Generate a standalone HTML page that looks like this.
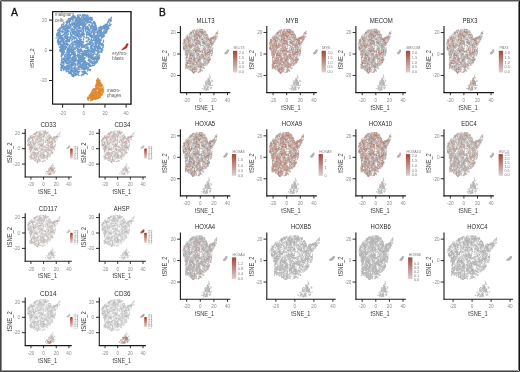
<!DOCTYPE html>
<html><head><meta charset="utf-8"><style>
html,body{margin:0;padding:0;background:#fff;width:520px;height:372px;overflow:hidden}
svg{display:block}
text{font-family:"Liberation Sans",sans-serif}
defs path{vector-effect:non-scaling-stroke;stroke-linecap:round;fill:none}
</style></head><body>
<svg width="520" height="372" viewBox="0 0 520 372">
<defs><linearGradient id="grad" x1="0" y1="0" x2="0" y2="1"><stop offset="0" stop-color="#a2463a"/><stop offset="1" stop-color="#d8d2d2"/></linearGradient>
<linearGradient id="gradA" x1="0" y1="0" x2="0" y2="1"><stop offset="0" stop-color="#a8301f"/><stop offset="1" stop-color="#e4d4d0"/></linearGradient>
<path id="PM" d="M-6.5 20.9h0M-12.7-7.2h0M-13.5-5.4h0M-4.4-7.5h0M-17.2 15.4h0M21.4 14.2h0M-22.1 4.2h0M16.4-0.8h0M14.9 2.2h0M21.9 14.7h0M14.3 0.7h0M10.5 12.0h0M-10.7-10.1h0M-20.3-0.6h0M16.1 12.6h0M-17.3 14.0h0M5.5 12.4h0M-9.4 10.8h0M5.2 18.2h0M-2.1-5.5h0M-15.2 5.7h0M-6.1 18.4h0M-9.6-17.5h0M-1.6-16.6h0M0.9-3.1h0M-0.1-4.1h0M-10.1 8.4h0M-15.7 8.8h0M-15.9-9.1h0M-19.4 3.0h0M-3.4 6.4h0M-23.3 4.4h0M-16.4 18.6h0M1.1-15.8h0M7.4 7.9h0M9.0 17.9h0M17.5 14.5h0M11.7 7.9h0M-7.0 9.7h0M-19.5 0.1h0M-3.8-8.2h0M-7.4-6.4h0M-9.8-17.7h0M-12.7 3.3h0M-20.1 1.6h0M3.9 0.7h0M-2.2 10.6h0M-8.9 14.7h0M-24.5 6.5h0M-23.4 10.9h0M8.3 15.8h0M-10.0 12.2h0M-6.9 5.8h0M4.8-3.3h0M1.4-12.0h0M6.7 9.0h0M-0.9 22.6h0M16.1-0.4h0M11.7 5.8h0M-12.0-13.2h0M-12.5-0.4h0M7.9-0.7h0M-5.4 22.9h0M-12.2 7.5h0M-6.4 18.0h0M5.9 10.1h0M-4.2 1.7h0M-6.0 4.4h0M-6.5 20.9h0M12.1 7.6h0M-19.6 0.5h0M6.3 20.4h0M-21.0 8.2h0M-7.9 5.0h0M5.9-13.9h0M3.0 1.9h0M-5.1 2.3h0M0.3-8.6h0M-1.8 4.3h0M-21.5-0.3h0M11.2 8.1h0M-11.9-10.6h0M-21.5 5.4h0M-21.3-13.5h0M-7.8 19.3h0M-17.4 14.0h0M-14.3 18.9h0M-18.9 13.2h0M10.7 15.7h0M8.6 0.9h0M-20.0 2.0h0M-13.9-11.9h0M2.4-1.1h0M2.2 20.3h0M-20.8 15.2h0M-6.3-13.2h0M-14.1-13.1h0M-8.8 12.5h0M-2.4 18.8h0M-19.9-10.7h0M-12.1 16.7h0M-17.7 2.4h0M-24.6 12.6h0M-5.7 17.1h0M-15.8-2.8h0M-9.5-5.5h0M1.2 17.5h0M-1.4 16.3h0M18.0 3.8h0M-3.3 19.7h0M4.0-12.1h0M14.7 11.5h0M6.7 9.4h0M9.3 8.0h0M-10.1-17.4h0M7.1-8.7h0M-5.2-9.2h0M12.0 9.0h0M-16.7 16.4h0M-24.8 4.7h0M-16.2-7.3h0M-18.4 13.3h0M-2.7-0.1h0M1.1-8.9h0M-3.5 16.4h0M6.6-10.9h0M3.2 21.5h0M18.3 8.4h0M-10.0-5.7h0M7.7 16.8h0M-2.8-10.4h0M-4.9-12.2h0M-14.4 14.0h0M-4.3 2.0h0M13.2-2.0h0M10.8-4.7h0M2.5 8.3h0M6.9 1.5h0M-18.8 10.2h0M-20.8-10.1h0M-15.9 9.7h0M-4.1-1.5h0M16.4-1.2h0M-17.2 2.6h0M9.8-6.6h0M12.0-6.4h0M16.2 12.8h0M-8.0-10.9h0M24.8 20.1h0M-22.2 8.5h0M-20.0-12.4h0M-4.8-6.0h0M-21.9 4.7h0M-17.8 13.9h0M2.8-2.7h0M6.2 9.5h0M-13.7-8.7h0M-7.4-14.2h0M-13.3 5.8h0M11.2 2.4h0M1.2-5.4h0M-5.8 0.3h0M17.0 10.5h0M-9.0 5.4h0M-15.8 7.3h0M-13.4 1.1h0M-19.2-8.7h0M-13.4-2.1h0M-10.0 0.3h0M12.1 14.7h0M-14.5 10.3h0M2.2 15.2h0M-0.3-9.0h0M2.3 1.1h0M-9.2 22.2h0M7.7 21.3h0M-0.6-9.5h0M13.3-0.8h0M-6.2 15.5h0M-2.5 2.7h0M-3.8 6.6h0M-3.0-6.8h0M-10.0-10.6h0M-0.2 15.0h0M-11.2 0.3h0M-18.6-0.1h0M7.2 7.0h0M-4.6 14.6h0M18.6 6.3h0M-0.3 22.3h0M-8.4 7.6h0M-3.4 10.4h0M1.2 3.1h0M-15.3 0.7h0M11.8-3.3h0M-12.3-13.7h0M14.9 14.5h0M9.4-1.9h0M13.2 6.2h0M-16.9-7.3h0M-7.6-10.0h0M-11.7 0.2h0M-4.8 20.1h0M2.9-15.9h0M-7.4-10.1h0M11.6 9.2h0M-9.3-15.7h0M4.2 19.4h0M-24.8 9.5h0M-18.3 11.2h0M-12.2 16.5h0M-2.9 16.6h0M-3.8 18.5h0M1.5 18.9h0M17.3 10.8h0M11.7 8.2h0M-11.6 12.4h0M-12.4 10.3h0M-1.0-12.3h0M-3.0-6.5h0M-5.7-14.3h0M21.5 11.6h0M-14.2 1.5h0M-14.5-12.6h0M-11.4-6.9h0M7.7-1.2h0M-11.8-16.6h0M-0.1 6.8h0M11.1 1.2h0M-7.6 15.0h0M-8.3 0.2h0M-9.8 3.2h0M8.3-8.5h0M-10.9 20.5h0M-13.4 19.6h0M-0.3-7.0h0M-4.0 12.7h0M11.6 14.1h0M-22.8 14.2h0M-10.4 20.3h0M5.8 10.7h0M-10.2-17.7h0M-4.9-8.8h0M-21.5 2.4h0M-5.4 12.5h0M-21.7 8.4h0M10.2 2.2h0M10.6 9.3h0M-14.0-11.1h0M13.1 1.5h0M17.7 14.9h0M9.1 6.8h0M-18.8 17.2h0M3.9-1.0h0M-11.6-9.7h0M9.5-2.4h0M5.2 5.2h0M-5.6-2.2h0M-12.1-10.4h0M6.4 2.2h0M1.8-9.5h0M-20.7 6.5h0M17.2 3.0h0M-14.3-12.2h0M-17.7 13.8h0M3.8 8.0h0M10.3 8.4h0M-3.9 12.2h0M-0.0 19.8h0M-12.9 7.3h0M-17.9 1.5h0M-6.7-16.5h0M-0.1 21.3h0M8.9 3.3h0M-14.1 19.2h0M12.7 4.8h0M-2.9 5.4h0M-16.2-14.3h0M-1.9 22.1h0M-19.2 14.9h0M20.4 14.7h0M9.2 18.0h0M-12.0 12.7h0M-8.2 18.6h0M-16.5 10.1h0M-20.4 9.2h0M7.1 11.4h0M-4.5-3.1h0M-6.7 2.3h0M-25.1 9.3h0M-0.4 5.0h0M4.1-13.2h0M-21.4-0.8h0M8.9 3.4h0M-19.8-11.2h0M-19.2 1.7h0M-20.7-10.6h0M5.3-9.0h0M11.3-0.3h0M-2.3-10.6h0M12.4-3.2h0M18.5 15.3h0M7.2 20.8h0M14.7 5.0h0M-9.1 7.0h0M-10.7 21.5h0M13.2 7.7h0M-19.0-0.9h0M4.0 14.0h0M-13.5 5.6h0M17.3 10.1h0M-1.1-11.3h0M0.7 10.3h0M12.4 1.3h0M-20.2-0.5h0M-4.4 14.2h0M-19.0 4.4h0M-18.4 0.7h0M19.8 15.1h0M-2.1 12.2h0M-7.4 9.4h0M-2.1 2.6h0M-7.6 8.0h0M18.6 15.8h0M-9.4 11.6h0M22.0 15.4h0M16.7 0.5h0M4.2 19.1h0M-0.2 15.4h0M-0.0-16.5h0M-1.5-9.4h0M22.2 15.3h0M-11.3-1.4h0M-10.0-16.3h0M-5.2-9.6h0M-6.0-9.1h0M7.6-5.6h0M-0.7-5.6h0M-9.4 17.9h0M-0.5 7.3h0M-16.5 2.0h0M7.0-4.1h0M-1.3-1.0h0M-8.8 5.7h0M-18.9-12.3h0M2.1 20.9h0M-14.8-6.5h0M-19.5 15.2h0M13.1-7.2h0M15.1 9.0h0M-17.9-6.3h0M1.4 20.9h0M-19.4 1.1h0M-24.9 11.0h0M-15.9-13.3h0M-7.7 16.8h0M11.2 17.1h0M-1.5-9.9h0M-15.3 14.7h0M-25.3 10.6h0M-6.5 19.5h0M8.6 17.6h0M-7.6-4.4h0M-16.7 5.7h0M3.9-11.4h0M-1.2 3.1h0M-10.5-14.2h0M6.1 21.5h0M-17.8 3.7h0M-21.4 5.4h0M-12.0 8.7h0M-19.5-8.1h0M1.2-9.7h0M-3.3-1.2h0M-14.1 14.8h0M-3.4 14.2h0M-3.0 12.1h0M13.7-5.1h0M8.3 15.1h0M2.4 8.2h0M-19.4 13.6h0M-7.2 6.0h0M3.9 10.3h0M-12.5-15.0h0M0.7-1.0h0M13.7 9.5h0M-2.3-6.2h0M-4.6 23.0h0M-12.2-7.4h0M21.3 15.9h0M-16.1 13.9h0M0.2 22.8h0M-8.5 11.6h0M-20.4 16.9h0M20.2 16.0h0M8.0 4.8h0M-8.4-15.3h0M-2.4-10.8h0M-0.2-8.5h0M19.1 8.9h0M7.1 4.5h0M6.2-6.9h0M17.0 11.9h0M7.1-4.7h0M-5.8 5.3h0M-7.0 9.9h0M8.9-10.5h0M-2.7 9.8h0M-6.2 16.4h0M-15.7 4.2h0M-7.1 9.5h0M3.0 8.1h0M5.9-4.9h0M-4.2 15.4h0M-21.6-11.9h0M0.5 16.6h0M-24.1 13.4h0M1.1 2.0h0M-11.1-10.8h0M-3.9 14.8h0M4.5-2.3h0M-9.5-1.8h0M-6.0 6.0h0M2.6 10.4h0M-22.7-0.0h0M13.9-2.2h0M5.0-3.0h0M18.9 10.3h0M-23.9 7.0h0M-15.9 4.5h0M-1.0 16.0h0M20.6 16.3h0M-18.6-12.7h0M-0.5-1.6h0M-8.6 17.7h0M-8.7 8.4h0M2.3 3.6h0M-6.1 9.5h0M-5.5 18.6h0M12.3-5.7h0M-4.8 10.7h0M-15.5 9.0h0M-16.8-13.9h0M12.3-4.4h0M11.5 15.2h0M16.3 0.8h0M-15.8-10.4h0M-5.9-16.1h0M5.4-10.4h0M-15.0-1.9h0M12.0 13.0h0M-9.9 21.0h0M-6.3 2.1h0M18.1 11.2h0M-10.0-16.7h0M-24.0 10.5h0M16.6 15.4h0M-19.1 16.8h0M4.0 1.6h0M-3.6 3.6h0M-11.0 9.1h0M2.0 21.3h0M11.4-6.7h0M8.6-9.2h0M-10.6-9.6h0M13.6 2.6h0M6.5-11.0h0M4.7 13.3h0M-1.4 13.8h0M6.7 14.8h0M-21.2-13.8h0M-24.5 4.6h0M-0.8-4.3h0M-20.8 16.4h0M-9.9-0.5h0M-20.7-1.2h0M-24.5 6.0h0M-6.5 9.5h0M-19.9-11.2h0M-18.4-6.7h0M-2.1-12.8h0M-1.3 18.1h0M3.2 22.8h0M-2.5 13.2h0M-18.7-12.8h0M-16.5 7.2h0M-19.6 3.5h0M-20.9-5.7h0M-22.4 5.0h0M-8.6-13.8h0M-22.2 13.4h0M-18.8 5.4h0M9.7 14.0h0M0.8-10.9h0M-17.2 0.7h0M-8.9 22.3h0M-15.9 8.3h0M-1.3-7.6h0M3.6 20.8h0M-4.6 9.0h0M-21.5 8.4h0M8.2 9.3h0M7.1 0.7h0M7.7 20.7h0M-21.2 14.3h0M-7.5-8.0h0M7.4-3.7h0M-2.1-8.1h0M-12.2 8.4h0M-11.7-8.9h0M-5.5 2.4h0M9.4 14.7h0M-18.7 14.7h0M5.8 21.3h0M16.5 14.6h0M17.0 3.0h0M-1.6-16.5h0M7.2 12.3h0M-13.9-5.9h0M-17.7-3.4h0M0.1 8.8h0M13.3 0.0h0M-13.8 6.4h0M2.6-12.1h0M17.2-1.4h0M-16.1 1.7h0M23.2 18.9h0M4.2-7.1h0M-10.8-5.3h0M-13.5-7.3h0M-14.2 19.4h0M-22.2 12.4h0M21.7 13.9h0M-9.2-12.2h0M-10.2 2.0h0M11.2 6.6h0M-12.0 7.5h0M-3.7 12.3h0M-24.4 8.0h0M18.1 2.6h0M1.9 18.9h0M-1.5-12.6h0M-1.2 17.4h0M1.9 19.6h0M3.0 1.0h0M6.0-7.8h0M-11.7 4.2h0M-16.1 9.0h0M-7.2 19.9h0M-5.5-4.8h0M6.0-1.1h0M-7.3 21.0h0M-7.1 18.3h0M-18.2 10.0h0M-10.2 8.7h0M-21.0-3.6h0M3.8 11.1h0M-5.6 15.3h0M-16.7 18.0h0M6.6-8.4h0M-15.2 10.2h0M-13.5-0.8h0M-3.2 0.5h0M-8.2-11.3h0M22.2 17.1h0M-20.0-6.2h0M25.4 20.4h0M-11.2 8.8h0M-8.8-14.5h0M5.7 16.1h0M-15.2-8.6h0M13.7 0.9h0M-7.5-3.8h0M-2.7 5.0h0M-19.5 2.1h0M-0.1 15.9h0M3.9-8.9h0M-18.5 2.3h0M-19.4-9.1h0M0.4-0.4h0M7.2 12.0h0M22.8 18.5h0M17.4 9.4h0M-5.9-3.8h0M-1.0-12.3h0M16.6 2.9h0M6.4-13.2h0M-10.7 16.0h0M-0.9 20.3h0M-19.8 5.6h0M-12.9 19.6h0M7.1 1.1h0M17.3 13.9h0M-9.2 0.2h0M-9.2-5.4h0M-8.5-4.7h0M-14.2-9.4h0M-5.8-3.3h0M0.3 8.6h0M0.7-10.8h0M-20.7 12.1h0M-0.6-5.4h0M-12.5 11.1h0M-16.7-8.9h0M-9.7-6.5h0M-13.6 19.4h0M-21.1 6.5h0M-15.4 4.4h0M5.5 4.5h0M23.5 15.6h0M6.6 15.0h0M14.4 2.6h0M10.9 15.1h0M-21.0-4.4h0M-1.6-1.3h0M-12.1-12.8h0M-2.1-0.1h0M-0.6 22.3h0M-21.8 3.1h0M-23.8 4.6h0M10.3 0.8h0M-17.1 0.8h0M-3.6-13.3h0M-23.2 7.6h0M-13.8 18.4h0M-8.9-15.1h0M-6.3 21.2h0M-16.4-14.6h0M10.0 13.7h0M-6.0 22.6h0M-5.0 7.7h0M-5.6-16.3h0M12.5 9.7h0M22.3 15.1h0M6.6-5.7h0M-19.5 14.6h0M-2.5-5.1h0M7.4-0.4h0M-3.6-1.6h0M-13.3-0.9h0M-14.3 18.6h0M-1.0-6.7h0M-8.3-14.6h0M20.2 11.9h0M-13.1-5.5h0M-13.6 18.3h0M-12.7 11.6h0M11.3 4.3h0M-8.3 21.7h0M-14.1 18.4h0M1.2-1.9h0M12.5 4.2h0M-22.7 5.1h0M-3.7-7.2h0M-10.4-1.0h0M-12.8-0.8h0M-5.5 17.0h0M-19.5 7.7h0M18.6 5.5h0M8.7 6.3h0M4.2 14.7h0M4.7 11.3h0M2.5-10.6h0M12.9-2.6h0M9.0 18.1h0M-12.9 0.3h0M2.9 9.5h0M-8.4-14.5h0M-1.1 5.3h0M-11.7-13.7h0M5.5-11.1h0M2.8 20.4h0M-12.4 0.4h0M-8.5-15.5h0M-8.0-6.7h0M-17.6-12.4h0M-15.3-4.1h0M-4.5 15.1h0M-19.8-7.9h0M13.9 1.3h0M-8.2 16.5h0M-13.9-3.4h0M-14.2 5.7h0M-14.9-6.3h0M19.4 9.2h0M4.1-4.0h0M18.6 15.5h0M25.7 16.7h0M-9.8-9.6h0M-0.7-15.1h0M19.2 12.7h0M-16.6-5.1h0M-23.3 11.2h0M5.2 5.2h0M-8.3-10.3h0M16.2 13.4h0M-13.8-12.9h0M-17.1-13.3h0M-9.4 13.2h0M-4.0-14.5h0M11.1 1.1h0M-13.7 13.9h0M-7.4 16.0h0M3.6-12.2h0M9.0 11.2h0M-18.8-0.3h0M6.6 2.0h0M2.2-8.5h0M4.6 12.7h0M-14.2 1.8h0M-16.9-6.1h0M-1.1 10.1h0M-4.3-7.6h0M11.9 1.4h0M-17.2 14.0h0M-11.1 0.3h0M-19.8 3.3h0M-0.2-7.9h0M10.4 16.5h0M-13.4-11.0h0M9.4 14.1h0M-12.9 16.0h0M-6.4 12.2h0M-15.0-1.0h0M-17.4 10.8h0M-14.3-6.9h0M-20.3-11.1h0M3.9 21.6h0M9.0 12.1h0M-18.7 3.9h0M-21.8 7.9h0M-21.6 14.0h0M0.3-12.0h0M-4.4 15.6h0M-15.1-6.7h0M16.1 15.2h0M4.8-9.9h0M-20.7 7.3h0M-4.5-0.1h0M-16.3 6.1h0M7.4-7.9h0M-3.9 4.1h0M16.0 11.1h0M-17.0-5.8h0M-13.1-5.7h0M-4.7-3.3h0M-13.6 17.8h0M-20.6-10.2h0M17.3 13.4h0M-24.0 3.3h0M23.4 18.3h0M2.7 22.4h0M-2.4 6.4h0M-15.2-4.8h0M-0.2-9.3h0M-5.7 20.2h0M-5.7-9.5h0M-10.3 11.1h0M-2.2 8.4h0M-14.8-8.9h0M8.7 17.2h0M-0.9-16.6h0M-11.2 13.8h0M1.9 16.4h0M-17.3 13.6h0M1.8 20.7h0M8.1-6.6h0M-14.9-8.4h0M-15.8 14.6h0M12.7 1.6h0M-13.4-7.3h0M-17.4 12.8h0M-14.8 16.0h0M-7.1 1.8h0M26.0 21.5h0M-1.7-2.5h0M-11.4 21.0h0M9.6 13.3h0M-24.4 4.6h0M-17.3 7.6h0M-18.6-5.2h0M-2.9-11.8h0M2.3-4.0h0M-9.2 16.4h0M16.7 14.6h0M-15.2 19.3h0M-17.8 15.1h0M-21.3-4.4h0M-23.0 12.7h0M-1.8-1.3h0M-0.4-7.6h0M-11.8 20.2h0M4.9 16.3h0M-13.5-15.1h0M7.6 16.0h0M10.5-9.6h0M-15.0-6.7h0M22.1 16.5h0M10.7-8.6h0M-4.3-4.4h0M-15.0-3.2h0M6.2-4.3h0M1.2-8.8h0M-19.7 5.4h0M-17.1 13.3h0M-19.9-0.1h0M-19.1-10.7h0M-8.3 4.6h0M-18.6 7.1h0M-15.6-6.1h0M-12.6 2.2h0M8.2 17.5h0M2.5 20.2h0M-7.3 9.6h0M9.6 14.8h0M-20.6 2.4h0M13.4 2.3h0M2.5-1.0h0M3.6 22.8h0M-3.2-5.1h0M-18.3-1.3h0M0.4-10.3h0M-10.7 20.1h0M-1.8 3.0h0M-9.5 15.1h0M-6.1-15.0h0M12.8-4.0h0M2.0 12.0h0M-4.4 6.1h0M5.2-3.3h0M-23.7 11.0h0M8.4 12.9h0M10.2 8.0h0M24.9 15.9h0M3.7-3.0h0M11.8 2.6h0M-11.7 21.4h0M-14.8-7.4h0M6.1 5.4h0M-10.7 16.4h0M-8.8 16.0h0M-14.4-15.4h0M12.7 11.8h0M-19.0 14.0h0M1.3-15.0h0M1.8 22.9h0M-5.3 4.3h0M11.3-0.3h0M-17.0-11.6h0M4.4-0.8h0M-2.8 9.4h0M7.4 9.3h0M-3.8 19.6h0M12.3 1.9h0M8.0 2.8h0M-15.4 7.8h0M-20.0-8.0h0M8.9-4.1h0M-24.3 7.1h0M-16.8 7.4h0M4.5-4.4h0M-5.0 18.2h0M-5.4 18.8h0M-4.4-5.7h0M-7.8-12.1h0M-9.6-5.6h0M14.8 13.1h0M12.6 8.9h0M-0.1 11.9h0M8.5-6.4h0M0.3 8.6h0M-17.6 3.4h0M-3.6 12.1h0M-8.5 14.4h0M7.5-2.3h0M-14.1-10.4h0M5.9 3.5h0M-8.5 12.8h0M7.5 13.9h0M-22.1 5.8h0M17.3 0.3h0M-14.5 0.2h0M13.9 6.2h0M-1.8 16.0h0M12.0 9.5h0M-19.3-12.7h0M3.1 13.5h0M-14.0 6.6h0M-9.5-8.4h0M14.6 6.8h0M4.0 4.2h0M-12.8 7.6h0M1.7 20.5h0M12.9 1.3h0M11.5 11.4h0M-9.3 1.2h0M0.6-13.0h0M13.9 1.8h0M-16.3 6.1h0M15.6 6.7h0M-12.3-7.6h0M1.9-2.7h0M5.7 12.2h0M-12.9-1.5h0M-16.9 8.4h0M-7.1 9.4h0M-4.7 9.6h0M-13.7-5.1h0M-13.5 6.7h0M7.8 1.8h0M-8.0-13.1h0M-19.0-13.6h0M20.8 16.0h0M3.0 19.1h0M14.9 13.2h0M-22.4 13.2h0M15.2 0.6h0M-3.3-9.5h0M8.5 8.1h0M5.0-1.3h0M2.3 19.1h0M10.6 13.5h0M9.3 0.0h0M-21.2-1.9h0M-16.4 7.6h0M-12.4 9.8h0M-5.1 10.5h0M-7.6 4.9h0M-12.5 8.0h0M9.9-7.4h0M-20.8-0.0h0M14.5 2.2h0M9.5-1.3h0M11.1 5.1h0M-12.2-5.9h0M-21.8 12.0h0M6.1-10.1h0M-20.4 15.4h0M-14.8-11.5h0M-19.0 6.1h0M22.2 14.5h0M-21.9 0.7h0M-21.8 5.6h0M-13.4-15.6h0M3.4 22.9h0M-5.9-8.1h0M-10.3-5.6h0M-20.3 8.0h0M-18.4-11.2h0M-13.8 13.9h0M-9.4 10.2h0M-15.4 15.7h0M13.9 12.3h0M-14.1 14.4h0M10.6 17.8h0M2.8-3.8h0M1.5-9.6h0M16.4 12.3h0M-20.8 14.9h0M-12.0-14.0h0M13.9 3.9h0M17.5 8.1h0M-18.4 8.6h0M0.4-8.0h0M-14.8 6.2h0M-3.9-11.5h0M-18.8-8.7h0M-2.5 0.4h0M-5.1 4.3h0M-6.7 13.5h0M9.8 7.9h0M-25.6 9.9h0M1.6 17.3h0M14.3-4.7h0M10.5-5.0h0M-6.4 12.9h0M-15.2-5.0h0M14.4 8.8h0M-5.2 9.1h0M-19.8 3.3h0M16.1 15.5h0M15.0 1.9h0M-6.5 8.8h0M5.1 20.6h0M-14.1 0.2h0M-21.9-1.2h0M-11.4-0.5h0M-3.4 3.1h0M11.0 3.4h0M5.6 20.0h0M-11.1 4.4h0M-5.9 17.1h0M-5.6 16.7h0M8.6 4.1h0M-9.0 16.9h0M-4.2 21.5h0M-5.1-11.2h0M-10.9-5.6h0M-17.4 11.2h0M22.6 15.7h0M-6.4 18.7h0M-5.1-16.1h0M7.5 1.8h0M-0.8 18.2h0M-15.7 7.4h0M14.2 8.6h0M-0.6 14.6h0M9.8 4.6h0M-16.8-12.0h0M11.5 1.7h0M-12.4-15.8h0M6.9 6.5h0M5.3 7.0h0M14.1 3.8h0M6.6-8.4h0M17.7 0.9h0M-16.9-4.9h0M1.1 20.2h0M-22.8 7.9h0M-18.1-5.8h0M-12.7 19.9h0M-23.0 1.7h0M-22.0 2.9h0M2.5-2.3h0M-16.1 11.2h0M10.7-1.5h0M0.7 2.8h0M13.8 12.8h0M20.4 15.9h0M-23.8 3.8h0M-9.3-17.4h0M-7.8-10.5h0M4.0 19.2h0M-7.9-12.8h0M5.2 16.8h0M0.8-2.4h0M-19.4 3.4h0M16.5 11.7h0M0.6-9.0h0M-19.6-10.5h0M15.8 12.9h0M4.4-10.0h0M-3.5 17.1h0M0.4 2.3h0M-5.5 16.6h0M0.8 18.4h0M-5.3-6.6h0M-21.1 9.1h0M17.0 15.1h0M4.1 19.1h0M-15.6-7.3h0M-23.5 12.7h0M-1.9-2.5h0M-10.8 0.4h0M1.7 14.6h0M-17.7-11.3h0M-9.8-1.8h0M-10.8 21.9h0M-0.5-9.9h0M-9.6-2.3h0M8.2 13.9h0M24.5 19.3h0M-20.0-10.3h0M7.0 8.2h0M-5.1-9.2h0M-14.7 5.6h0M-23.5 4.1h0M12.0 3.6h0M13.6-4.8h0M-11.0-0.8h0M-11.0 11.4h0M-20.5-2.9h0M-0.9 11.5h0M-0.3-13.2h0M-22.2 10.5h0M14.4 9.6h0M-17.7 0.1h0M8.6 11.5h0M12.3 1.2h0M-21.0 1.6h0M-1.2 15.7h0M-19.9 1.7h0M-18.6-8.7h0M-21.8-9.8h0M-22.7 11.7h0M-1.2-11.7h0M-2.2 5.2h0M-3.7 5.7h0M12.6 9.5h0M4.8-5.5h0M6.2 10.6h0M-13.4 19.8h0M14.6 13.9h0M-9.7-4.8h0M-17.6 12.5h0M11.1-3.0h0M-2.8 4.4h0M-19.7-3.3h0M-5.2 4.3h0M10.7 12.6h0M-6.1 19.5h0M-5.7-12.0h0M14.0-6.2h0M-2.1-11.9h0M15.6 1.7h0M-6.9 15.0h0M17.3 3.5h0M-5.2-8.8h0M5.6 10.8h0M-6.0-3.7h0M11.5 6.1h0M12.1 5.0h0M-7.8-4.5h0M-3.3-9.1h0M-5.3 19.0h0M-12.4-15.5h0M-3.8 4.9h0M-3.4-9.8h0M-0.5 16.4h0M20.1 15.1h0M-10.8-9.1h0M14.5-6.0h0M-20.6 12.7h0M10.9 8.6h0M17.7 3.9h0M-15.7 11.9h0M-2.4-17.1h0M-14.6 20.0h0M-14.6 20.1h0M8.0 3.0h0M-8.6-17.3h0M-4.1 12.0h0M6.3 1.2h0M2.5-2.4h0M-21.4-12.4h0M16.4 8.8h0M-1.3 3.6h0M5.9-0.5h0M14.8 0.5h0M12.1 5.7h0M7.1 7.0h0M-10.2-8.2h0M25.6 16.5h0M-4.0-4.7h0M0.9-8.4h0M-20.7-3.3h0M-13.8 8.4h0M8.1 15.1h0M-3.9 4.6h0M15.1 1.4h0M11.0 5.5h0M-18.6 15.6h0M-20.1 2.0h0M-7.9-16.3h0M-21.6 14.9h0M0.9-9.4h0M8.1-1.9h0M7.2 2.9h0M12.5 9.2h0M0.0 22.7h0M-0.3 6.5h0M-0.8 1.7h0M6.3-2.5h0M-22.5 8.2h0M-9.3-7.5h0M5.2-10.2h0M-22.7 13.1h0M9.0 18.1h0M-11.0-2.8h0M4.9 0.1h0M-2.3-2.9h0M-2.1-5.2h0M-11.5 17.7h0M-16.5 14.3h0M0.1 10.6h0M0.3 13.8h0M-3.4 22.9h0M7.8 5.1h0M-19.9 7.7h0M1.0-6.0h0M-14.5 3.5h0M-22.1 0.2h0M7.6-6.9h0M2.1 2.6h0M-14.4 18.6h0M8.4-10.4h0M-6.5-0.8h0M-11.5-8.5h0M14.3 12.7h0M-16.5 7.9h0M-0.3 10.7h0M-0.1-8.1h0M-6.1 0.8h0M-10.7-14.6h0M0.1-5.5h0M-2.4 4.8h0M9.2 10.5h0M22.7 15.9h0M-23.1 4.9h0M4.2 11.2h0M2.7-1.4h0M-16.9 15.7h0M20.1 14.7h0M11.7 15.6h0M3.7 20.8h0M-4.5-4.5h0M-8.1-12.3h0M-2.8 17.9h0M6.5-5.2h0M-12.6-11.1h0M14.2 5.8h0M1.6-7.9h0M-4.0-1.4h0M14.7-4.9h0M15.4 4.8h0M-20.5 2.6h0M25.8 20.7h0M9.1 13.6h0M0.4-11.3h0M3.6 3.7h0M4.3 20.9h0M-10.7 19.8h0M-18.8-0.8h0M-6.6 6.4h0M7.0 11.3h0M13.6 10.8h0M-6.9 1.0h0M-4.4 20.4h0M-3.6 19.1h0M-20.4-2.7h0M-17.0-7.5h0M-19.7-1.6h0M15.2 10.7h0M-16.2 9.0h0M18.5 2.6h0M3.3-8.9h0M11.0-8.0h0M-23.6 9.5h0M1.1 1.8h0M-8.2-14.3h0M-0.6 3.3h0M-21.7-10.1h0M15.3 3.5h0M-5.3 21.6h0M25.2 18.8h0M2.6 20.9h0M18.9 14.0h0M-0.2 20.7h0M-16.4 5.2h0M13.4 7.8h0M14.0 7.0h0M-10.1-6.3h0M21.9 15.1h0M5.7 13.1h0M-19.9 3.8h0M12.4 13.6h0M-13.5 19.7h0M1.0-3.7h0M-9.1 12.8h0M0.8-2.2h0M0.5-11.8h0M-6.4 8.8h0M12.2 2.0h0M-0.3-4.4h0M5.8 8.7h0M-1.0 17.9h0M-1.7-7.2h0M11.7 14.4h0M3.2-9.2h0M21.9 12.3h0M18.9 13.9h0M-17.3-11.8h0M-5.3 10.4h0M10.1-8.6h0M-5.9 21.5h0M-0.0-10.6h0M-24.7 5.4h0M-23.9 11.4h0M-14.7-13.2h0M-18.5 13.5h0M17.6 14.8h0M-14.1 15.0h0M-8.3-6.3h0M10.3 7.3h0M-23.4 12.3h0M16.8 9.6h0M-8.3-4.7h0M-11.4 1.7h0M-15.3 3.0h0M18.5 4.9h0M5.9-13.3h0M5.3 10.4h0M9.8-1.4h0M-10.2 7.6h0M-15.2-0.7h0M-18.7-2.1h0M-3.1 19.5h0M-16.3-12.4h0M-8.8-1.6h0M-4.1 18.3h0M-7.1-15.8h0M20.1 16.8h0M16.4 6.1h0M-14.2-9.0h0M-5.8 15.5h0M-11.5-11.1h0M-7.0 18.5h0M-10.7 2.7h0M-18.5 2.3h0M11.1 16.1h0M7.4-0.5h0M3.8 17.8h0M7.1 17.8h0M-0.4 4.6h0M21.1 14.5h0M-21.7 7.7h0M6.1-8.2h0M-21.7 7.7h0M-3.2 20.5h0M-17.8 8.1h0M-13.0 15.3h0M-20.5 3.0h0M19.0 15.6h0M-0.6-8.1h0M-18.0 4.7h0M-1.8 14.4h0M-8.6 4.6h0M-2.5 0.5h0M-10.4-12.2h0M-13.8-2.6h0M-6.4 6.6h0M-13.0-4.6h0M-3.3 5.3h0M22.5 14.8h0M-3.4 16.3h0M-9.9-0.6h0M-18.9 13.5h0M2.5-0.5h0M-8.2 20.4h0M-9.4 3.3h0M-18.5-11.9h0M-15.6 16.0h0M-11.9-1.5h0M15.2 12.0h0M-20.3 2.1h0M-2.2 17.0h0M-19.2 9.8h0M4.2 13.0h0M-14.6 11.9h0M-4.6 9.9h0M5.5 9.6h0M0.3 19.6h0M-10.8-2.5h0M-15.2 6.1h0M-21.2-10.4h0M-20.8-7.4h0M3.1-1.7h0M-7.9-16.5h0M-12.3-11.5h0M22.2 16.7h0M-15.6-1.2h0M-10.2-14.7h0M-4.8 1.3h0M-6.5 16.5h0M-24.4 5.2h0M-8.3-1.3h0M12.8 10.5h0M-5.3 3.0h0M-8.3-12.5h0M9.4 0.1h0M-6.8 7.3h0M-1.7-6.7h0M5.4-13.2h0M14.7 3.9h0M-3.3 0.1h0M16.6 7.3h0M-15.4 6.3h0M-13.4-12.3h0M3.2 11.4h0M4.3 19.6h0M-13.8-14.7h0M-6.9 6.1h0M11.4 9.0h0M-9.5 22.0h0M1.7-12.1h0M-8.2 3.0h0M1.2 22.5h0M13.5 0.6h0M-3.8 5.7h0M8.2-0.7h0M-4.7 17.0h0M-16.3 10.2h0M8.2 20.1h0M-15.5 13.9h0M-13.9-6.7h0M-21.0 0.7h0M6.7 1.3h0M-3.1 22.7h0M-9.7 1.7h0M-5.1 11.0h0M7.0 0.8h0M2.3-11.5h0M-6.7-14.6h0M-2.7 2.4h0M-7.6-5.0h0M-0.3-14.9h0M7.7 0.2h0M-9.4-5.6h0M3.7-3.9h0M-20.3-10.4h0M12.5 1.5h0M8.1-9.4h0M-18.5-7.4h0M-9.2-9.2h0M0.2 10.5h0M-21.5 2.2h0M17.6 3.6h0M6.1 15.4h0M15.2-1.8h0M-10.5 0.3h0M-8.8 15.0h0M13.2 1.6h0M-21.4-9.9h0M-8.4-3.5h0M25.9 19.3h0M-8.9-4.4h0M17.2 13.5h0M-4.1-7.1h0M-18.7-7.9h0M-9.2-3.8h0M-20.5-6.5h0M-5.3 0.9h0M-2.5 20.7h0M-14.3 20.5h0M-21.8-13.5h0M-23.5 5.3h0M4.7 18.5h0M-11.0 1.6h0M-5.2-9.6h0M-4.4 12.0h0M-3.3-0.8h0M1.3 20.3h0M-16.2 8.1h0M-17.0 2.1h0M-6.1-9.4h0M-12.7-7.8h0M-4.4-3.0h0M-14.8-1.8h0M-1.3 9.2h0M-13.0-15.4h0M-14.9-1.4h0M2.4-10.0h0M-4.3-8.2h0M5.3-7.3h0M-8.4-6.9h0M0.4 22.2h0M-4.9-13.0h0M-0.4 16.8h0M-12.4-4.9h0M10.8 16.8h0M4.8 19.9h0M-1.5 10.7h0M-4.9 8.8h0M-17.0 10.6h0M-21.1-7.1h0M-13.6 5.2h0M5.2-9.5h0M-15.7-11.1h0M-17.0 1.5h0M10.4 9.0h0M0.7-10.0h0M6.6 9.7h0M5.4-4.2h0M12.6-6.4h0M4.8-4.3h0M-1.5-2.9h0M13.2 2.5h0M-22.2 4.9h0M9.6 0.2h0M-15.7 12.9h0M5.2 16.6h0M10.4 11.8h0M12.0-6.5h0M-0.5 22.5h0M-15.4 14.9h0M-4.4 14.4h0M-19.5-8.7h0M-0.2-8.6h0M5.0-1.3h0M-24.3 8.9h0M-0.9 1.5h0M-12.5 20.1h0M-19.8-10.6h0M-11.0 17.3h0M7.5 19.7h0M3.3 18.4h0M-5.3-7.5h0M-10.3 18.3h0M13.6-5.3h0M-2.5-7.3h0M2.6 15.0h0M-1.9 5.4h0M-13.4 7.2h0M-12.1-14.3h0M-12.8-3.9h0M-5.8 22.2h0M-5.9 18.4h0M-18.8 15.8h0M16.6 13.1h0M5.3 5.1h0M-8.8-3.3h0M-19.0 6.0h0M-0.2-2.2h0M7.4 21.1h0M4.2-9.2h0M-12.6-5.4h0M10.1 18.5h0M-4.0 3.0h0M-21.2-10.5h0M13.1-5.9h0M-0.8-9.0h0M-0.1-8.3h0M-0.1 19.6h0M9.5-5.9h0M-12.9-8.6h0M-5.4-4.1h0M-10.3-4.7h0M12.2-7.1h0M11.2-5.7h0M-10.7-2.3h0M-21.9 1.1h0M-8.8-8.0h0M7.7 5.7h0M-21.1 1.5h0M-7.8-16.5h0M2.7-3.1h0M-6.2-13.6h0M15.4 6.0h0M0.8 20.7h0M-8.9-15.8h0M-3.6-10.3h0M-13.1-7.5h0M-18.9 17.8h0M-2.3 17.6h0M-17.7-6.7h0M4.3-10.3h0M-18.6 1.3h0M8.6 8.8h0M10.1 13.7h0M1.0-9.2h0M-4.9 18.0h0M-6.3 1.8h0M-0.5 2.5h0M-12.6-4.9h0M-11.6-1.8h0M-21.6-11.7h0M11.0-5.4h0M-15.9 12.6h0M-14.3 1.7h0M-23.6 6.6h0M-12.5 19.5h0M-4.0 18.1h0M19.6 11.3h0M18.2 3.1h0M12.3 8.2h0M19.0 9.8h0M-7.1 18.7h0M-23.4 9.8h0M-19.4 6.3h0M-2.5 11.9h0M2.3-11.4h0M-13.0 3.1h0M-11.8 20.5h0M-3.8 7.2h0M16.1 9.1h0M15.6 5.1h0M-0.1-8.0h0M4.3-9.3h0M9.8 14.6h0M-2.3-0.8h0M-0.4-14.9h0M19.5 14.3h0M-9.1-14.6h0M8.1 19.7h0M-15.4 18.7h0M-20.7-0.8h0M-8.9-2.9h0M-20.8 7.4h0M11.8 6.5h0M-0.7-7.6h0M-5.1 17.9h0M2.8-3.4h0M-19.5 3.7h0M23.7 20.0h0M2.2-12.9h0M10.3 1.3h0M-2.1 5.1h0M8.9 0.3h0M-0.8-3.4h0M-15.9 6.5h0M10.6 3.3h0M10.0 6.0h0M16.9 10.0h0M9.9 17.9h0M-16.8 12.0h0M-5.0-9.5h0M1.7 16.7h0M-3.4 17.4h0M-9.8-12.1h0M14.7 11.4h0M1.0 15.4h0M3.1 20.8h0M10.0 12.3h0M10.3 10.3h0M-10.9 0.1h0M23.8 14.0h0M12.9 9.6h0M-20.6 0.2h0M-20.9-7.7h0M-4.7 18.6h0M-5.4-7.8h0M10.9 0.2h0M18.2 1.8h0M-4.9-14.7h0M-11.2-12.2h0M-0.8-14.4h0M-4.2 10.6h0M21.4 16.1h0M-0.2 22.6h0M-20.4-11.8h0M-23.0 5.4h0M11.0 0.2h0M-14.1 19.8h0M13.6 3.8h0M6.9 19.7h0M14.3 4.3h0M-21.6 6.0h0M-18.9 1.5h0M-4.4 16.3h0M3.8-1.2h0M8.8 8.6h0M-15.3 0.4h0M2.6 21.6h0M-12.1 3.2h0M-10.2 19.4h0M-12.1-12.9h0M6.8 20.8h0M-1.9-2.7h0M15.1 3.9h0M-21.6 6.7h0M-4.3-6.2h0M-9.6 8.3h0M1.7-15.0h0M-14.0-10.9h0M3.1 19.6h0M12.5 11.9h0M-2.8 17.5h0M-7.5-14.3h0M-12.3-15.7h0M-12.4 13.7h0M0.6-8.4h0M-9.4-8.8h0M6.3-4.5h0M-3.3 5.8h0M-11.3-3.3h0M-22.4 13.2h0M-9.1 17.1h0M-0.7-16.0h0M12.5 7.6h0M-12.9-3.9h0M20.6 12.4h0M-18.8-9.7h0M-3.4-10.4h0M-16.6-8.1h0M9.2-1.8h0M16.4 10.4h0M-17.1 5.9h0M-17.7 3.8h0M6.1-1.6h0M-12.6 16.9h0M-3.2 12.3h0M3.1 14.3h0M0.7-8.4h0M-13.0 16.1h0M16.2 15.0h0M-9.2 16.3h0M-9.0-5.8h0M-11.4-2.0h0M-6.5 4.9h0M11.9-8.3h0M-20.6-1.7h0M8.0 15.7h0M1.3-1.7h0M21.9 14.3h0M18.3 3.4h0M-2.6 9.2h0M-1.1-3.6h0M-14.3 0.6h0M-11.5-1.6h0M-7.0-5.3h0M-14.5-13.9h0M-4.8 5.6h0M-3.4 14.7h0M-10.4-7.7h0M-7.3 19.4h0M10.2 10.6h0M-13.3 2.8h0M-13.0 1.6h0M-7.4 3.8h0M-21.8 9.6h0M14.3 14.6h0M3.2-3.7h0M-1.4 3.1h0M22.5 13.2h0M-21.6 8.8h0M9.1 9.8h0M-1.1-9.1h0M-0.1 17.7h0M-8.6 7.7h0M-18.9-0.6h0M-4.7-5.5h0M-15.2-2.8h0M7.9-5.1h0M-24.0 6.0h0M13.3-4.3h0M-0.2 16.7h0M2.1 2.8h0M-18.9 15.3h0M-14.3-5.7h0M-3.1 3.0h0M-8.4-10.5h0M6.5 17.9h0M-9.6-17.5h0M-15.8-6.3h0M-6.9 15.1h0M-14.3-14.5h0M-20.5-3.2h0M-6.7 4.8h0M11.2 15.1h0M19.0 12.0h0M-16.0-8.8h0M-19.1-2.1h0M-1.6 2.0h0M21.1 13.0h0M2.9-12.6h0M2.4 21.9h0M-15.4 7.3h0M-5.4 12.5h0M2.3 20.3h0M-13.0 1.7h0M-2.3-11.1h0M-20.8-6.8h0M-26.1 7.7h0M-13.2 6.8h0M-5.3 12.8h0M17.5 3.6h0M-9.2-12.8h0M-20.6 5.6h0M6.2 8.9h0M4.1-12.4h0M-13.3-12.5h0M-2.4 1.6h0M-5.1 21.8h0M-5.3-1.7h0M-4.7-17.1h0M-22.2 8.3h0M-14.9-0.6h0M-0.4-14.8h0M2.3-11.2h0M-19.6 15.4h0M-10.6 3.8h0M15.4 10.9h0M-24.5 6.0h0M-5.0 14.7h0M-22.7 4.9h0M10.6 17.3h0M-0.4 15.3h0M-3.2 3.8h0M3.6-14.1h0M0.8 23.1h0M14.8 11.1h0M12.6-7.8h0M3.8 21.7h0M-20.5-2.4h0M3.5 12.2h0M-0.8-5.1h0M-16.4-5.3h0M-5.4 3.7h0M-24.8 5.8h0M-8.7 13.2h0M-4.6-9.0h0M4.0 14.3h0M4.8-2.9h0M-15.7 8.2h0M2.1-10.4h0M-23.9 13.2h0M14.6 6.5h0M16.5 4.0h0M-14.9-4.2h0M4.7 9.7h0M4.9 9.5h0M-7.9-15.4h0M6.9 14.8h0M16.0 4.6h0M0.8-11.7h0M-7.8 3.7h0M15.0 11.8h0M25.8 19.0h0M16.4 11.6h0M1.2-2.7h0M1.4-12.6h0M7.7-3.2h0M-1.0 23.2h0M-12.4 14.7h0M-10.0 17.1h0M9.5 18.7h0M-4.4 11.2h0M3.7 14.9h0M-4.1 9.1h0M12.3-0.8h0M-13.0-9.9h0M14.4 13.6h0M-22.6 3.4h0M13.5-0.1h0M13.4 1.9h0M-12.5-0.9h0M4.2 6.8h0M-3.3 20.6h0M-2.5-3.8h0M9.5 13.2h0M-6.5 3.3h0M11.5-9.0h0M10.1 14.1h0M-6.4 3.9h0M1.6 17.4h0M0.1 17.8h0M13.7 2.0h0M10.9-8.1h0M-10.2-13.8h0M-8.3 19.2h0M-14.3 15.0h0M-17.9 12.8h0M-14.7 8.3h0M-19.2-13.2h0M2.3 5.5h0M-3.7-6.0h0M-10.6 10.5h0M-17.9 8.4h0M14.7 13.1h0M6.5 1.6h0M-14.3-13.9h0M-7.7 9.4h0M-4.7 15.9h0M-25.7 9.2h0M-19.1-6.4h0M6.9 10.1h0M-14.9-5.8h0M-20.0-2.4h0M-12.5-1.4h0M-6.2 10.5h0M17.2 15.1h0M-14.6-10.8h0M3.8 3.4h0M12.0-6.8h0M-19.5-0.1h0M-11.1-0.9h0M23.3 14.1h0M14.7 7.6h0M-20.9-5.5h0M14.7-5.3h0M-7.7 14.8h0M16.8-1.7h0M4.3 21.0h0M-0.8 9.8h0M-3.4 18.9h0M7.7 0.5h0M-8.9 11.0h0M1.6-3.2h0M-10.5 14.2h0M-7.1 3.4h0M-14.4-0.6h0M3.9 10.1h0M-10.3-1.6h0M9.5-2.3h0M11.1 1.8h0M-3.4 7.1h0M2.6 20.4h0M-9.7-0.2h0M8.5-0.4h0M-10.9-17.4h0M12.3 5.3h0M-9.3-5.0h0M9.7-2.6h0M-15.4-1.4h0M-14.3-5.1h0M-1.4 10.3h0M-4.1-2.7h0M-4.5 17.1h0M-15.6-12.4h0M-8.0-2.6h0M-19.0-2.9h0M-7.0 19.5h0M2.4-4.4h0M13.1-3.0h0M10.4 14.1h0M-8.0 5.1h0M-7.2 2.1h0M-2.2 4.8h0M9.6-5.4h0M-9.1-3.6h0M1.7 20.8h0M-11.1-2.5h0M-6.4 20.4h0M-3.9 2.7h0M-11.9-11.4h0M-5.0 11.5h0M-2.6 6.8h0M-4.1-1.8h0M0.5 20.7h0M-17.5 12.5h0M-9.3 21.2h0M-24.6 11.1h0M-11.1 12.6h0M4.4 14.0h0M-0.5-10.1h0M12.1-7.7h0M-0.8-7.2h0M-22.6-0.8h0M-1.9 21.3h0M-5.5-9.8h0M2.2 7.8h0M7.4-1.4h0M-13.4-8.4h0M7.3-4.2h0M-20.6 2.1h0M-11.2-8.5h0M-7.7-7.5h0M0.3-12.5h0M-8.0-7.6h0M6.9 18.1h0M-16.5 15.7h0M-20.0 6.9h0M-15.2 11.6h0M4.7-6.5h0M-12.1-12.9h0M-5.2 19.2h0M-15.3 12.6h0M-6.0 1.0h0M1.0 23.0h0M-20.0 9.6h0M-6.0 20.5h0M-8.9 17.3h0M-0.4-12.4h0M4.4 20.2h0M-12.9 20.1h0M4.2 6.1h0M0.5-8.0h0M4.8-7.5h0M-7.1 13.9h0M-9.4-6.2h0M-2.6 19.6h0M-5.2-0.1h0M-23.0 4.6h0M-0.1 14.8h0M-0.3-5.0h0M12.0 6.8h0M-15.5 7.4h0M7.8-5.2h0M-16.9 3.6h0M-6.6 11.5h0M6.2 4.4h0M2.6 17.7h0M-13.8 5.4h0M-11.8-15.7h0M20.2 13.7h0M7.1 15.6h0M-12.3-7.8h0M14.0 9.5h0M16.0 11.5h0M4.3-3.0h0M-0.1-3.1h0M-19.2-6.1h0M1.8 0.9h0M1.7-9.8h0M-14.2 6.5h0M-1.1 16.6h0M0.5-11.3h0M-20.8 0.0h0M3.2-3.3h0M-21.2-8.4h0M-0.9 20.4h0M-0.5 1.5h0M13.2 5.0h0M-4.2 3.6h0M0.8-15.4h0M-4.2-3.9h0M-7.9 17.2h0M11.9 8.5h0M-3.1 3.6h0M-0.5 11.3h0M-18.8-8.6h0M14.3 3.1h0M-16.1 2.1h0M15.6 15.0h0M14.7 12.3h0M-4.5 12.4h0M-4.0 17.5h0M12.2 5.3h0M-8.6 13.7h0M-12.6 8.2h0M8.8 15.4h0M-0.7 18.9h0M3.7-9.6h0M-0.5-2.3h0M-10.7-9.6h0M5.4-13.4h0M9.5 7.6h0M-16.0-0.2h0M-14.7-11.4h0M4.2-0.7h0M-5.0-0.7h0M4.2 3.2h0M0.5 13.9h0M-16.8-11.2h0M-20.3 11.2h0M-12.4-8.2h0M-21.3 9.3h0M-11.9 21.2h0M-24.4 6.1h0M9.4 12.1h0M-1.1 15.5h0M-2.9-6.7h0M-10.6 2.6h0M-0.2 10.1h0M-8.7 15.6h0M-7.1-6.8h0M-5.8 18.6h0M16.8 9.0h0M-10.4 21.5h0M9.2 7.9h0M-11.6-2.8h0M-8.7 17.4h0M-8.6 16.3h0M-15.4-8.8h0M13.8 12.3h0M-0.5-3.0h0M1.8-3.6h0M-4.9 4.2h0M-0.7 5.3h0M-2.7-3.9h0M-23.8 5.1h0M-24.9 5.7h0M-5.4-12.3h0M8.0 8.8h0M-3.3-8.2h0M-9.1 12.5h0M2.4 11.4h0M0.1-2.3h0M14.4-0.8h0M6.0-3.3h0M-6.0 20.5h0M18.2 1.5h0M17.3 10.3h0M-5.5 18.8h0M-5.6 6.0h0M-13.9-0.1h0M11.5 3.1h0M9.7-0.5h0M-15.9-7.0h0M1.3-14.3h0M8.6 0.5h0M-7.7-5.8h0M-10.6 21.6h0M3.8 15.5h0M-10.3-1.2h0M-8.8 22.2h0M6.7 20.6h0M-1.4 3.4h0M-20.9 15.9h0M12.8 10.3h0M-20.0 6.5h0M-3.0-9.6h0M-8.0 16.1h0M-20.1 8.1h0M-12.3-0.2h0M-6.0 20.8h0M0.1-10.2h0M-10.0-6.8h0M-8.2 22.0h0M4.3 7.9h0M-0.2 2.3h0M-15.9-3.8h0M12.8-8.2h0M-5.1-7.6h0M3.7-1.8h0M-3.0 12.6h0M-4.1 4.7h0M-5.1-15.1h0M13.7-4.8h0M2.3 19.0h0M-13.2-3.2h0M6.6 20.2h0M15.9 12.9h0M17.8 1.2h0M-1.8-14.6h0M16.4 8.6h0M-9.2-17.2h0M-9.3-9.6h0M3.1 5.5h0M3.0-9.7h0M-7.4-6.0h0M-11.2-16.8h0M9.9-1.3h0M-13.5-0.9h0M-17.9 8.6h0M3.7 20.4h0M-10.5-7.2h0M3.3-16.2h0M-10.2 5.0h0M-9.6 3.8h0M-10.9 12.0h0M-2.7-4.4h0M23.3 14.5h0M0.3 2.0h0M-15.4 17.7h0M20.8 15.2h0M-1.5-3.9h0M-13.6 2.3h0M-13.9 12.3h0M6.2-1.0h0M10.5 8.9h0M-21.2-4.5h0M-0.7 10.7h0M-4.6 18.2h0M-11.7 9.1h0M-14.5-1.4h0M-18.8 11.8h0M6.0-0.7h0M-0.1 12.7h0M5.4-4.6h0M15.2 10.6h0M-17.9 13.5h0M-17.1 16.5h0M-13.5 16.9h0M-10.7 11.1h0M13.8-1.3h0M-17.6 8.4h0M-11.8-15.3h0M-1.1 11.4h0M-3.8 13.8h0M7.3-10.7h0M-8.5 9.8h0M-8.3-11.6h0M-5.7 17.6h0M-19.1-7.9h0M-1.8 19.1h0M5.6 9.2h0M10.1 18.1h0M4.5 7.0h0M-12.6-5.3h0M-1.1 20.2h0M12.2 14.0h0M15.3 5.0h0M8.1-1.4h0M7.9 16.1h0M8.5-5.1h0M10.3 17.3h0M8.5 16.4h0M-5.4-1.5h0M12.6 8.7h0M16.5 12.2h0M-11.6-16.1h0M-1.5 14.5h0M-15.8-12.4h0M-8.2 20.6h0M8.7-4.2h0M24.6 19.3h0M-5.6 13.9h0M9.6-9.1h0M5.2-6.4h0M9.9 10.7h0M-5.0-4.6h0M-12.2 21.2h0M13.9-5.6h0M-14.0 19.7h0M4.0-4.9h0M8.2-1.5h0M-14.7-3.1h0M-7.9-9.3h0M-18.2 3.8h0M-7.0-13.4h0M19.5 10.9h0M1.1-14.9h0M-9.0-6.4h0M1.9 14.0h0M-19.0-6.2h0M-5.9-8.2h0M-16.7-9.1h0M-11.4-16.1h0M-3.5 5.8h0M11.5 8.0h0M10.2-8.2h0M22.2 13.5h0M-13.2 20.5h0M-4.6-0.0h0M-13.4-3.4h0M10.3-0.2h0M6.6 19.0h0M-12.3 18.8h0M24.1 16.9h0M18.9 9.9h0M-10.4 7.6h0M4.9-3.7h0M-5.3 14.7h0M-0.9-2.9h0M-8.2-16.5h0M15.4 14.0h0M2.3 20.0h0M-4.3-0.3h0M-8.0 15.3h0M-7.9-4.1h0M-8.8 13.0h0M-18.8-8.3h0M10.7 9.3h0M0.5-15.3h0M11.3 13.9h0M-23.0 12.8h0M21.1 11.2h0M-11.3-1.6h0M10.4-0.1h0M-16.8-8.6h0M-5.0 19.4h0M-10.3-6.0h0M11.1 7.6h0M-18.1-4.1h0M-1.9 16.9h0M7.1-8.2h0M11.2 3.3h0M-20.5 1.1h0M-11.8 13.6h0M10.9 0.9h0M2.7 3.8h0M6.8 3.8h0M17.4 10.2h0M6.2 9.8h0M-8.2-3.1h0M14.6-5.1h0M-15.8-8.9h0M-0.5 16.5h0M8.8 14.9h0M-20.2-8.5h0M-18.9-1.1h0M-2.7 20.4h0M15.7 12.5h0M10.3 8.5h0M-8.6 14.7h0M10.7 13.7h0M-12.0 15.5h0M8.6 11.4h0M-5.9-7.1h0M17.1-1.0h0M-24.1 4.9h0M-18.1-11.5h0M15.5 10.0h0M-0.9-4.4h0M-11.7-16.0h0M-3.6-7.2h0M-17.2 7.6h0M-16.3 7.6h0M-15.3 3.3h0M0.1-16.1h0M1.9-1.1h0M6.8 10.4h0M-15.3-9.2h0M-0.8 11.5h0M0.8 16.4h0M16.0 11.6h0M-14.6-11.5h0M4.1 1.5h0M2.9 2.9h0M-22.0 7.5h0M6.3 0.6h0M-2.3-5.9h0M-3.6-8.7h0M-18.7 14.9h0M-1.4-5.7h0M-14.6-7.5h0M3.3 1.7h0M-4.6 16.5h0M-13.6 14.7h0M-16.7 3.5h0M2.2 7.9h0M-9.5-2.3h0M-8.4 17.8h0M-6.4 9.7h0M-15.3 12.8h0M-0.0 22.9h0M-1.7-4.9h0M-10.4-6.6h0M16.0 10.4h0M9.9-10.2h0M17.9 8.6h0M-6.4 10.9h0M15.3 9.3h0M-3.1-4.4h0M-4.2 21.7h0M-16.2-8.3h0M-1.2 11.0h0M-17.1 5.5h0M-22.4 10.3h0M-4.8-8.2h0M-15.2 7.5h0M23.3 14.2h0M5.1 4.1h0M-11.3 6.0h0M14.0 8.5h0M-3.9 19.1h0M-18.5 6.7h0M3.4 13.4h0M-2.0-5.6h0M-6.2 19.1h0M3.4 19.8h0M11.9 2.6h0M-6.2 3.6h0M-0.2 9.7h0M10.2 15.8h0M-20.3-8.7h0M-18.1 2.4h0M-7.2-12.2h0M-6.2 12.8h0M-9.8-3.4h0M-14.9 6.7h0M-16.3-10.7h0M10.5 1.3h0M22.4 17.6h0M-18.5 4.4h0M-3.7 7.7h0M5.6 3.9h0M-13.7-4.0h0M12.2 13.7h0M-5.5 0.2h0M-11.9 13.9h0M21.3 16.7h0M-21.3 6.3h0M12.9 6.9h0M13.9-0.6h0M-21.7 2.4h0M-21.4 3.6h0M18.5 15.0h0M-7.6 12.1h0M14.1 9.3h0M-12.0-0.2h0M17.6 9.7h0M0.2-13.4h0M0.5-14.4h0M4.2-2.2h0M1.8-10.5h0M9.6 15.3h0M14.7 14.4h0M-16.7 14.5h0M20.0 13.6h0M-2.5 19.8h0M-7.7 14.0h0M4.9 13.0h0M14.1 3.1h0M-0.2 14.7h0M-17.5 9.2h0M-0.1-6.5h0M8.5 0.4h0M-9.9 21.1h0M1.5 16.9h0M-11.6-6.6h0M7.9 0.4h0M-4.4-12.1h0M2.3-15.4h0M-5.3 19.0h0M1.2-11.6h0M-15.6 9.1h0M3.1 13.8h0M-1.9 3.5h0M4.3 22.1h0M18.8 9.2h0M-19.0-1.8h0M0.3 8.3h0M11.5 8.3h0M-13.8 16.8h0M-9.9-2.2h0M1.2 20.1h0M-21.3-1.3h0M-15.0-3.5h0M-22.8 8.9h0M-13.8-15.8h0M13.5-6.8h0M-16.7 4.0h0M-0.1-2.9h0M-3.7-6.7h0M11.4-6.0h0M-9.1-1.9h0M-8.9-3.9h0M-18.1-4.4h0M-13.2 6.5h0M-13.5-0.6h0M4.6-12.1h0M-5.0 16.9h0M-3.1 18.8h0M-18.8 3.5h0M-9.2 4.9h0M-4.0 11.9h0M21.7 12.5h0M12.1 12.9h0M-11.0-13.3h0M-20.6-8.1h0M-16.9-4.4h0M6.4 6.1h0M-12.3-3.6h0M3.1-0.2h0M-9.7-9.3h0M-13.7-4.7h0M-15.5-0.9h0M-17.4 10.7h0M-21.4-0.3h0M-5.6-10.4h0M21.3 13.2h0M-18.6-13.1h0M-3.7 14.4h0M-23.6 4.7h0M-23.2 9.0h0M1.0-7.2h0M-5.9 4.0h0M1.9 12.8h0M4.6 10.5h0M-17.2-7.8h0M18.0-0.2h0M-8.4-16.2h0M16.9 8.1h0M-3.4 8.4h0M-1.0-5.2h0M14.8-3.5h0M8.6 11.7h0M-1.5-10.5h0M-18.7 16.0h0M-5.2 11.0h0M-19.7 14.3h0M6.6-1.1h0M-16.9-2.9h0M-17.5 1.4h0M4.0 11.6h0M-19.6 3.4h0M-2.7-2.7h0M-20.1 12.1h0M12.8-5.3h0M-8.6 0.4h0M-20.9-11.4h0M2.0-2.1h0M-5.4 8.7h0M-14.6 12.6h0M-17.5 8.1h0M12.6 5.9h0M12.1-5.4h0M0.0 22.2h0M-13.3-7.3h0M0.6 20.9h0M-8.3 3.1h0M-0.8 19.4h0M-15.8 12.8h0M1.5-0.7h0M-19.6 13.4h0M-13.9 0.5h0M-12.1-15.0h0M-9.1 16.3h0M14.4 6.1h0M-8.4-13.5h0M10.7-6.0h0M-14.5 18.0h0M-17.7 12.7h0M-16.5 3.6h0M-17.3 11.3h0M-9.8-4.3h0M8.9-8.0h0M-4.2-10.9h0M-1.4 10.1h0M-11.7-8.1h0M8.8-6.0h0M1.4-0.8h0M-0.8 13.1h0M-1.9-11.4h0M-24.4 10.7h0M-11.0-14.4h0M17.3 3.8h0M-9.7-6.1h0M-13.5 18.7h0M22.8 14.2h0M-9.7-4.3h0M-10.1 19.9h0M13.8 7.2h0M10.9 3.9h0M0.6 19.9h0M-21.5-8.8h0M-4.3-9.3h0M11.4 16.0h0M-13.8 20.5h0M16.5 11.4h0M-20.8-12.0h0M-19.4 0.9h0M-5.0-14.8h0M-12.4-14.5h0M24.3 16.0h0M-11.6 9.8h0M1.5-1.5h0M-16.5-1.9h0M-21.9 2.4h0M-19.0-6.3h0M5.7-4.5h0M17.0 2.7h0M-10.6 13.5h0M4.0-0.4h0M-16.2 4.3h0M-14.1 0.6h0M-5.5-8.1h0M-4.9 14.0h0M-20.4-3.8h0M1.9 16.7h0M-21.3 7.2h0M14.4-3.9h0M-7.8 1.3h0M-2.9 16.5h0M13.1 11.5h0M-2.0 11.8h0M-16.1 17.0h0M-1.0 4.9h0M18.0 14.8h0M-21.7 2.1h0M-5.3 20.8h0M-5.1 15.4h0M-0.9-5.2h0M5.2 3.6h0M8.0 5.9h0M-10.0-13.7h0M-18.7 4.7h0M-7.7 10.8h0M19.3 14.9h0M-9.5 1.8h0M19.4 15.6h0M-5.9 12.5h0M13.2 11.3h0M-2.3-6.2h0M17.2 3.8h0M7.2 15.1h0M-21.1-3.1h0M0.2 1.7h0M-21.1 6.8h0M0.1 8.4h0M-13.5 18.9h0M-6.7 12.2h0M6.0 13.6h0M2.5 15.0h0M18.7 11.4h0M-10.5-7.2h0M5.0 11.3h0M-2.5-11.4h0M8.2-1.9h0M-3.8 21.1h0M9.4 2.2h0M4.4-2.9h0M-19.4-6.5h0M-6.0-4.2h0M2.7 18.6h0M-7.4-16.9h0M-23.8 12.6h0M1.7 13.5h0M-14.8-14.2h0M-19.9-2.9h0M25.6 19.8h0M-11.4 1.1h0M24.7 17.7h0M-0.5 21.0h0M15.9 6.4h0M-2.1 17.3h0M20.7 10.7h0M-12.5-11.4h0M8.9-3.4h0M3.5 19.8h0M7.0 11.0h0M5.6 18.3h0M13.0 0.2h0M-15.9-6.2h0M-3.2-11.2h0M6.4 15.0h0M-7.4-13.2h0M8.5 13.0h0M-17.5-6.0h0M-18.9-8.8h0M3.6-0.4h0M11.0 13.2h0M6.3 14.3h0M-20.9 5.1h0M-19.5 5.0h0M-10.9 6.8h0M-5.5 5.3h0M-6.8 17.3h0"/>
<path id="PC" d="M12.4-25.4h0M14.1-28.5h0M14.1-28.1h0M13.3-23.2h0M6.9-32.8h0M11.6-27.5h0M9.0-32.1h0M12.2-20.9h0M11.8-24.6h0M12.2-28.6h0M13.1-29.2h0M14.9-26.4h0M12.3-27.8h0M10.2-30.7h0M12.3-28.7h0M18.2-28.4h0M15.4-22.4h0M10.8-30.9h0M15.7-29.2h0M17.6-26.8h0M7.9-27.3h0M18.3-24.8h0M8.2-32.0h0M14.3-26.1h0M15.8-24.0h0M15.9-29.4h0M11.6-31.2h0M16.1-24.1h0M13.1-30.1h0M14.0-30.6h0M15.3-31.0h0M3.8-33.0h0M11.4-27.0h0M12.5-32.1h0M11.5-27.3h0M7.3-30.8h0M15.9-28.2h0M9.7-29.2h0M15.5-29.5h0M8.0-28.3h0M14.4-24.1h0M14.8-30.5h0M9.9-29.0h0M14.8-22.5h0M14.4-23.3h0M6.7-33.5h0M8.1-32.1h0M4.4-31.8h0M13.2-29.0h0M11.2-24.3h0M13.7-23.0h0M10.4-30.4h0M7.3-32.7h0M6.1-30.2h0M7.5-29.5h0M13.3-30.4h0M12.8-28.0h0M7.2-31.4h0M11.7-24.2h0M6.7-30.5h0M10.2-31.0h0M11.5-27.5h0M15.6-28.7h0M12.1-29.8h0M7.4-31.5h0M10.7-28.6h0M16.2-22.0h0M10.2-32.1h0M9.7-31.9h0M17.8-26.7h0M9.5-31.4h0M13.6-21.5h0M10.5-25.8h0M15.6-31.5h0M8.8-29.2h0M10.1-32.5h0M18.1-25.7h0M10.3-27.2h0M16.0-28.5h0M12.4-23.0h0M14.9-27.1h0M17.3-23.7h0M9.7-31.5h0M9.2-29.4h0M7.3-31.4h0M4.2-33.3h0M8.7-29.1h0M15.2-25.9h0M6.5-31.1h0M10.3-26.6h0M9.6-26.8h0M12.7-22.4h0M5.9-31.8h0M16.2-28.0h0M6.0-31.7h0M8.0-27.9h0M15.6-29.0h0M9.8-30.9h0M6.6-29.4h0M14.8-28.1h0M6.8-30.0h0M8.3-27.1h0M6.6-31.6h0M4.9-30.8h0M13.7-22.1h0M13.6-20.2h0M15.6-28.2h0M11.5-26.7h0M12.6-29.0h0M14.6-25.8h0M7.9-32.2h0M11.9-28.2h0M8.6-28.4h0M13.5-28.5h0M10.5-28.0h0M9.3-32.4h0M6.3-29.3h0M7.4-31.1h0M7.8-28.8h0M15.9-24.2h0M17.2-23.0h0M11.2-26.4h0M13.5-21.5h0M14.0-25.7h0M13.4-27.8h0M15.9-22.4h0M9.2-30.4h0M14.7-23.1h0M13.6-32.0h0M15.5-29.1h0M5.6-31.5h0M12.7-32.1h0M12.5-28.8h0M11.3-29.0h0M4.6-32.1h0M13.7-23.3h0M11.0-26.7h0M15.4-23.7h0M10.1-31.7h0M13.1-29.4h0M15.3-23.8h0M17.1-26.3h0M15.4-22.5h0M17.6-27.6h0M11.6-23.1h0M8.0-29.4h0M16.6-28.8h0M11.0-26.9h0M6.4-33.6h0M17.4-26.1h0M12.4-29.0h0M13.3-19.0h0M11.5-23.9h0M15.4-29.2h0M14.5-27.7h0M7.2-30.7h0M15.9-26.4h0M10.5-32.8h0M10.0-32.6h0M11.5-32.2h0M11.8-22.5h0M16.8-26.2h0M5.8-30.7h0M9.3-31.6h0M11.8-22.8h0M8.6-26.8h0M6.4-29.5h0M12.0-32.1h0M7.6-29.6h0M12.9-31.4h0M14.8-24.5h0M11.0-24.4h0M12.2-32.6h0M13.3-28.8h0M14.2-26.6h0M12.6-29.2h0M14.0-22.8h0M7.5-31.2h0M11.0-27.2h0M7.1-30.4h0M13.1-31.3h0M16.0-28.6h0M16.9-26.7h0M16.0-29.2h0M16.3-23.4h0M14.3-28.4h0M16.1-26.7h0M6.1-30.0h0M14.3-21.4h0M13.7-29.5h0M6.6-29.8h0M13.3-31.6h0M12.2-26.7h0M13.7-24.3h0M14.6-21.4h0M11.0-31.8h0M11.7-29.1h0M11.0-32.8h0M9.9-31.2h0M17.9-28.6h0M12.0-28.1h0M6.7-31.2h0M7.5-32.6h0M7.5-29.5h0M13.5-31.1h0M13.0-28.0h0M7.4-31.3h0M16.3-29.6h0M13.0-28.0h0M13.9-23.2h0M14.5-27.4h0M15.4-27.8h0M15.6-23.9h0M9.5-29.2h0M12.7-30.7h0M14.0-28.4h0M11.0-27.6h0M13.1-32.1h0M9.3-32.8h0M10.5-32.1h0M15.3-31.3h0M13.4-24.9h0M15.4-25.8h0M6.4-29.9h0M12.1-20.6h0M15.5-30.3h0M15.7-29.1h0M17.4-29.8h0M14.5-29.3h0M10.6-31.7h0M14.3-19.9h0M11.5-25.6h0M3.8-32.6h0M4.6-31.9h0M9.8-32.7h0M11.9-27.7h0M7.2-28.2h0M3.6-31.7h0M11.3-31.4h0M11.2-29.1h0M10.1-30.6h0M6.3-30.1h0M11.5-26.9h0M6.8-32.6h0M15.8-28.5h0M15.9-23.3h0M16.3-27.2h0M6.5-31.4h0M12.7-20.3h0M11.2-26.8h0M4.1-33.3h0M6.5-29.1h0M8.2-33.3h0M7.6-29.0h0M12.1-32.3h0M18.2-27.1h0M14.6-28.3h0M15.4-28.0h0M11.3-28.1h0M12.2-23.6h0M18.0-27.3h0M7.6-32.8h0M8.2-29.3h0M12.9-31.2h0M18.0-27.1h0M12.7-26.2h0M15.8-29.8h0M7.4-29.1h0M15.9-25.9h0M10.0-30.9h0M8.4-30.8h0M9.7-30.0h0M14.7-24.7h0M15.0-20.2h0M17.8-26.2h0M11.7-30.4h0M6.5-30.6h0M11.9-31.1h0M9.5-27.7h0M14.4-31.9h0M12.8-31.5h0M13.7-20.7h0M13.0-29.1h0M11.8-24.5h0M9.0-26.6h0M9.1-30.8h0M14.8-31.5h0M5.2-30.7h0M14.6-28.8h0M12.6-32.4h0M9.6-30.6h0M10.6-28.3h0M12.9-21.6h0M11.3-30.2h0M16.1-25.9h0M8.3-31.7h0M8.3-30.5h0M13.6-31.2h0M13.1-19.1h0M14.4-20.8h0M4.5-33.3h0M11.8-26.6h0M17.3-28.9h0M16.0-29.2h0M17.7-23.7h0M17.8-26.6h0M8.2-32.2h0M16.1-26.3h0M5.4-31.1h0M14.5-23.2h0M14.2-21.4h0M15.0-27.3h0M16.8-29.7h0M11.7-25.8h0M14.2-24.4h0M13.8-24.0h0M7.0-29.6h0M6.7-29.8h0M16.1-22.9h0M13.8-28.2h0M10.8-32.2h0M14.6-20.3h0M9.7-30.9h0M16.1-28.8h0M12.3-30.6h0M8.8-26.2h0M10.9-31.3h0M18.2-24.9h0M8.7-29.7h0M8.5-28.7h0M7.7-29.6h0M8.2-32.8h0M13.0-28.3h0M17.1-27.5h0M6.6-32.5h0M14.6-29.6h0M13.5-25.7h0M9.7-30.8h0M6.9-30.9h0M12.4-22.0h0M13.6-30.9h0M12.0-22.5h0M15.9-29.7h0M11.6-23.6h0M14.4-27.7h0M8.1-30.0h0M13.1-19.3h0M12.0-24.9h0M10.2-29.6h0M13.3-21.6h0M7.8-30.5h0M7.5-31.7h0M12.1-24.7h0M12.7-22.2h0M12.9-23.0h0M8.7-26.4h0M9.0-29.4h0M18.0-26.8h0M10.3-31.9h0M12.4-21.9h0M7.7-30.8h0M10.5-29.6h0M9.8-31.8h0M15.5-30.0h0M10.1-30.8h0M15.1-24.4h0M17.5-26.3h0M16.0-26.7h0M16.6-23.9h0M8.0-30.1h0M17.1-26.0h0M14.8-30.4h0M18.5-27.8h0M9.5-27.7h0M14.4-24.9h0M9.0-31.5h0M12.4-23.4h0M16.5-29.5h0M12.8-22.8h0M18.5-26.3h0M8.4-31.7h0M9.6-31.5h0M9.3-31.1h0M10.2-30.3h0M12.1-22.0h0M11.3-28.6h0M12.0-22.1h0M15.7-25.9h0M11.8-27.7h0M16.2-24.6h0M14.3-28.5h0M6.5-29.8h0M6.5-32.2h0M3.6-32.5h0M13.7-25.3h0M7.7-27.5h0M15.8-29.3h0M9.3-30.0h0M13.2-28.6h0M15.7-21.7h0M12.6-29.3h0M14.4-26.2h0M13.1-22.3h0M14.6-22.2h0M13.1-26.0h0M7.3-29.7h0M11.5-25.3h0M5.4-30.0h0M7.6-29.2h0M9.5-31.6h0M13.4-23.8h0M15.8-24.5h0M7.5-30.3h0M12.1-29.6h0M14.5-20.8h0M13.2-22.3h0M11.3-29.8h0M11.6-30.3h0M12.3-31.8h0M7.6-32.4h0M11.4-28.2h0M9.4-31.8h0M10.7-29.3h0M12.4-23.2h0M15.5-24.3h0M14.3-24.3h0M4.3-32.3h0M16.9-24.2h0M12.6-29.8h0M13.8-31.9h0M13.9-24.2h0M14.0-25.6h0M12.6-22.1h0M12.3-20.1h0M10.3-30.2h0M6.7-30.8h0M14.6-21.9h0M8.2-30.7h0M14.3-29.8h0M8.7-29.5h0M13.0-22.4h0M11.1-28.0h0M12.7-20.6h0M13.0-21.4h0M12.1-31.3h0M11.9-32.6h0M10.6-27.7h0M15.6-28.6h0M11.5-28.4h0M9.3-28.2h0M11.6-26.8h0M7.0-29.3h0M7.9-31.1h0M10.0-30.6h0M11.3-28.5h0M13.0-30.0h0M11.7-26.5h0M16.3-30.3h0M16.7-23.7h0M13.3-18.9h0M13.9-32.1h0M11.1-31.4h0M9.7-26.8h0M13.9-24.3h0M14.3-27.9h0M16.5-25.1h0M16.7-24.3h0M10.0-26.4h0M11.9-24.3h0M15.1-20.8h0M11.6-24.3h0M18.2-27.2h0M13.1-25.5h0M9.3-26.7h0M6.2-33.5h0M7.8-33.5h0M11.6-27.0h0M5.6-30.8h0M12.7-31.6h0M13.4-31.9h0M12.5-22.9h0M11.9-27.6h0M12.0-22.2h0M6.3-30.8h0M6.4-31.4h0M15.3-23.2h0M16.7-24.3h0M8.5-26.8h0M13.0-25.2h0M14.0-27.0h0M12.5-30.5h0M5.2-30.3h0M8.7-32.7h0M8.8-30.6h0M11.4-23.8h0M9.8-32.6h0M9.4-25.9h0M13.3-22.8h0M9.0-30.1h0M5.7-32.1h0M8.4-26.7h0M9.6-29.9h0M15.1-28.6h0M15.3-20.5h0M6.4-31.6h0M11.7-26.0h0M15.0-30.0h0M7.3-30.6h0M9.5-31.5h0M15.4-23.5h0M14.4-32.0h0M9.7-31.8h0M8.7-30.4h0M11.9-26.6h0M9.7-26.1h0M15.9-30.1h0M16.1-29.2h0M12.6-28.0h0M15.2-30.4h0M9.6-30.8h0"/>
<path id="PE" d="M40.1 2.2h0M39.6 1.6h0M39.9 2.4h0M39.8 1.3h0M39.7 1.7h0M39.6 1.4h0M38.3 1.8h0M40.4 1.5h0M41.4 2.6h0M39.4 2.6h0M38.2 0.3h0M41.5 3.6h0M41.2 2.6h0M38.5 1.2h0M40.1 2.8h0M39.7 0.9h0M39.8 2.0h0M38.7 1.8h0M38.5 2.1h0M36.9 1.0h0M37.7 1.4h0M40.5 1.9h0M40.4 3.7h0M41.3 2.9h0M36.4 0.1h0M40.4 3.4h0M39.8 2.1h0M37.8 0.1h0M39.6 1.2h0M40.4 3.8h0M39.1 1.6h0M39.7 1.2h0M39.4 1.2h0M38.9 0.4h0M41.3 3.2h0M40.0 3.0h0M37.4 0.6h0M38.6 1.1h0M38.4 0.6h0M38.7 1.7h0M41.7 3.5h0M36.7 0.9h0M41.4 2.9h0M38.2 1.2h0M40.9 2.1h0M37.8 1.4h0M40.2 3.1h0M40.4 2.2h0M40.5 2.3h0M38.1 0.6h0M37.8 0.4h0M39.7 3.0h0M37.0 0.5h0M41.1 3.8h0M40.0 1.1h0M39.6 0.8h0M38.1 1.1h0M37.4 1.4h0M37.3 1.3h0M37.0 0.8h0"/>
<path id="PA" d="M-6.5 20.9h0M-12.7-7.2h0M-13.5-5.4h0M-4.4-7.5h0M-17.2 15.4h0M21.4 14.2h0M-22.1 4.2h0M16.4-0.8h0M14.9 2.2h0M21.9 14.7h0M14.3 0.7h0M10.5 12.0h0M-10.7-10.1h0M-20.3-0.6h0M16.1 12.6h0M-17.3 14.0h0M5.5 12.4h0M-9.4 10.8h0M5.2 18.2h0M-2.1-5.5h0M-15.2 5.7h0M-6.1 18.4h0M-9.6-17.5h0M-1.6-16.6h0M0.9-3.1h0M-0.1-4.1h0M-10.1 8.4h0M-15.7 8.8h0M-15.9-9.1h0M-19.4 3.0h0M-3.4 6.4h0M-23.3 4.4h0M-16.4 18.6h0M1.1-15.8h0M7.4 7.9h0M9.0 17.9h0M17.5 14.5h0M11.7 7.9h0M-7.0 9.7h0M-19.5 0.1h0M-3.8-8.2h0M-7.4-6.4h0M-9.8-17.7h0M-12.7 3.3h0M-20.1 1.6h0M3.9 0.7h0M-2.2 10.6h0M-8.9 14.7h0M-24.5 6.5h0M-23.4 10.9h0M8.3 15.8h0M-10.0 12.2h0M-6.9 5.8h0M4.8-3.3h0M1.4-12.0h0M6.7 9.0h0M-0.9 22.6h0M16.1-0.4h0M11.7 5.8h0M-12.0-13.2h0M-12.5-0.4h0M7.9-0.7h0M-5.4 22.9h0M-12.2 7.5h0M-6.4 18.0h0M5.9 10.1h0M-4.2 1.7h0M-6.0 4.4h0M-6.5 20.9h0M12.1 7.6h0M-19.6 0.5h0M6.3 20.4h0M-21.0 8.2h0M-7.9 5.0h0M5.9-13.9h0M3.0 1.9h0M-5.1 2.3h0M0.3-8.6h0M-1.8 4.3h0M-21.5-0.3h0M11.2 8.1h0M-11.9-10.6h0M-21.5 5.4h0M-21.3-13.5h0M-7.8 19.3h0M-17.4 14.0h0M-14.3 18.9h0M-18.9 13.2h0M10.7 15.7h0M8.6 0.9h0M-20.0 2.0h0M-13.9-11.9h0M2.4-1.1h0M2.2 20.3h0M-20.8 15.2h0M-6.3-13.2h0M-14.1-13.1h0M-8.8 12.5h0M-2.4 18.8h0M-19.9-10.7h0M-12.1 16.7h0M-17.7 2.4h0M-24.6 12.6h0M-5.7 17.1h0M-15.8-2.8h0M-9.5-5.5h0M1.2 17.5h0M-1.4 16.3h0M18.0 3.8h0M-3.3 19.7h0M4.0-12.1h0M14.7 11.5h0M6.7 9.4h0M9.3 8.0h0M-10.1-17.4h0M7.1-8.7h0M-5.2-9.2h0M12.0 9.0h0M-16.7 16.4h0M-24.8 4.7h0M-16.2-7.3h0M-18.4 13.3h0M-2.7-0.1h0M1.1-8.9h0M-3.5 16.4h0M6.6-10.9h0M3.2 21.5h0M18.3 8.4h0M-10.0-5.7h0M7.7 16.8h0M-2.8-10.4h0M-4.9-12.2h0M-14.4 14.0h0M-4.3 2.0h0M13.2-2.0h0M10.8-4.7h0M2.5 8.3h0M6.9 1.5h0M-18.8 10.2h0M-20.8-10.1h0M-15.9 9.7h0M-4.1-1.5h0M16.4-1.2h0M-17.2 2.6h0M9.8-6.6h0M12.0-6.4h0M16.2 12.8h0M-8.0-10.9h0M24.8 20.1h0M-22.2 8.5h0M-20.0-12.4h0M-4.8-6.0h0M-21.9 4.7h0M-17.8 13.9h0M2.8-2.7h0M6.2 9.5h0M-13.7-8.7h0M-7.4-14.2h0M-13.3 5.8h0M11.2 2.4h0M1.2-5.4h0M-5.8 0.3h0M17.0 10.5h0M-9.0 5.4h0M-15.8 7.3h0M-13.4 1.1h0M-19.2-8.7h0M-13.4-2.1h0M-10.0 0.3h0M12.1 14.7h0M-14.5 10.3h0M2.2 15.2h0M-0.3-9.0h0M2.3 1.1h0M-9.2 22.2h0M7.7 21.3h0M-0.6-9.5h0M13.3-0.8h0M-6.2 15.5h0M-2.5 2.7h0M-3.8 6.6h0M-3.0-6.8h0M-10.0-10.6h0M-0.2 15.0h0M-11.2 0.3h0M-18.6-0.1h0M7.2 7.0h0M-4.6 14.6h0M18.6 6.3h0M-0.3 22.3h0M-8.4 7.6h0M-3.4 10.4h0M1.2 3.1h0M-15.3 0.7h0M11.8-3.3h0M-12.3-13.7h0M14.9 14.5h0M9.4-1.9h0M13.2 6.2h0M-16.9-7.3h0M-7.6-10.0h0M-11.7 0.2h0M-4.8 20.1h0M2.9-15.9h0M-7.4-10.1h0M11.6 9.2h0M-9.3-15.7h0M4.2 19.4h0M-24.8 9.5h0M-18.3 11.2h0M-12.2 16.5h0M-2.9 16.6h0M-3.8 18.5h0M1.5 18.9h0M17.3 10.8h0M11.7 8.2h0M-11.6 12.4h0M-12.4 10.3h0M-1.0-12.3h0M-3.0-6.5h0M-5.7-14.3h0M21.5 11.6h0M-14.2 1.5h0M-14.5-12.6h0M-11.4-6.9h0M7.7-1.2h0M-11.8-16.6h0M-0.1 6.8h0M11.1 1.2h0M-7.6 15.0h0M-8.3 0.2h0M-9.8 3.2h0M8.3-8.5h0M-10.9 20.5h0M-13.4 19.6h0M-0.3-7.0h0M-4.0 12.7h0M11.6 14.1h0M-22.8 14.2h0M-10.4 20.3h0M5.8 10.7h0M-10.2-17.7h0M-4.9-8.8h0M-21.5 2.4h0M-5.4 12.5h0M-21.7 8.4h0M10.2 2.2h0M10.6 9.3h0M-14.0-11.1h0M13.1 1.5h0M17.7 14.9h0M9.1 6.8h0M-18.8 17.2h0M3.9-1.0h0M-11.6-9.7h0M9.5-2.4h0M5.2 5.2h0M-5.6-2.2h0M-12.1-10.4h0M6.4 2.2h0M1.8-9.5h0M-20.7 6.5h0M17.2 3.0h0M-14.3-12.2h0M-17.7 13.8h0M3.8 8.0h0M10.3 8.4h0M-3.9 12.2h0M-0.0 19.8h0M-12.9 7.3h0M-17.9 1.5h0M-6.7-16.5h0M-0.1 21.3h0M8.9 3.3h0M-14.1 19.2h0M12.7 4.8h0M-2.9 5.4h0M-16.2-14.3h0M-1.9 22.1h0M-19.2 14.9h0M20.4 14.7h0M9.2 18.0h0M-12.0 12.7h0M-8.2 18.6h0M-16.5 10.1h0M-20.4 9.2h0M7.1 11.4h0M-4.5-3.1h0M-6.7 2.3h0M-25.1 9.3h0M-0.4 5.0h0M4.1-13.2h0M-21.4-0.8h0M8.9 3.4h0M-19.8-11.2h0M-19.2 1.7h0M-20.7-10.6h0M5.3-9.0h0M11.3-0.3h0M-2.3-10.6h0M12.4-3.2h0M18.5 15.3h0M7.2 20.8h0M14.7 5.0h0M-9.1 7.0h0M-10.7 21.5h0M13.2 7.7h0M-19.0-0.9h0M4.0 14.0h0M-13.5 5.6h0M17.3 10.1h0M-1.1-11.3h0M0.7 10.3h0M12.4 1.3h0M-20.2-0.5h0M-4.4 14.2h0M-19.0 4.4h0M-18.4 0.7h0M19.8 15.1h0M-2.1 12.2h0M-7.4 9.4h0M-2.1 2.6h0M-7.6 8.0h0M18.6 15.8h0M-9.4 11.6h0M22.0 15.4h0M16.7 0.5h0M4.2 19.1h0M-0.2 15.4h0M-0.0-16.5h0M-1.5-9.4h0M22.2 15.3h0M-11.3-1.4h0M-10.0-16.3h0M-5.2-9.6h0M-6.0-9.1h0M7.6-5.6h0M-0.7-5.6h0M-9.4 17.9h0M-0.5 7.3h0M-16.5 2.0h0M7.0-4.1h0M-1.3-1.0h0M-8.8 5.7h0M-18.9-12.3h0M2.1 20.9h0M-14.8-6.5h0M-19.5 15.2h0M13.1-7.2h0M15.1 9.0h0M-17.9-6.3h0M1.4 20.9h0M-19.4 1.1h0M-24.9 11.0h0M-15.9-13.3h0M-7.7 16.8h0M11.2 17.1h0M-1.5-9.9h0M-15.3 14.7h0M-25.3 10.6h0M-6.5 19.5h0M8.6 17.6h0M-7.6-4.4h0M-16.7 5.7h0M3.9-11.4h0M-1.2 3.1h0M-10.5-14.2h0M6.1 21.5h0M-17.8 3.7h0M-21.4 5.4h0M-12.0 8.7h0M-19.5-8.1h0M1.2-9.7h0M-3.3-1.2h0M-14.1 14.8h0M-3.4 14.2h0M-3.0 12.1h0M13.7-5.1h0M8.3 15.1h0M2.4 8.2h0M-19.4 13.6h0M-7.2 6.0h0M3.9 10.3h0M-12.5-15.0h0M0.7-1.0h0M13.7 9.5h0M-2.3-6.2h0M-4.6 23.0h0M-12.2-7.4h0M21.3 15.9h0M-16.1 13.9h0M0.2 22.8h0M-8.5 11.6h0M-20.4 16.9h0M20.2 16.0h0M8.0 4.8h0M-8.4-15.3h0M-2.4-10.8h0M-0.2-8.5h0M19.1 8.9h0M7.1 4.5h0M6.2-6.9h0M17.0 11.9h0M7.1-4.7h0M-5.8 5.3h0M-7.0 9.9h0M8.9-10.5h0M-2.7 9.8h0M-6.2 16.4h0M-15.7 4.2h0M-7.1 9.5h0M3.0 8.1h0M5.9-4.9h0M-4.2 15.4h0M-21.6-11.9h0M0.5 16.6h0M-24.1 13.4h0M1.1 2.0h0M-11.1-10.8h0M-3.9 14.8h0M4.5-2.3h0M-9.5-1.8h0M-6.0 6.0h0M2.6 10.4h0M-22.7-0.0h0M13.9-2.2h0M5.0-3.0h0M18.9 10.3h0M-23.9 7.0h0M-15.9 4.5h0M-1.0 16.0h0M20.6 16.3h0M-18.6-12.7h0M-0.5-1.6h0M-8.6 17.7h0M-8.7 8.4h0M2.3 3.6h0M-6.1 9.5h0M-5.5 18.6h0M12.3-5.7h0M-4.8 10.7h0M-15.5 9.0h0M-16.8-13.9h0M12.3-4.4h0M11.5 15.2h0M16.3 0.8h0M-15.8-10.4h0M-5.9-16.1h0M5.4-10.4h0M-15.0-1.9h0M12.0 13.0h0M-9.9 21.0h0M-6.3 2.1h0M18.1 11.2h0M-10.0-16.7h0M-24.0 10.5h0M16.6 15.4h0M-19.1 16.8h0M4.0 1.6h0M-3.6 3.6h0M-11.0 9.1h0M2.0 21.3h0M11.4-6.7h0M8.6-9.2h0M-10.6-9.6h0M13.6 2.6h0M6.5-11.0h0M4.7 13.3h0M-1.4 13.8h0M6.7 14.8h0M-21.2-13.8h0M-24.5 4.6h0M-0.8-4.3h0M-20.8 16.4h0M-9.9-0.5h0M-20.7-1.2h0M-24.5 6.0h0M-6.5 9.5h0M-19.9-11.2h0M-18.4-6.7h0M-2.1-12.8h0M-1.3 18.1h0M3.2 22.8h0M-2.5 13.2h0M-18.7-12.8h0M-16.5 7.2h0M-19.6 3.5h0M-20.9-5.7h0M-22.4 5.0h0M-8.6-13.8h0M-22.2 13.4h0M-18.8 5.4h0M9.7 14.0h0M0.8-10.9h0M-17.2 0.7h0M-8.9 22.3h0M-15.9 8.3h0M-1.3-7.6h0M3.6 20.8h0M-4.6 9.0h0M-21.5 8.4h0M8.2 9.3h0M7.1 0.7h0M7.7 20.7h0M-21.2 14.3h0M-7.5-8.0h0M7.4-3.7h0M-2.1-8.1h0M-12.2 8.4h0M-11.7-8.9h0M-5.5 2.4h0M9.4 14.7h0M-18.7 14.7h0M5.8 21.3h0M16.5 14.6h0M17.0 3.0h0M-1.6-16.5h0M7.2 12.3h0M-13.9-5.9h0M-17.7-3.4h0M0.1 8.8h0M13.3 0.0h0M-13.8 6.4h0M2.6-12.1h0M17.2-1.4h0M-16.1 1.7h0M23.2 18.9h0M4.2-7.1h0M-10.8-5.3h0M-13.5-7.3h0M-14.2 19.4h0M-22.2 12.4h0M21.7 13.9h0M-9.2-12.2h0M-10.2 2.0h0M11.2 6.6h0M-12.0 7.5h0M-3.7 12.3h0M-24.4 8.0h0M18.1 2.6h0M1.9 18.9h0M-1.5-12.6h0M-1.2 17.4h0M1.9 19.6h0M3.0 1.0h0M6.0-7.8h0M-11.7 4.2h0M-16.1 9.0h0M-7.2 19.9h0M-5.5-4.8h0M6.0-1.1h0M-7.3 21.0h0M-7.1 18.3h0M-18.2 10.0h0M-10.2 8.7h0M-21.0-3.6h0M3.8 11.1h0M-5.6 15.3h0M-16.7 18.0h0M6.6-8.4h0M-15.2 10.2h0M-13.5-0.8h0M-3.2 0.5h0M-8.2-11.3h0M22.2 17.1h0M-20.0-6.2h0M25.4 20.4h0M-11.2 8.8h0M-8.8-14.5h0M5.7 16.1h0M-15.2-8.6h0M13.7 0.9h0M-7.5-3.8h0M-2.7 5.0h0M-19.5 2.1h0M-0.1 15.9h0M3.9-8.9h0M-18.5 2.3h0M-19.4-9.1h0M0.4-0.4h0M7.2 12.0h0M22.8 18.5h0M17.4 9.4h0M-5.9-3.8h0M-1.0-12.3h0M16.6 2.9h0M6.4-13.2h0M-10.7 16.0h0M-0.9 20.3h0M-19.8 5.6h0M-12.9 19.6h0M7.1 1.1h0M17.3 13.9h0M-9.2 0.2h0M-9.2-5.4h0M-8.5-4.7h0M-14.2-9.4h0M-5.8-3.3h0M0.3 8.6h0M0.7-10.8h0M-20.7 12.1h0M-0.6-5.4h0M-12.5 11.1h0M-16.7-8.9h0M-9.7-6.5h0M-13.6 19.4h0M-21.1 6.5h0M-15.4 4.4h0M5.5 4.5h0M23.5 15.6h0M6.6 15.0h0M14.4 2.6h0M10.9 15.1h0M-21.0-4.4h0M-1.6-1.3h0M-12.1-12.8h0M-2.1-0.1h0M-0.6 22.3h0M-21.8 3.1h0M-23.8 4.6h0M10.3 0.8h0M-17.1 0.8h0M-3.6-13.3h0M-23.2 7.6h0M-13.8 18.4h0M-8.9-15.1h0M-6.3 21.2h0M-16.4-14.6h0M10.0 13.7h0M-6.0 22.6h0M-5.0 7.7h0M-5.6-16.3h0M12.5 9.7h0M22.3 15.1h0M6.6-5.7h0M-19.5 14.6h0M-2.5-5.1h0M7.4-0.4h0M-3.6-1.6h0M-13.3-0.9h0M-14.3 18.6h0M-1.0-6.7h0M-8.3-14.6h0M20.2 11.9h0M-13.1-5.5h0M-13.6 18.3h0M-12.7 11.6h0M11.3 4.3h0M-8.3 21.7h0M-14.1 18.4h0M1.2-1.9h0M12.5 4.2h0M-22.7 5.1h0M-3.7-7.2h0M-10.4-1.0h0M-12.8-0.8h0M-5.5 17.0h0M-19.5 7.7h0M18.6 5.5h0M8.7 6.3h0M4.2 14.7h0M4.7 11.3h0M2.5-10.6h0M12.9-2.6h0M9.0 18.1h0M-12.9 0.3h0M2.9 9.5h0M-8.4-14.5h0M-1.1 5.3h0M-11.7-13.7h0M5.5-11.1h0M2.8 20.4h0M-12.4 0.4h0M-8.5-15.5h0M-8.0-6.7h0M-17.6-12.4h0M-15.3-4.1h0M-4.5 15.1h0M-19.8-7.9h0M13.9 1.3h0M-8.2 16.5h0M-13.9-3.4h0M-14.2 5.7h0M-14.9-6.3h0M19.4 9.2h0M4.1-4.0h0M18.6 15.5h0M25.7 16.7h0M-9.8-9.6h0M-0.7-15.1h0M19.2 12.7h0M-16.6-5.1h0M-23.3 11.2h0M5.2 5.2h0M-8.3-10.3h0M16.2 13.4h0M-13.8-12.9h0M-17.1-13.3h0M-9.4 13.2h0M-4.0-14.5h0M11.1 1.1h0M-13.7 13.9h0M-7.4 16.0h0M3.6-12.2h0M9.0 11.2h0M-18.8-0.3h0M6.6 2.0h0M2.2-8.5h0M4.6 12.7h0M-14.2 1.8h0M-16.9-6.1h0M-1.1 10.1h0M-4.3-7.6h0M11.9 1.4h0M-17.2 14.0h0M-11.1 0.3h0M-19.8 3.3h0M-0.2-7.9h0M10.4 16.5h0M-13.4-11.0h0M9.4 14.1h0M-12.9 16.0h0M-6.4 12.2h0M-15.0-1.0h0M-17.4 10.8h0M-14.3-6.9h0M-20.3-11.1h0M3.9 21.6h0M9.0 12.1h0M-18.7 3.9h0M-21.8 7.9h0M-21.6 14.0h0M0.3-12.0h0M-4.4 15.6h0M-15.1-6.7h0M16.1 15.2h0M4.8-9.9h0M-20.7 7.3h0M-4.5-0.1h0M-16.3 6.1h0M7.4-7.9h0M-3.9 4.1h0M16.0 11.1h0M-17.0-5.8h0M-13.1-5.7h0M-4.7-3.3h0M-13.6 17.8h0M-20.6-10.2h0M17.3 13.4h0M-24.0 3.3h0M23.4 18.3h0M2.7 22.4h0M-2.4 6.4h0M-15.2-4.8h0M-0.2-9.3h0M-5.7 20.2h0M-5.7-9.5h0M-10.3 11.1h0M-2.2 8.4h0M-14.8-8.9h0M8.7 17.2h0M-0.9-16.6h0M-11.2 13.8h0M1.9 16.4h0M-17.3 13.6h0M1.8 20.7h0M8.1-6.6h0M-14.9-8.4h0M-15.8 14.6h0M12.7 1.6h0M-13.4-7.3h0M-17.4 12.8h0M-14.8 16.0h0M-7.1 1.8h0M26.0 21.5h0M-1.7-2.5h0M-11.4 21.0h0M9.6 13.3h0M-24.4 4.6h0M-17.3 7.6h0M-18.6-5.2h0M-2.9-11.8h0M2.3-4.0h0M-9.2 16.4h0M16.7 14.6h0M-15.2 19.3h0M-17.8 15.1h0M-21.3-4.4h0M-23.0 12.7h0M-1.8-1.3h0M-0.4-7.6h0M-11.8 20.2h0M4.9 16.3h0M-13.5-15.1h0M7.6 16.0h0M10.5-9.6h0M-15.0-6.7h0M22.1 16.5h0M10.7-8.6h0M-4.3-4.4h0M-15.0-3.2h0M6.2-4.3h0M1.2-8.8h0M-19.7 5.4h0M-17.1 13.3h0M-19.9-0.1h0M-19.1-10.7h0M-8.3 4.6h0M-18.6 7.1h0M-15.6-6.1h0M-12.6 2.2h0M8.2 17.5h0M2.5 20.2h0M-7.3 9.6h0M9.6 14.8h0M-20.6 2.4h0M13.4 2.3h0M2.5-1.0h0M3.6 22.8h0M-3.2-5.1h0M-18.3-1.3h0M0.4-10.3h0M-10.7 20.1h0M-1.8 3.0h0M-9.5 15.1h0M-6.1-15.0h0M12.8-4.0h0M2.0 12.0h0M-4.4 6.1h0M5.2-3.3h0M-23.7 11.0h0M8.4 12.9h0M10.2 8.0h0M24.9 15.9h0M3.7-3.0h0M11.8 2.6h0M-11.7 21.4h0M-14.8-7.4h0M6.1 5.4h0M-10.7 16.4h0M-8.8 16.0h0M-14.4-15.4h0M12.7 11.8h0M-19.0 14.0h0M1.3-15.0h0M1.8 22.9h0M-5.3 4.3h0M11.3-0.3h0M-17.0-11.6h0M4.4-0.8h0M-2.8 9.4h0M7.4 9.3h0M-3.8 19.6h0M12.3 1.9h0M8.0 2.8h0M-15.4 7.8h0M-20.0-8.0h0M8.9-4.1h0M-24.3 7.1h0M-16.8 7.4h0M4.5-4.4h0M-5.0 18.2h0M-5.4 18.8h0M-4.4-5.7h0M-7.8-12.1h0M-9.6-5.6h0M14.8 13.1h0M12.6 8.9h0M-0.1 11.9h0M8.5-6.4h0M0.3 8.6h0M-17.6 3.4h0M-3.6 12.1h0M-8.5 14.4h0M7.5-2.3h0M-14.1-10.4h0M5.9 3.5h0M-8.5 12.8h0M7.5 13.9h0M-22.1 5.8h0M17.3 0.3h0M-14.5 0.2h0M13.9 6.2h0M-1.8 16.0h0M12.0 9.5h0M-19.3-12.7h0M3.1 13.5h0M-14.0 6.6h0M-9.5-8.4h0M14.6 6.8h0M4.0 4.2h0M-12.8 7.6h0M1.7 20.5h0M12.9 1.3h0M11.5 11.4h0M-9.3 1.2h0M0.6-13.0h0M13.9 1.8h0M-16.3 6.1h0M15.6 6.7h0M-12.3-7.6h0M1.9-2.7h0M5.7 12.2h0M-12.9-1.5h0M-16.9 8.4h0M-7.1 9.4h0M-4.7 9.6h0M-13.7-5.1h0M-13.5 6.7h0M7.8 1.8h0M-8.0-13.1h0M-19.0-13.6h0M20.8 16.0h0M3.0 19.1h0M14.9 13.2h0M-22.4 13.2h0M15.2 0.6h0M-3.3-9.5h0M8.5 8.1h0M5.0-1.3h0M2.3 19.1h0M10.6 13.5h0M9.3 0.0h0M-21.2-1.9h0M-16.4 7.6h0M-12.4 9.8h0M-5.1 10.5h0M-7.6 4.9h0M-12.5 8.0h0M9.9-7.4h0M-20.8-0.0h0M14.5 2.2h0M9.5-1.3h0M11.1 5.1h0M-12.2-5.9h0M-21.8 12.0h0M6.1-10.1h0M-20.4 15.4h0M-14.8-11.5h0M-19.0 6.1h0M22.2 14.5h0M-21.9 0.7h0M-21.8 5.6h0M-13.4-15.6h0M3.4 22.9h0M-5.9-8.1h0M-10.3-5.6h0M-20.3 8.0h0M-18.4-11.2h0M-13.8 13.9h0M-9.4 10.2h0M-15.4 15.7h0M13.9 12.3h0M-14.1 14.4h0M10.6 17.8h0M2.8-3.8h0M1.5-9.6h0M16.4 12.3h0M-20.8 14.9h0M-12.0-14.0h0M13.9 3.9h0M17.5 8.1h0M-18.4 8.6h0M0.4-8.0h0M-14.8 6.2h0M-3.9-11.5h0M-18.8-8.7h0M-2.5 0.4h0M-5.1 4.3h0M-6.7 13.5h0M9.8 7.9h0M-25.6 9.9h0M1.6 17.3h0M14.3-4.7h0M10.5-5.0h0M-6.4 12.9h0M-15.2-5.0h0M14.4 8.8h0M-5.2 9.1h0M-19.8 3.3h0M16.1 15.5h0M15.0 1.9h0M-6.5 8.8h0M5.1 20.6h0M-14.1 0.2h0M-21.9-1.2h0M-11.4-0.5h0M-3.4 3.1h0M11.0 3.4h0M5.6 20.0h0M-11.1 4.4h0M-5.9 17.1h0M-5.6 16.7h0M8.6 4.1h0M-9.0 16.9h0M-4.2 21.5h0M-5.1-11.2h0M-10.9-5.6h0M-17.4 11.2h0M22.6 15.7h0M-6.4 18.7h0M-5.1-16.1h0M7.5 1.8h0M-0.8 18.2h0M-15.7 7.4h0M14.2 8.6h0M-0.6 14.6h0M9.8 4.6h0M-16.8-12.0h0M11.5 1.7h0M-12.4-15.8h0M6.9 6.5h0M5.3 7.0h0M14.1 3.8h0M6.6-8.4h0M17.7 0.9h0M-16.9-4.9h0M1.1 20.2h0M-22.8 7.9h0M-18.1-5.8h0M-12.7 19.9h0M-23.0 1.7h0M-22.0 2.9h0M2.5-2.3h0M-16.1 11.2h0M10.7-1.5h0M0.7 2.8h0M13.8 12.8h0M20.4 15.9h0M-23.8 3.8h0M-9.3-17.4h0M-7.8-10.5h0M4.0 19.2h0M-7.9-12.8h0M5.2 16.8h0M0.8-2.4h0M-19.4 3.4h0M16.5 11.7h0M0.6-9.0h0M-19.6-10.5h0M15.8 12.9h0M4.4-10.0h0M-3.5 17.1h0M0.4 2.3h0M-5.5 16.6h0M0.8 18.4h0M-5.3-6.6h0M-21.1 9.1h0M17.0 15.1h0M4.1 19.1h0M-15.6-7.3h0M-23.5 12.7h0M-1.9-2.5h0M-10.8 0.4h0M1.7 14.6h0M-17.7-11.3h0M-9.8-1.8h0M-10.8 21.9h0M-0.5-9.9h0M-9.6-2.3h0M8.2 13.9h0M24.5 19.3h0M-20.0-10.3h0M7.0 8.2h0M-5.1-9.2h0M-14.7 5.6h0M-23.5 4.1h0M12.0 3.6h0M13.6-4.8h0M-11.0-0.8h0M-11.0 11.4h0M-20.5-2.9h0M-0.9 11.5h0M-0.3-13.2h0M-22.2 10.5h0M14.4 9.6h0M-17.7 0.1h0M8.6 11.5h0M12.3 1.2h0M-21.0 1.6h0M-1.2 15.7h0M-19.9 1.7h0M-18.6-8.7h0M-21.8-9.8h0M-22.7 11.7h0M-1.2-11.7h0M-2.2 5.2h0M-3.7 5.7h0M12.6 9.5h0M4.8-5.5h0M6.2 10.6h0M-13.4 19.8h0M14.6 13.9h0M-9.7-4.8h0M-17.6 12.5h0M11.1-3.0h0M-2.8 4.4h0M-19.7-3.3h0M-5.2 4.3h0M10.7 12.6h0M-6.1 19.5h0M-5.7-12.0h0M14.0-6.2h0M-2.1-11.9h0M15.6 1.7h0M-6.9 15.0h0M17.3 3.5h0M-5.2-8.8h0M5.6 10.8h0M-6.0-3.7h0M11.5 6.1h0M12.1 5.0h0M-7.8-4.5h0M-3.3-9.1h0M-5.3 19.0h0M-12.4-15.5h0M-3.8 4.9h0M-3.4-9.8h0M-0.5 16.4h0M20.1 15.1h0M-10.8-9.1h0M14.5-6.0h0M-20.6 12.7h0M10.9 8.6h0M17.7 3.9h0M-15.7 11.9h0M-2.4-17.1h0M-14.6 20.0h0M-14.6 20.1h0M8.0 3.0h0M-8.6-17.3h0M-4.1 12.0h0M6.3 1.2h0M2.5-2.4h0M-21.4-12.4h0M16.4 8.8h0M-1.3 3.6h0M5.9-0.5h0M14.8 0.5h0M12.1 5.7h0M7.1 7.0h0M-10.2-8.2h0M25.6 16.5h0M-4.0-4.7h0M0.9-8.4h0M-20.7-3.3h0M-13.8 8.4h0M8.1 15.1h0M-3.9 4.6h0M15.1 1.4h0M11.0 5.5h0M-18.6 15.6h0M-20.1 2.0h0M-7.9-16.3h0M-21.6 14.9h0M0.9-9.4h0M8.1-1.9h0M7.2 2.9h0M12.5 9.2h0M0.0 22.7h0M-0.3 6.5h0M-0.8 1.7h0M6.3-2.5h0M-22.5 8.2h0M-9.3-7.5h0M5.2-10.2h0M-22.7 13.1h0M9.0 18.1h0M-11.0-2.8h0M4.9 0.1h0M-2.3-2.9h0M-2.1-5.2h0M-11.5 17.7h0M-16.5 14.3h0M0.1 10.6h0M0.3 13.8h0M-3.4 22.9h0M7.8 5.1h0M-19.9 7.7h0M1.0-6.0h0M-14.5 3.5h0M-22.1 0.2h0M7.6-6.9h0M2.1 2.6h0M-14.4 18.6h0M8.4-10.4h0M-6.5-0.8h0M-11.5-8.5h0M14.3 12.7h0M-16.5 7.9h0M-0.3 10.7h0M-0.1-8.1h0M-6.1 0.8h0M-10.7-14.6h0M0.1-5.5h0M-2.4 4.8h0M9.2 10.5h0M22.7 15.9h0M-23.1 4.9h0M4.2 11.2h0M2.7-1.4h0M-16.9 15.7h0M20.1 14.7h0M11.7 15.6h0M3.7 20.8h0M-4.5-4.5h0M-8.1-12.3h0M-2.8 17.9h0M6.5-5.2h0M-12.6-11.1h0M14.2 5.8h0M1.6-7.9h0M-4.0-1.4h0M14.7-4.9h0M15.4 4.8h0M-20.5 2.6h0M25.8 20.7h0M9.1 13.6h0M0.4-11.3h0M3.6 3.7h0M4.3 20.9h0M-10.7 19.8h0M-18.8-0.8h0M-6.6 6.4h0M7.0 11.3h0M13.6 10.8h0M-6.9 1.0h0M-4.4 20.4h0M-3.6 19.1h0M-20.4-2.7h0M-17.0-7.5h0M-19.7-1.6h0M15.2 10.7h0M-16.2 9.0h0M18.5 2.6h0M3.3-8.9h0M11.0-8.0h0M-23.6 9.5h0M1.1 1.8h0M-8.2-14.3h0M-0.6 3.3h0M-21.7-10.1h0M15.3 3.5h0M-5.3 21.6h0M25.2 18.8h0M2.6 20.9h0M18.9 14.0h0M-0.2 20.7h0M-16.4 5.2h0M13.4 7.8h0M14.0 7.0h0M-10.1-6.3h0M21.9 15.1h0M5.7 13.1h0M-19.9 3.8h0M12.4 13.6h0M-13.5 19.7h0M1.0-3.7h0M-9.1 12.8h0M0.8-2.2h0M0.5-11.8h0M-6.4 8.8h0M12.2 2.0h0M-0.3-4.4h0M5.8 8.7h0M-1.0 17.9h0M-1.7-7.2h0M11.7 14.4h0M3.2-9.2h0M21.9 12.3h0M18.9 13.9h0M-17.3-11.8h0M-5.3 10.4h0M10.1-8.6h0M-5.9 21.5h0M-0.0-10.6h0M-24.7 5.4h0M-23.9 11.4h0M-14.7-13.2h0M-18.5 13.5h0M17.6 14.8h0M-14.1 15.0h0M-8.3-6.3h0M10.3 7.3h0M-23.4 12.3h0M16.8 9.6h0M-8.3-4.7h0M-11.4 1.7h0M-15.3 3.0h0M18.5 4.9h0M5.9-13.3h0M5.3 10.4h0M9.8-1.4h0M-10.2 7.6h0M-15.2-0.7h0M-18.7-2.1h0M-3.1 19.5h0M-16.3-12.4h0M-8.8-1.6h0M-4.1 18.3h0M-7.1-15.8h0M20.1 16.8h0M16.4 6.1h0M-14.2-9.0h0M-5.8 15.5h0M-11.5-11.1h0M-7.0 18.5h0M-10.7 2.7h0M-18.5 2.3h0M11.1 16.1h0M7.4-0.5h0M3.8 17.8h0M7.1 17.8h0M-0.4 4.6h0M21.1 14.5h0M-21.7 7.7h0M6.1-8.2h0M-21.7 7.7h0M-3.2 20.5h0M-17.8 8.1h0M-13.0 15.3h0M-20.5 3.0h0M19.0 15.6h0M-0.6-8.1h0M-18.0 4.7h0M-1.8 14.4h0M-8.6 4.6h0M-2.5 0.5h0M-10.4-12.2h0M-13.8-2.6h0M-6.4 6.6h0M-13.0-4.6h0M-3.3 5.3h0M22.5 14.8h0M-3.4 16.3h0M-9.9-0.6h0M-18.9 13.5h0M2.5-0.5h0M-8.2 20.4h0M-9.4 3.3h0M-18.5-11.9h0M-15.6 16.0h0M-11.9-1.5h0M15.2 12.0h0M-20.3 2.1h0M-2.2 17.0h0M-19.2 9.8h0M4.2 13.0h0M-14.6 11.9h0M-4.6 9.9h0M5.5 9.6h0M0.3 19.6h0M-10.8-2.5h0M-15.2 6.1h0M-21.2-10.4h0M-20.8-7.4h0M3.1-1.7h0M-7.9-16.5h0M-12.3-11.5h0M22.2 16.7h0M-15.6-1.2h0M-10.2-14.7h0M-4.8 1.3h0M-6.5 16.5h0M-24.4 5.2h0M-8.3-1.3h0M12.8 10.5h0M-5.3 3.0h0M-8.3-12.5h0M9.4 0.1h0M-6.8 7.3h0M-1.7-6.7h0M5.4-13.2h0M14.7 3.9h0M-3.3 0.1h0M16.6 7.3h0M-15.4 6.3h0M-13.4-12.3h0M3.2 11.4h0M4.3 19.6h0M-13.8-14.7h0M-6.9 6.1h0M11.4 9.0h0M-9.5 22.0h0M1.7-12.1h0M-8.2 3.0h0M1.2 22.5h0M13.5 0.6h0M-3.8 5.7h0M8.2-0.7h0M-4.7 17.0h0M-16.3 10.2h0M8.2 20.1h0M-15.5 13.9h0M-13.9-6.7h0M-21.0 0.7h0M6.7 1.3h0M-3.1 22.7h0M-9.7 1.7h0M-5.1 11.0h0M7.0 0.8h0M2.3-11.5h0M-6.7-14.6h0M-2.7 2.4h0M-7.6-5.0h0M-0.3-14.9h0M7.7 0.2h0M-9.4-5.6h0M3.7-3.9h0M-20.3-10.4h0M12.5 1.5h0M8.1-9.4h0M-18.5-7.4h0M-9.2-9.2h0M0.2 10.5h0M-21.5 2.2h0M17.6 3.6h0M6.1 15.4h0M15.2-1.8h0M-10.5 0.3h0M-8.8 15.0h0M13.2 1.6h0M-21.4-9.9h0M-8.4-3.5h0M25.9 19.3h0M-8.9-4.4h0M17.2 13.5h0M-4.1-7.1h0M-18.7-7.9h0M-9.2-3.8h0M-20.5-6.5h0M-5.3 0.9h0M-2.5 20.7h0M-14.3 20.5h0M-21.8-13.5h0M-23.5 5.3h0M4.7 18.5h0M-11.0 1.6h0M-5.2-9.6h0M-4.4 12.0h0M-3.3-0.8h0M1.3 20.3h0M-16.2 8.1h0M-17.0 2.1h0M-6.1-9.4h0M-12.7-7.8h0M-4.4-3.0h0M-14.8-1.8h0M-1.3 9.2h0M-13.0-15.4h0M-14.9-1.4h0M2.4-10.0h0M-4.3-8.2h0M5.3-7.3h0M-8.4-6.9h0M0.4 22.2h0M-4.9-13.0h0M-0.4 16.8h0M-12.4-4.9h0M10.8 16.8h0M4.8 19.9h0M-1.5 10.7h0M-4.9 8.8h0M-17.0 10.6h0M-21.1-7.1h0M-13.6 5.2h0M5.2-9.5h0M-15.7-11.1h0M-17.0 1.5h0M10.4 9.0h0M0.7-10.0h0M6.6 9.7h0M5.4-4.2h0M12.6-6.4h0M4.8-4.3h0M-1.5-2.9h0M13.2 2.5h0M-22.2 4.9h0M9.6 0.2h0M-15.7 12.9h0M5.2 16.6h0M10.4 11.8h0M12.0-6.5h0M-0.5 22.5h0M-15.4 14.9h0M-4.4 14.4h0M-19.5-8.7h0M-0.2-8.6h0M5.0-1.3h0M-24.3 8.9h0M-0.9 1.5h0M-12.5 20.1h0M-19.8-10.6h0M-11.0 17.3h0M7.5 19.7h0M3.3 18.4h0M-5.3-7.5h0M-10.3 18.3h0M13.6-5.3h0M-2.5-7.3h0M2.6 15.0h0M-1.9 5.4h0M-13.4 7.2h0M-12.1-14.3h0M-12.8-3.9h0M-5.8 22.2h0M-5.9 18.4h0M-18.8 15.8h0M16.6 13.1h0M5.3 5.1h0M-8.8-3.3h0M-19.0 6.0h0M-0.2-2.2h0M7.4 21.1h0M4.2-9.2h0M-12.6-5.4h0M10.1 18.5h0M-4.0 3.0h0M-21.2-10.5h0M13.1-5.9h0M-0.8-9.0h0M-0.1-8.3h0M-0.1 19.6h0M9.5-5.9h0M-12.9-8.6h0M-5.4-4.1h0M-10.3-4.7h0M12.2-7.1h0M11.2-5.7h0M-10.7-2.3h0M-21.9 1.1h0M-8.8-8.0h0M7.7 5.7h0M-21.1 1.5h0M-7.8-16.5h0M2.7-3.1h0M-6.2-13.6h0M15.4 6.0h0M0.8 20.7h0M-8.9-15.8h0M-3.6-10.3h0M-13.1-7.5h0M-18.9 17.8h0M-2.3 17.6h0M-17.7-6.7h0M4.3-10.3h0M-18.6 1.3h0M8.6 8.8h0M10.1 13.7h0M1.0-9.2h0M-4.9 18.0h0M-6.3 1.8h0M-0.5 2.5h0M-12.6-4.9h0M-11.6-1.8h0M-21.6-11.7h0M11.0-5.4h0M-15.9 12.6h0M-14.3 1.7h0M-23.6 6.6h0M-12.5 19.5h0M-4.0 18.1h0M19.6 11.3h0M18.2 3.1h0M12.3 8.2h0M19.0 9.8h0M-7.1 18.7h0M-23.4 9.8h0M-19.4 6.3h0M-2.5 11.9h0M2.3-11.4h0M-13.0 3.1h0M-11.8 20.5h0M-3.8 7.2h0M16.1 9.1h0M15.6 5.1h0M-0.1-8.0h0M4.3-9.3h0M9.8 14.6h0M-2.3-0.8h0M-0.4-14.9h0M19.5 14.3h0M-9.1-14.6h0M8.1 19.7h0M-15.4 18.7h0M-20.7-0.8h0M-8.9-2.9h0M-20.8 7.4h0M11.8 6.5h0M-0.7-7.6h0M-5.1 17.9h0M2.8-3.4h0M-19.5 3.7h0M23.7 20.0h0M2.2-12.9h0M10.3 1.3h0M-2.1 5.1h0M8.9 0.3h0M-0.8-3.4h0M-15.9 6.5h0M10.6 3.3h0M10.0 6.0h0M16.9 10.0h0M9.9 17.9h0M-16.8 12.0h0M-5.0-9.5h0M1.7 16.7h0M-3.4 17.4h0M-9.8-12.1h0M14.7 11.4h0M1.0 15.4h0M3.1 20.8h0M10.0 12.3h0M10.3 10.3h0M-10.9 0.1h0M23.8 14.0h0M12.9 9.6h0M-20.6 0.2h0M-20.9-7.7h0M-4.7 18.6h0M-5.4-7.8h0M10.9 0.2h0M18.2 1.8h0M-4.9-14.7h0M-11.2-12.2h0M-0.8-14.4h0M-4.2 10.6h0M21.4 16.1h0M-0.2 22.6h0M-20.4-11.8h0M-23.0 5.4h0M11.0 0.2h0M-14.1 19.8h0M13.6 3.8h0M6.9 19.7h0M14.3 4.3h0M-21.6 6.0h0M-18.9 1.5h0M-4.4 16.3h0M3.8-1.2h0M8.8 8.6h0M-15.3 0.4h0M2.6 21.6h0M-12.1 3.2h0M-10.2 19.4h0M-12.1-12.9h0M6.8 20.8h0M-1.9-2.7h0M15.1 3.9h0M-21.6 6.7h0M-4.3-6.2h0M-9.6 8.3h0M1.7-15.0h0M-14.0-10.9h0M3.1 19.6h0M12.5 11.9h0M-2.8 17.5h0M-7.5-14.3h0M-12.3-15.7h0M-12.4 13.7h0M0.6-8.4h0M-9.4-8.8h0M6.3-4.5h0M-3.3 5.8h0M-11.3-3.3h0M-22.4 13.2h0M-9.1 17.1h0M-0.7-16.0h0M12.5 7.6h0M-12.9-3.9h0M20.6 12.4h0M-18.8-9.7h0M-3.4-10.4h0M-16.6-8.1h0M9.2-1.8h0M16.4 10.4h0M-17.1 5.9h0M-17.7 3.8h0M6.1-1.6h0M-12.6 16.9h0M-3.2 12.3h0M3.1 14.3h0M0.7-8.4h0M-13.0 16.1h0M16.2 15.0h0M-9.2 16.3h0M-9.0-5.8h0M-11.4-2.0h0M-6.5 4.9h0M11.9-8.3h0M-20.6-1.7h0M8.0 15.7h0M1.3-1.7h0M21.9 14.3h0M18.3 3.4h0M-2.6 9.2h0M-1.1-3.6h0M-14.3 0.6h0M-11.5-1.6h0M-7.0-5.3h0M-14.5-13.9h0M-4.8 5.6h0M-3.4 14.7h0M-10.4-7.7h0M-7.3 19.4h0M10.2 10.6h0M-13.3 2.8h0M-13.0 1.6h0M-7.4 3.8h0M-21.8 9.6h0M14.3 14.6h0M3.2-3.7h0M-1.4 3.1h0M22.5 13.2h0M-21.6 8.8h0M9.1 9.8h0M-1.1-9.1h0M-0.1 17.7h0M-8.6 7.7h0M-18.9-0.6h0M-4.7-5.5h0M-15.2-2.8h0M7.9-5.1h0M-24.0 6.0h0M13.3-4.3h0M-0.2 16.7h0M2.1 2.8h0M-18.9 15.3h0M-14.3-5.7h0M-3.1 3.0h0M-8.4-10.5h0M6.5 17.9h0M-9.6-17.5h0M-15.8-6.3h0M-6.9 15.1h0M-14.3-14.5h0M-20.5-3.2h0M-6.7 4.8h0M11.2 15.1h0M19.0 12.0h0M-16.0-8.8h0M-19.1-2.1h0M-1.6 2.0h0M21.1 13.0h0M2.9-12.6h0M2.4 21.9h0M-15.4 7.3h0M-5.4 12.5h0M2.3 20.3h0M-13.0 1.7h0M-2.3-11.1h0M-20.8-6.8h0M-26.1 7.7h0M-13.2 6.8h0M-5.3 12.8h0M17.5 3.6h0M-9.2-12.8h0M-20.6 5.6h0M6.2 8.9h0M4.1-12.4h0M-13.3-12.5h0M-2.4 1.6h0M-5.1 21.8h0M-5.3-1.7h0M-4.7-17.1h0M-22.2 8.3h0M-14.9-0.6h0M-0.4-14.8h0M2.3-11.2h0M-19.6 15.4h0M-10.6 3.8h0M15.4 10.9h0M-24.5 6.0h0M-5.0 14.7h0M-22.7 4.9h0M10.6 17.3h0M-0.4 15.3h0M-3.2 3.8h0M3.6-14.1h0M0.8 23.1h0M14.8 11.1h0M12.6-7.8h0M3.8 21.7h0M-20.5-2.4h0M3.5 12.2h0M-0.8-5.1h0M-16.4-5.3h0M-5.4 3.7h0M-24.8 5.8h0M-8.7 13.2h0M-4.6-9.0h0M4.0 14.3h0M4.8-2.9h0M-15.7 8.2h0M2.1-10.4h0M-23.9 13.2h0M14.6 6.5h0M16.5 4.0h0M-14.9-4.2h0M4.7 9.7h0M4.9 9.5h0M-7.9-15.4h0M6.9 14.8h0M16.0 4.6h0M0.8-11.7h0M-7.8 3.7h0M15.0 11.8h0M25.8 19.0h0M16.4 11.6h0M1.2-2.7h0M1.4-12.6h0M7.7-3.2h0M-1.0 23.2h0M-12.4 14.7h0M-10.0 17.1h0M9.5 18.7h0M-4.4 11.2h0M3.7 14.9h0M-4.1 9.1h0M12.3-0.8h0M-13.0-9.9h0M14.4 13.6h0M-22.6 3.4h0M13.5-0.1h0M13.4 1.9h0M-12.5-0.9h0M4.2 6.8h0M-3.3 20.6h0M-2.5-3.8h0M9.5 13.2h0M-6.5 3.3h0M11.5-9.0h0M10.1 14.1h0M-6.4 3.9h0M1.6 17.4h0M0.1 17.8h0M13.7 2.0h0M10.9-8.1h0M-10.2-13.8h0M-8.3 19.2h0M-14.3 15.0h0M-17.9 12.8h0M-14.7 8.3h0M-19.2-13.2h0M2.3 5.5h0M-3.7-6.0h0M-10.6 10.5h0M-17.9 8.4h0M14.7 13.1h0M6.5 1.6h0M-14.3-13.9h0M-7.7 9.4h0M-4.7 15.9h0M-25.7 9.2h0M-19.1-6.4h0M6.9 10.1h0M-14.9-5.8h0M-20.0-2.4h0M-12.5-1.4h0M-6.2 10.5h0M17.2 15.1h0M-14.6-10.8h0M3.8 3.4h0M12.0-6.8h0M-19.5-0.1h0M-11.1-0.9h0M23.3 14.1h0M14.7 7.6h0M-20.9-5.5h0M14.7-5.3h0M-7.7 14.8h0M16.8-1.7h0M4.3 21.0h0M-0.8 9.8h0M-3.4 18.9h0M7.7 0.5h0M-8.9 11.0h0M1.6-3.2h0M-10.5 14.2h0M-7.1 3.4h0M-14.4-0.6h0M3.9 10.1h0M-10.3-1.6h0M9.5-2.3h0M11.1 1.8h0M-3.4 7.1h0M2.6 20.4h0M-9.7-0.2h0M8.5-0.4h0M-10.9-17.4h0M12.3 5.3h0M-9.3-5.0h0M9.7-2.6h0M-15.4-1.4h0M-14.3-5.1h0M-1.4 10.3h0M-4.1-2.7h0M-4.5 17.1h0M-15.6-12.4h0M-8.0-2.6h0M-19.0-2.9h0M-7.0 19.5h0M2.4-4.4h0M13.1-3.0h0M10.4 14.1h0M-8.0 5.1h0M-7.2 2.1h0M-2.2 4.8h0M9.6-5.4h0M-9.1-3.6h0M1.7 20.8h0M-11.1-2.5h0M-6.4 20.4h0M-3.9 2.7h0M-11.9-11.4h0M-5.0 11.5h0M-2.6 6.8h0M-4.1-1.8h0M0.5 20.7h0M-17.5 12.5h0M-9.3 21.2h0M-24.6 11.1h0M-11.1 12.6h0M4.4 14.0h0M-0.5-10.1h0M12.1-7.7h0M-0.8-7.2h0M-22.6-0.8h0M-1.9 21.3h0M-5.5-9.8h0M2.2 7.8h0M7.4-1.4h0M-13.4-8.4h0M7.3-4.2h0M-20.6 2.1h0M-11.2-8.5h0M-7.7-7.5h0M0.3-12.5h0M-8.0-7.6h0M6.9 18.1h0M-16.5 15.7h0M-20.0 6.9h0M-15.2 11.6h0M4.7-6.5h0M-12.1-12.9h0M-5.2 19.2h0M-15.3 12.6h0M-6.0 1.0h0M1.0 23.0h0M-20.0 9.6h0M-6.0 20.5h0M-8.9 17.3h0M-0.4-12.4h0M4.4 20.2h0M-12.9 20.1h0M4.2 6.1h0M0.5-8.0h0M4.8-7.5h0M-7.1 13.9h0M-9.4-6.2h0M-2.6 19.6h0M-5.2-0.1h0M-23.0 4.6h0M-0.1 14.8h0M-0.3-5.0h0M12.0 6.8h0M-15.5 7.4h0M7.8-5.2h0M-16.9 3.6h0M-6.6 11.5h0M6.2 4.4h0M2.6 17.7h0M-13.8 5.4h0M-11.8-15.7h0M20.2 13.7h0M7.1 15.6h0M-12.3-7.8h0M14.0 9.5h0M16.0 11.5h0M4.3-3.0h0M-0.1-3.1h0M-19.2-6.1h0M1.8 0.9h0M1.7-9.8h0M-14.2 6.5h0M-1.1 16.6h0M0.5-11.3h0M-20.8 0.0h0M3.2-3.3h0M-21.2-8.4h0M-0.9 20.4h0M-0.5 1.5h0M13.2 5.0h0M-4.2 3.6h0M0.8-15.4h0M-4.2-3.9h0M-7.9 17.2h0M11.9 8.5h0M-3.1 3.6h0M-0.5 11.3h0M-18.8-8.6h0M14.3 3.1h0M-16.1 2.1h0M15.6 15.0h0M14.7 12.3h0M-4.5 12.4h0M-4.0 17.5h0M12.2 5.3h0M-8.6 13.7h0M-12.6 8.2h0M8.8 15.4h0M-0.7 18.9h0M3.7-9.6h0M-0.5-2.3h0M-10.7-9.6h0M5.4-13.4h0M9.5 7.6h0M-16.0-0.2h0M-14.7-11.4h0M4.2-0.7h0M-5.0-0.7h0M4.2 3.2h0M0.5 13.9h0M-16.8-11.2h0M-20.3 11.2h0M-12.4-8.2h0M-21.3 9.3h0M-11.9 21.2h0M-24.4 6.1h0M9.4 12.1h0M-1.1 15.5h0M-2.9-6.7h0M-10.6 2.6h0M-0.2 10.1h0M-8.7 15.6h0M-7.1-6.8h0M-5.8 18.6h0M16.8 9.0h0M-10.4 21.5h0M9.2 7.9h0M-11.6-2.8h0M-8.7 17.4h0M-8.6 16.3h0M-15.4-8.8h0M13.8 12.3h0M-0.5-3.0h0M1.8-3.6h0M-4.9 4.2h0M-0.7 5.3h0M-2.7-3.9h0M-23.8 5.1h0M-24.9 5.7h0M-5.4-12.3h0M8.0 8.8h0M-3.3-8.2h0M-9.1 12.5h0M2.4 11.4h0M0.1-2.3h0M14.4-0.8h0M6.0-3.3h0M-6.0 20.5h0M18.2 1.5h0M17.3 10.3h0M-5.5 18.8h0M-5.6 6.0h0M-13.9-0.1h0M11.5 3.1h0M9.7-0.5h0M-15.9-7.0h0M1.3-14.3h0M8.6 0.5h0M-7.7-5.8h0M-10.6 21.6h0M3.8 15.5h0M-10.3-1.2h0M-8.8 22.2h0M6.7 20.6h0M-1.4 3.4h0M-20.9 15.9h0M12.8 10.3h0M-20.0 6.5h0M-3.0-9.6h0M-8.0 16.1h0M-20.1 8.1h0M-12.3-0.2h0M-6.0 20.8h0M0.1-10.2h0M-10.0-6.8h0M-8.2 22.0h0M4.3 7.9h0M-0.2 2.3h0M-15.9-3.8h0M12.8-8.2h0M-5.1-7.6h0M3.7-1.8h0M-3.0 12.6h0M-4.1 4.7h0M-5.1-15.1h0M13.7-4.8h0M2.3 19.0h0M-13.2-3.2h0M6.6 20.2h0M15.9 12.9h0M17.8 1.2h0M-1.8-14.6h0M16.4 8.6h0M-9.2-17.2h0M-9.3-9.6h0M3.1 5.5h0M3.0-9.7h0M-7.4-6.0h0M-11.2-16.8h0M9.9-1.3h0M-13.5-0.9h0M-17.9 8.6h0M3.7 20.4h0M-10.5-7.2h0M3.3-16.2h0M-10.2 5.0h0M-9.6 3.8h0M-10.9 12.0h0M-2.7-4.4h0M23.3 14.5h0M0.3 2.0h0M-15.4 17.7h0M20.8 15.2h0M-1.5-3.9h0M-13.6 2.3h0M-13.9 12.3h0M6.2-1.0h0M10.5 8.9h0M-21.2-4.5h0M-0.7 10.7h0M-4.6 18.2h0M-11.7 9.1h0M-14.5-1.4h0M-18.8 11.8h0M6.0-0.7h0M-0.1 12.7h0M5.4-4.6h0M15.2 10.6h0M-17.9 13.5h0M-17.1 16.5h0M-13.5 16.9h0M-10.7 11.1h0M13.8-1.3h0M-17.6 8.4h0M-11.8-15.3h0M-1.1 11.4h0M-3.8 13.8h0M7.3-10.7h0M-8.5 9.8h0M-8.3-11.6h0M-5.7 17.6h0M-19.1-7.9h0M-1.8 19.1h0M5.6 9.2h0M10.1 18.1h0M4.5 7.0h0M-12.6-5.3h0M-1.1 20.2h0M12.2 14.0h0M15.3 5.0h0M8.1-1.4h0M7.9 16.1h0M8.5-5.1h0M10.3 17.3h0M8.5 16.4h0M-5.4-1.5h0M12.6 8.7h0M16.5 12.2h0M-11.6-16.1h0M-1.5 14.5h0M-15.8-12.4h0M-8.2 20.6h0M8.7-4.2h0M24.6 19.3h0M-5.6 13.9h0M9.6-9.1h0M5.2-6.4h0M9.9 10.7h0M-5.0-4.6h0M-12.2 21.2h0M13.9-5.6h0M-14.0 19.7h0M4.0-4.9h0M8.2-1.5h0M-14.7-3.1h0M-7.9-9.3h0M-18.2 3.8h0M-7.0-13.4h0M19.5 10.9h0M1.1-14.9h0M-9.0-6.4h0M1.9 14.0h0M-19.0-6.2h0M-5.9-8.2h0M-16.7-9.1h0M-11.4-16.1h0M-3.5 5.8h0M11.5 8.0h0M10.2-8.2h0M22.2 13.5h0M-13.2 20.5h0M-4.6-0.0h0M-13.4-3.4h0M10.3-0.2h0M6.6 19.0h0M-12.3 18.8h0M24.1 16.9h0M18.9 9.9h0M-10.4 7.6h0M4.9-3.7h0M-5.3 14.7h0M-0.9-2.9h0M-8.2-16.5h0M15.4 14.0h0M2.3 20.0h0M-4.3-0.3h0M-8.0 15.3h0M-7.9-4.1h0M-8.8 13.0h0M-18.8-8.3h0M10.7 9.3h0M0.5-15.3h0M11.3 13.9h0M-23.0 12.8h0M21.1 11.2h0M-11.3-1.6h0M10.4-0.1h0M-16.8-8.6h0M-5.0 19.4h0M-10.3-6.0h0M11.1 7.6h0M-18.1-4.1h0M-1.9 16.9h0M7.1-8.2h0M11.2 3.3h0M-20.5 1.1h0M-11.8 13.6h0M10.9 0.9h0M2.7 3.8h0M6.8 3.8h0M17.4 10.2h0M6.2 9.8h0M-8.2-3.1h0M14.6-5.1h0M-15.8-8.9h0M-0.5 16.5h0M8.8 14.9h0M-20.2-8.5h0M-18.9-1.1h0M-2.7 20.4h0M15.7 12.5h0M10.3 8.5h0M-8.6 14.7h0M10.7 13.7h0M-12.0 15.5h0M8.6 11.4h0M-5.9-7.1h0M17.1-1.0h0M-24.1 4.9h0M-18.1-11.5h0M15.5 10.0h0M-0.9-4.4h0M-11.7-16.0h0M-3.6-7.2h0M-17.2 7.6h0M-16.3 7.6h0M-15.3 3.3h0M0.1-16.1h0M1.9-1.1h0M6.8 10.4h0M-15.3-9.2h0M-0.8 11.5h0M0.8 16.4h0M16.0 11.6h0M-14.6-11.5h0M4.1 1.5h0M2.9 2.9h0M-22.0 7.5h0M6.3 0.6h0M-2.3-5.9h0M-3.6-8.7h0M-18.7 14.9h0M-1.4-5.7h0M-14.6-7.5h0M3.3 1.7h0M-4.6 16.5h0M-13.6 14.7h0M-16.7 3.5h0M2.2 7.9h0M-9.5-2.3h0M-8.4 17.8h0M-6.4 9.7h0M-15.3 12.8h0M-0.0 22.9h0M-1.7-4.9h0M-10.4-6.6h0M16.0 10.4h0M9.9-10.2h0M17.9 8.6h0M-6.4 10.9h0M15.3 9.3h0M-3.1-4.4h0M-4.2 21.7h0M-16.2-8.3h0M-1.2 11.0h0M-17.1 5.5h0M-22.4 10.3h0M-4.8-8.2h0M-15.2 7.5h0M23.3 14.2h0M5.1 4.1h0M-11.3 6.0h0M14.0 8.5h0M-3.9 19.1h0M-18.5 6.7h0M3.4 13.4h0M-2.0-5.6h0M-6.2 19.1h0M3.4 19.8h0M11.9 2.6h0M-6.2 3.6h0M-0.2 9.7h0M10.2 15.8h0M-20.3-8.7h0M-18.1 2.4h0M-7.2-12.2h0M-6.2 12.8h0M-9.8-3.4h0M-14.9 6.7h0M-16.3-10.7h0M10.5 1.3h0M22.4 17.6h0M-18.5 4.4h0M-3.7 7.7h0M5.6 3.9h0M-13.7-4.0h0M12.2 13.7h0M-5.5 0.2h0M-11.9 13.9h0M21.3 16.7h0M-21.3 6.3h0M12.9 6.9h0M13.9-0.6h0M-21.7 2.4h0M-21.4 3.6h0M18.5 15.0h0M-7.6 12.1h0M14.1 9.3h0M-12.0-0.2h0M17.6 9.7h0M0.2-13.4h0M0.5-14.4h0M4.2-2.2h0M1.8-10.5h0M9.6 15.3h0M14.7 14.4h0M-16.7 14.5h0M20.0 13.6h0M-2.5 19.8h0M-7.7 14.0h0M4.9 13.0h0M14.1 3.1h0M-0.2 14.7h0M-17.5 9.2h0M-0.1-6.5h0M8.5 0.4h0M-9.9 21.1h0M1.5 16.9h0M-11.6-6.6h0M7.9 0.4h0M-4.4-12.1h0M2.3-15.4h0M-5.3 19.0h0M1.2-11.6h0M-15.6 9.1h0M3.1 13.8h0M-1.9 3.5h0M4.3 22.1h0M18.8 9.2h0M-19.0-1.8h0M0.3 8.3h0M11.5 8.3h0M-13.8 16.8h0M-9.9-2.2h0M1.2 20.1h0M-21.3-1.3h0M-15.0-3.5h0M-22.8 8.9h0M-13.8-15.8h0M13.5-6.8h0M-16.7 4.0h0M-0.1-2.9h0M-3.7-6.7h0M11.4-6.0h0M-9.1-1.9h0M-8.9-3.9h0M-18.1-4.4h0M-13.2 6.5h0M-13.5-0.6h0M4.6-12.1h0M-5.0 16.9h0M-3.1 18.8h0M-18.8 3.5h0M-9.2 4.9h0M-4.0 11.9h0M21.7 12.5h0M12.1 12.9h0M-11.0-13.3h0M-20.6-8.1h0M-16.9-4.4h0M6.4 6.1h0M-12.3-3.6h0M3.1-0.2h0M-9.7-9.3h0M-13.7-4.7h0M-15.5-0.9h0M-17.4 10.7h0M-21.4-0.3h0M-5.6-10.4h0M21.3 13.2h0M-18.6-13.1h0M-3.7 14.4h0M-23.6 4.7h0M-23.2 9.0h0M1.0-7.2h0M-5.9 4.0h0M1.9 12.8h0M4.6 10.5h0M-17.2-7.8h0M18.0-0.2h0M-8.4-16.2h0M16.9 8.1h0M-3.4 8.4h0M-1.0-5.2h0M14.8-3.5h0M8.6 11.7h0M-1.5-10.5h0M-18.7 16.0h0M-5.2 11.0h0M-19.7 14.3h0M6.6-1.1h0M-16.9-2.9h0M-17.5 1.4h0M4.0 11.6h0M-19.6 3.4h0M-2.7-2.7h0M-20.1 12.1h0M12.8-5.3h0M-8.6 0.4h0M-20.9-11.4h0M2.0-2.1h0M-5.4 8.7h0M-14.6 12.6h0M-17.5 8.1h0M12.6 5.9h0M12.1-5.4h0M0.0 22.2h0M-13.3-7.3h0M0.6 20.9h0M-8.3 3.1h0M-0.8 19.4h0M-15.8 12.8h0M1.5-0.7h0M-19.6 13.4h0M-13.9 0.5h0M-12.1-15.0h0M-9.1 16.3h0M14.4 6.1h0M-8.4-13.5h0M10.7-6.0h0M-14.5 18.0h0M-17.7 12.7h0M-16.5 3.6h0M-17.3 11.3h0M-9.8-4.3h0M8.9-8.0h0M-4.2-10.9h0M-1.4 10.1h0M-11.7-8.1h0M8.8-6.0h0M1.4-0.8h0M-0.8 13.1h0M-1.9-11.4h0M-24.4 10.7h0M-11.0-14.4h0M17.3 3.8h0M-9.7-6.1h0M-13.5 18.7h0M22.8 14.2h0M-9.7-4.3h0M-10.1 19.9h0M13.8 7.2h0M10.9 3.9h0M0.6 19.9h0M-21.5-8.8h0M-4.3-9.3h0M11.4 16.0h0M-13.8 20.5h0M16.5 11.4h0M-20.8-12.0h0M-19.4 0.9h0M-5.0-14.8h0M-12.4-14.5h0M24.3 16.0h0M-11.6 9.8h0M1.5-1.5h0M-16.5-1.9h0M-21.9 2.4h0M-19.0-6.3h0M5.7-4.5h0M17.0 2.7h0M-10.6 13.5h0M4.0-0.4h0M-16.2 4.3h0M-14.1 0.6h0M-5.5-8.1h0M-4.9 14.0h0M-20.4-3.8h0M1.9 16.7h0M-21.3 7.2h0M14.4-3.9h0M-7.8 1.3h0M-2.9 16.5h0M13.1 11.5h0M-2.0 11.8h0M-16.1 17.0h0M-1.0 4.9h0M18.0 14.8h0M-21.7 2.1h0M-5.3 20.8h0M-5.1 15.4h0M-0.9-5.2h0M5.2 3.6h0M8.0 5.9h0M-10.0-13.7h0M-18.7 4.7h0M-7.7 10.8h0M19.3 14.9h0M-9.5 1.8h0M19.4 15.6h0M-5.9 12.5h0M13.2 11.3h0M-2.3-6.2h0M17.2 3.8h0M7.2 15.1h0M-21.1-3.1h0M0.2 1.7h0M-21.1 6.8h0M0.1 8.4h0M-13.5 18.9h0M-6.7 12.2h0M6.0 13.6h0M2.5 15.0h0M18.7 11.4h0M-10.5-7.2h0M5.0 11.3h0M-2.5-11.4h0M8.2-1.9h0M-3.8 21.1h0M9.4 2.2h0M4.4-2.9h0M-19.4-6.5h0M-6.0-4.2h0M2.7 18.6h0M-7.4-16.9h0M-23.8 12.6h0M1.7 13.5h0M-14.8-14.2h0M-19.9-2.9h0M25.6 19.8h0M-11.4 1.1h0M24.7 17.7h0M-0.5 21.0h0M15.9 6.4h0M-2.1 17.3h0M20.7 10.7h0M-12.5-11.4h0M8.9-3.4h0M3.5 19.8h0M7.0 11.0h0M5.6 18.3h0M13.0 0.2h0M-15.9-6.2h0M-3.2-11.2h0M6.4 15.0h0M-7.4-13.2h0M8.5 13.0h0M-17.5-6.0h0M-18.9-8.8h0M3.6-0.4h0M11.0 13.2h0M6.3 14.3h0M-20.9 5.1h0M-19.5 5.0h0M-10.9 6.8h0M-5.5 5.3h0M-6.8 17.3h0M11.3-26.0h0M14.3-27.4h0M15.3-28.5h0M15.3-29.1h0M11.5-23.7h0M4.7-29.9h0M9.3-33.3h0M15.6-29.0h0M14.0-20.6h0M9.4-32.7h0M13.1-27.5h0M13.2-26.6h0M12.1-26.2h0M11.8-28.6h0M11.7-26.0h0M14.6-21.5h0M8.0-31.7h0M6.6-31.3h0M7.1-30.8h0M16.5-24.2h0M12.8-24.3h0M12.5-27.4h0M8.0-28.6h0M10.3-33.0h0M9.6-26.8h0M9.3-27.3h0M15.1-27.5h0M13.1-25.2h0M7.4-31.6h0M12.9-24.5h0M8.7-33.8h0M13.8-29.2h0M14.2-28.1h0M12.3-26.6h0M6.4-32.4h0M17.4-24.7h0M10.6-32.4h0M10.3-27.0h0M15.8-29.4h0M12.8-27.4h0M16.2-31.1h0M14.8-27.3h0M12.1-26.5h0M7.7-28.1h0M12.8-23.7h0M16.4-31.6h0M18.1-25.4h0M13.6-27.1h0M14.2-27.3h0M11.8-30.3h0M3.3-32.4h0M10.6-33.1h0M13.3-26.7h0M13.4-25.8h0M15.0-22.3h0M11.8-31.2h0M7.7-33.6h0M9.6-28.9h0M8.3-31.5h0M18.2-29.0h0M5.3-33.9h0M10.3-27.1h0M11.1-32.9h0M3.3-32.0h0M15.5-26.8h0M13.8-26.8h0M6.0-31.9h0M9.5-25.1h0M10.6-26.2h0M14.7-26.8h0M10.8-32.3h0M9.1-33.4h0M9.5-28.9h0M11.2-27.6h0M10.8-31.4h0M13.5-24.6h0M12.7-28.6h0M8.1-26.1h0M13.6-25.9h0M13.6-24.4h0M15.0-27.4h0M12.0-25.6h0M9.3-26.5h0M14.9-29.4h0M12.2-28.2h0M12.5-22.5h0M12.0-22.9h0M8.0-26.1h0M16.8-31.3h0M11.4-25.1h0M9.3-32.4h0M15.6-31.5h0M13.5-27.6h0M11.4-24.8h0M14.0-31.1h0M6.0-29.8h0M13.6-19.3h0M14.7-31.8h0M14.4-21.9h0M9.1-29.1h0M15.8-32.4h0M17.1-25.8h0M13.0-25.1h0M12.3-25.2h0M13.4-28.7h0M10.7-31.3h0M7.3-29.3h0M15.2-26.0h0M14.2-24.7h0M11.7-30.4h0M8.3-26.5h0M15.1-26.2h0M10.6-31.0h0M13.7-29.0h0M15.1-28.3h0M13.8-25.3h0M14.3-26.9h0M8.3-28.0h0M10.4-33.2h0M17.8-29.4h0M12.2-33.0h0M16.3-29.7h0M14.1-28.6h0M11.1-23.3h0M11.8-25.0h0M5.4-29.3h0M8.4-32.6h0M12.4-28.8h0M10.9-25.9h0M9.0-33.5h0M12.6-24.4h0M14.8-26.8h0M10.2-31.0h0M4.0-32.5h0M14.9-27.6h0M6.9-30.7h0M9.2-28.1h0M6.1-32.4h0M11.6-24.8h0M12.9-23.5h0M6.5-32.6h0M10.9-29.3h0M13.2-22.6h0M13.1-26.0h0M13.3-24.1h0M5.7-31.9h0M10.5-27.6h0M10.2-31.5h0M17.3-25.1h0M11.2-23.1h0M6.3-31.7h0M12.3-28.2h0M15.2-32.5h0M14.7-27.0h0M11.2-32.8h0M11.0-29.9h0M5.8-33.1h0M14.4-29.0h0M13.9-21.5h0M13.4-24.9h0M8.4-27.4h0M10.2-30.5h0M10.7-31.5h0M8.7-25.1h0M11.4-32.4h0M9.2-25.2h0M10.7-27.7h0M9.4-28.9h0M13.6-29.1h0M8.4-28.2h0M7.9-33.6h0M14.2-20.1h0M11.4-31.7h0M11.6-33.0h0M13.5-27.1h0M7.7-30.4h0M6.7-30.9h0M12.4-23.5h0M8.2-27.3h0M11.6-33.5h0M40.1 2.2h0M39.6 1.6h0M39.9 2.4h0M39.8 1.3h0M39.7 1.7h0M39.6 1.4h0M38.3 1.8h0M40.4 1.5h0M41.4 2.6h0M39.4 2.6h0M38.2 0.3h0M41.5 3.6h0M41.2 2.6h0M38.5 1.2h0M40.1 2.8h0M39.7 0.9h0M39.8 2.0h0M38.7 1.8h0M38.5 2.1h0M36.9 1.0h0M37.7 1.4h0M40.5 1.9h0M40.4 3.7h0M41.3 2.9h0M36.4 0.1h0M40.4 3.4h0M39.8 2.1h0M37.8 0.1h0M39.6 1.2h0M40.4 3.8h0M39.1 1.6h0M39.7 1.2h0M39.4 1.2h0M38.9 0.4h0M41.3 3.2h0M40.0 3.0h0M37.4 0.6h0M38.6 1.1h0M38.4 0.6h0M38.7 1.7h0M41.7 3.5h0M36.7 0.9h0M41.4 2.9h0M38.2 1.2h0M40.9 2.1h0M37.8 1.4h0M40.2 3.1h0M40.4 2.2h0M40.5 2.3h0M38.1 0.6h0M37.8 0.4h0M39.7 3.0h0M37.0 0.5h0M41.1 3.8h0M40.0 1.1h0M39.6 0.8h0M38.1 1.1h0M37.4 1.4h0M37.3 1.3h0M37.0 0.8h0"/>
<path id="PAs" d="M-6.5 20.9h0M-12.7-7.2h0M-13.5-5.4h0M-4.4-7.5h0M-17.2 15.4h0M21.4 14.2h0M-22.1 4.2h0M16.4-0.8h0M14.9 2.2h0M21.9 14.7h0M14.3 0.7h0M10.5 12.0h0M-10.7-10.1h0M-20.3-0.6h0M16.1 12.6h0M-17.3 14.0h0M5.5 12.4h0M-9.4 10.8h0M5.2 18.2h0M-2.1-5.5h0M-15.2 5.7h0M-6.1 18.4h0M-9.6-17.5h0M-1.6-16.6h0M0.9-3.1h0M-0.1-4.1h0M-10.1 8.4h0M-15.7 8.8h0M-15.9-9.1h0M-19.4 3.0h0M-3.4 6.4h0M-23.3 4.4h0M-16.4 18.6h0M1.1-15.8h0M7.4 7.9h0M9.0 17.9h0M17.5 14.5h0M11.7 7.9h0M-7.0 9.7h0M-19.5 0.1h0M-3.8-8.2h0M-7.4-6.4h0M-9.8-17.7h0M-12.7 3.3h0M-20.1 1.6h0M3.9 0.7h0M-2.2 10.6h0M-8.9 14.7h0M-24.5 6.5h0M-23.4 10.9h0M8.3 15.8h0M-10.0 12.2h0M-6.9 5.8h0M4.8-3.3h0M1.4-12.0h0M6.7 9.0h0M-0.9 22.6h0M16.1-0.4h0M11.7 5.8h0M-12.0-13.2h0M-12.5-0.4h0M7.9-0.7h0M-5.4 22.9h0M-12.2 7.5h0M-6.4 18.0h0M5.9 10.1h0M-4.2 1.7h0M-6.0 4.4h0M-6.5 20.9h0M12.1 7.6h0M-19.6 0.5h0M6.3 20.4h0M-21.0 8.2h0M-7.9 5.0h0M5.9-13.9h0M3.0 1.9h0M-5.1 2.3h0M0.3-8.6h0M-1.8 4.3h0M-21.5-0.3h0M11.2 8.1h0M-11.9-10.6h0M-21.5 5.4h0M-21.3-13.5h0M-7.8 19.3h0M-17.4 14.0h0M-14.3 18.9h0M-18.9 13.2h0M10.7 15.7h0M8.6 0.9h0M-20.0 2.0h0M-13.9-11.9h0M2.4-1.1h0M2.2 20.3h0M-20.8 15.2h0M-6.3-13.2h0M-14.1-13.1h0M-8.8 12.5h0M-2.4 18.8h0M-19.9-10.7h0M-12.1 16.7h0M-17.7 2.4h0M-24.6 12.6h0M-5.7 17.1h0M-15.8-2.8h0M-9.5-5.5h0M1.2 17.5h0M-1.4 16.3h0M18.0 3.8h0M-3.3 19.7h0M4.0-12.1h0M14.7 11.5h0M6.7 9.4h0M9.3 8.0h0M-10.1-17.4h0M7.1-8.7h0M-5.2-9.2h0M12.0 9.0h0M-16.7 16.4h0M-24.8 4.7h0M-16.2-7.3h0M-18.4 13.3h0M-2.7-0.1h0M1.1-8.9h0M-3.5 16.4h0M6.6-10.9h0M3.2 21.5h0M18.3 8.4h0M-10.0-5.7h0M7.7 16.8h0M-2.8-10.4h0M-4.9-12.2h0M-14.4 14.0h0M-4.3 2.0h0M13.2-2.0h0M10.8-4.7h0M2.5 8.3h0M6.9 1.5h0M-18.8 10.2h0M-20.8-10.1h0M-15.9 9.7h0M-4.1-1.5h0M16.4-1.2h0M-17.2 2.6h0M9.8-6.6h0M12.0-6.4h0M16.2 12.8h0M-8.0-10.9h0M24.8 20.1h0M-22.2 8.5h0M-20.0-12.4h0M-4.8-6.0h0M-21.9 4.7h0M-17.8 13.9h0M2.8-2.7h0M6.2 9.5h0M-13.7-8.7h0M-7.4-14.2h0M-13.3 5.8h0M11.2 2.4h0M1.2-5.4h0M-5.8 0.3h0M17.0 10.5h0M-9.0 5.4h0M-15.8 7.3h0M-13.4 1.1h0M-19.2-8.7h0M-13.4-2.1h0M-10.0 0.3h0M12.1 14.7h0M-14.5 10.3h0M2.2 15.2h0M-0.3-9.0h0M2.3 1.1h0M-9.2 22.2h0M7.7 21.3h0M-0.6-9.5h0M13.3-0.8h0M-6.2 15.5h0M-2.5 2.7h0M-3.8 6.6h0M-3.0-6.8h0M-10.0-10.6h0M-0.2 15.0h0M-11.2 0.3h0M-18.6-0.1h0M7.2 7.0h0M-4.6 14.6h0M18.6 6.3h0M-0.3 22.3h0M-8.4 7.6h0M-3.4 10.4h0M1.2 3.1h0M-15.3 0.7h0M11.8-3.3h0M-12.3-13.7h0M14.9 14.5h0M9.4-1.9h0M13.2 6.2h0M-16.9-7.3h0M-7.6-10.0h0M-11.7 0.2h0M-4.8 20.1h0M2.9-15.9h0M-7.4-10.1h0M11.6 9.2h0M-9.3-15.7h0M4.2 19.4h0M-24.8 9.5h0M-18.3 11.2h0M-12.2 16.5h0M-2.9 16.6h0M-3.8 18.5h0M1.5 18.9h0M17.3 10.8h0M11.7 8.2h0M-11.6 12.4h0M-12.4 10.3h0M-1.0-12.3h0M-3.0-6.5h0M-5.7-14.3h0M21.5 11.6h0M-14.2 1.5h0M-14.5-12.6h0M-11.4-6.9h0M7.7-1.2h0M-11.8-16.6h0M-0.1 6.8h0M11.1 1.2h0M-7.6 15.0h0M-8.3 0.2h0M-9.8 3.2h0M8.3-8.5h0M-10.9 20.5h0M-13.4 19.6h0M-0.3-7.0h0M-4.0 12.7h0M11.6 14.1h0M-22.8 14.2h0M-10.4 20.3h0M5.8 10.7h0M-10.2-17.7h0M-4.9-8.8h0M-21.5 2.4h0M-5.4 12.5h0M-21.7 8.4h0M10.2 2.2h0M10.6 9.3h0M-14.0-11.1h0M13.1 1.5h0M17.7 14.9h0M9.1 6.8h0M-18.8 17.2h0M3.9-1.0h0M-11.6-9.7h0M9.5-2.4h0M5.2 5.2h0M-5.6-2.2h0M-12.1-10.4h0M6.4 2.2h0M1.8-9.5h0M-20.7 6.5h0M17.2 3.0h0M-14.3-12.2h0M-17.7 13.8h0M3.8 8.0h0M10.3 8.4h0M-3.9 12.2h0M-0.0 19.8h0M-12.9 7.3h0M-17.9 1.5h0M-6.7-16.5h0M-0.1 21.3h0M8.9 3.3h0M-14.1 19.2h0M12.7 4.8h0M-2.9 5.4h0M-16.2-14.3h0M-1.9 22.1h0M-19.2 14.9h0M20.4 14.7h0M9.2 18.0h0M-12.0 12.7h0M-8.2 18.6h0M-16.5 10.1h0M-20.4 9.2h0M7.1 11.4h0M-4.5-3.1h0M-6.7 2.3h0M-25.1 9.3h0M-0.4 5.0h0M4.1-13.2h0M-21.4-0.8h0M8.9 3.4h0M-19.8-11.2h0M-19.2 1.7h0M-20.7-10.6h0M5.3-9.0h0M11.3-0.3h0M-2.3-10.6h0M12.4-3.2h0M18.5 15.3h0M7.2 20.8h0M14.7 5.0h0M-9.1 7.0h0M-10.7 21.5h0M13.2 7.7h0M-19.0-0.9h0M4.0 14.0h0M-13.5 5.6h0M17.3 10.1h0M-1.1-11.3h0M0.7 10.3h0M12.4 1.3h0M-20.2-0.5h0M-4.4 14.2h0M-19.0 4.4h0M-18.4 0.7h0M19.8 15.1h0M-2.1 12.2h0M-7.4 9.4h0M-2.1 2.6h0M-7.6 8.0h0M18.6 15.8h0M-9.4 11.6h0M22.0 15.4h0M16.7 0.5h0M4.2 19.1h0M-0.2 15.4h0M-0.0-16.5h0M-1.5-9.4h0M22.2 15.3h0M-11.3-1.4h0M-10.0-16.3h0M-5.2-9.6h0M-6.0-9.1h0M7.6-5.6h0M-0.7-5.6h0M-9.4 17.9h0M-0.5 7.3h0M-16.5 2.0h0M7.0-4.1h0M-1.3-1.0h0M-8.8 5.7h0M-18.9-12.3h0M2.1 20.9h0M-14.8-6.5h0M-19.5 15.2h0M13.1-7.2h0M15.1 9.0h0M-17.9-6.3h0M1.4 20.9h0M-19.4 1.1h0M-24.9 11.0h0M-15.9-13.3h0M-7.7 16.8h0M11.2 17.1h0M-1.5-9.9h0M-15.3 14.7h0M-25.3 10.6h0M-6.5 19.5h0M8.6 17.6h0M-7.6-4.4h0M-16.7 5.7h0M3.9-11.4h0M-1.2 3.1h0M-10.5-14.2h0M6.1 21.5h0M-17.8 3.7h0M-21.4 5.4h0M-12.0 8.7h0M-19.5-8.1h0M1.2-9.7h0M-3.3-1.2h0M-14.1 14.8h0M-3.4 14.2h0M-3.0 12.1h0M13.7-5.1h0M8.3 15.1h0M2.4 8.2h0M-19.4 13.6h0M-7.2 6.0h0M3.9 10.3h0M-12.5-15.0h0M0.7-1.0h0M13.7 9.5h0M-2.3-6.2h0M-4.6 23.0h0M-12.2-7.4h0M21.3 15.9h0M-16.1 13.9h0M0.2 22.8h0M-8.5 11.6h0M-20.4 16.9h0M20.2 16.0h0M8.0 4.8h0M-8.4-15.3h0M-2.4-10.8h0M-0.2-8.5h0M19.1 8.9h0M7.1 4.5h0M6.2-6.9h0M17.0 11.9h0M7.1-4.7h0M-5.8 5.3h0M-7.0 9.9h0M8.9-10.5h0M-2.7 9.8h0M-6.2 16.4h0M-15.7 4.2h0M-7.1 9.5h0M3.0 8.1h0M5.9-4.9h0M-4.2 15.4h0M-21.6-11.9h0M0.5 16.6h0M-24.1 13.4h0M1.1 2.0h0M-11.1-10.8h0M-3.9 14.8h0M4.5-2.3h0M-9.5-1.8h0M-6.0 6.0h0M2.6 10.4h0M-22.7-0.0h0M13.9-2.2h0M5.0-3.0h0M18.9 10.3h0M-23.9 7.0h0M-15.9 4.5h0M-1.0 16.0h0M20.6 16.3h0M-18.6-12.7h0M-0.5-1.6h0M-8.6 17.7h0M-8.7 8.4h0M2.3 3.6h0M-6.1 9.5h0M-5.5 18.6h0M12.3-5.7h0M-4.8 10.7h0M-15.5 9.0h0M-16.8-13.9h0M12.3-4.4h0M11.5 15.2h0M16.3 0.8h0M-15.8-10.4h0M-5.9-16.1h0M5.4-10.4h0M-15.0-1.9h0M12.0 13.0h0M-9.9 21.0h0M-6.3 2.1h0M18.1 11.2h0M-10.0-16.7h0M-24.0 10.5h0M16.6 15.4h0M-19.1 16.8h0M4.0 1.6h0M-3.6 3.6h0M-11.0 9.1h0M2.0 21.3h0M11.4-6.7h0M8.6-9.2h0M-10.6-9.6h0M13.6 2.6h0M6.5-11.0h0M4.7 13.3h0M-1.4 13.8h0M6.7 14.8h0M-21.2-13.8h0M-24.5 4.6h0M-0.8-4.3h0M-20.8 16.4h0M-9.9-0.5h0M-20.7-1.2h0M-24.5 6.0h0M-6.5 9.5h0M-19.9-11.2h0M-18.4-6.7h0M-2.1-12.8h0M-1.3 18.1h0M3.2 22.8h0M-2.5 13.2h0M-18.7-12.8h0M-16.5 7.2h0M-19.6 3.5h0M-20.9-5.7h0M-22.4 5.0h0M-8.6-13.8h0M-22.2 13.4h0M-18.8 5.4h0M9.7 14.0h0M0.8-10.9h0M-17.2 0.7h0M-8.9 22.3h0M-15.9 8.3h0M-1.3-7.6h0M3.6 20.8h0M-4.6 9.0h0M-21.5 8.4h0M8.2 9.3h0M7.1 0.7h0M7.7 20.7h0M-21.2 14.3h0M-7.5-8.0h0M7.4-3.7h0M-2.1-8.1h0M-12.2 8.4h0M-11.7-8.9h0M-5.5 2.4h0M9.4 14.7h0M-18.7 14.7h0M5.8 21.3h0M16.5 14.6h0M17.0 3.0h0M-1.6-16.5h0M7.2 12.3h0M-13.9-5.9h0M-17.7-3.4h0M0.1 8.8h0M13.3 0.0h0M-13.8 6.4h0M2.6-12.1h0M17.2-1.4h0M-16.1 1.7h0M23.2 18.9h0M4.2-7.1h0M-10.8-5.3h0M-13.5-7.3h0M-14.2 19.4h0M-22.2 12.4h0M21.7 13.9h0M-9.2-12.2h0M-10.2 2.0h0M11.2 6.6h0M-12.0 7.5h0M-3.7 12.3h0M-24.4 8.0h0M18.1 2.6h0M1.9 18.9h0M-1.5-12.6h0M-1.2 17.4h0M1.9 19.6h0M3.0 1.0h0M6.0-7.8h0M-11.7 4.2h0M-16.1 9.0h0M-7.2 19.9h0M-5.5-4.8h0M6.0-1.1h0M-7.3 21.0h0M-7.1 18.3h0M-18.2 10.0h0M-10.2 8.7h0M-21.0-3.6h0M3.8 11.1h0M-5.6 15.3h0M-16.7 18.0h0M6.6-8.4h0M-15.2 10.2h0M-13.5-0.8h0M-3.2 0.5h0M-8.2-11.3h0M22.2 17.1h0M-20.0-6.2h0M25.4 20.4h0M-11.2 8.8h0M-8.8-14.5h0M5.7 16.1h0M-15.2-8.6h0M13.7 0.9h0M-7.5-3.8h0M-2.7 5.0h0M-19.5 2.1h0M-0.1 15.9h0M3.9-8.9h0M-18.5 2.3h0M-19.4-9.1h0M0.4-0.4h0M7.2 12.0h0M22.8 18.5h0M17.4 9.4h0M-5.9-3.8h0M-1.0-12.3h0M16.6 2.9h0M6.4-13.2h0M-10.7 16.0h0M-0.9 20.3h0M-19.8 5.6h0M-12.9 19.6h0M7.1 1.1h0M17.3 13.9h0M-9.2 0.2h0M-9.2-5.4h0M-8.5-4.7h0M-14.2-9.4h0M-5.8-3.3h0M0.3 8.6h0M0.7-10.8h0M-20.7 12.1h0M-0.6-5.4h0M-12.5 11.1h0M-16.7-8.9h0M-9.7-6.5h0M-13.6 19.4h0M-21.1 6.5h0M-15.4 4.4h0M5.5 4.5h0M23.5 15.6h0M6.6 15.0h0M14.4 2.6h0M10.9 15.1h0M-21.0-4.4h0M-1.6-1.3h0M-12.1-12.8h0M-2.1-0.1h0M-0.6 22.3h0M-21.8 3.1h0M-23.8 4.6h0M10.3 0.8h0M-17.1 0.8h0M-3.6-13.3h0M-23.2 7.6h0M-13.8 18.4h0M-8.9-15.1h0M-6.3 21.2h0M-16.4-14.6h0M10.0 13.7h0M-6.0 22.6h0M-5.0 7.7h0M-5.6-16.3h0M12.5 9.7h0M22.3 15.1h0M6.6-5.7h0M-19.5 14.6h0M-2.5-5.1h0M7.4-0.4h0M-3.6-1.6h0M-13.3-0.9h0M-14.3 18.6h0M-1.0-6.7h0M-8.3-14.6h0M20.2 11.9h0M-13.1-5.5h0M-13.6 18.3h0M-12.7 11.6h0M11.3 4.3h0M-8.3 21.7h0M-14.1 18.4h0M1.2-1.9h0M12.5 4.2h0M-22.7 5.1h0M-3.7-7.2h0M-10.4-1.0h0M-12.8-0.8h0M-5.5 17.0h0M-19.5 7.7h0M18.6 5.5h0M8.7 6.3h0M4.2 14.7h0M4.7 11.3h0M2.5-10.6h0M12.9-2.6h0M9.0 18.1h0M-12.9 0.3h0M2.9 9.5h0M-8.4-14.5h0M-1.1 5.3h0M-11.7-13.7h0M5.5-11.1h0M2.8 20.4h0M-12.4 0.4h0M-8.5-15.5h0M-8.0-6.7h0M-17.6-12.4h0M-15.3-4.1h0M-4.5 15.1h0M-19.8-7.9h0M13.9 1.3h0M-8.2 16.5h0M-13.9-3.4h0M-14.2 5.7h0M-14.9-6.3h0M19.4 9.2h0M4.1-4.0h0M18.6 15.5h0M25.7 16.7h0M-9.8-9.6h0M-0.7-15.1h0M19.2 12.7h0M-16.6-5.1h0M-23.3 11.2h0M5.2 5.2h0M-8.3-10.3h0M16.2 13.4h0M-13.8-12.9h0M-17.1-13.3h0M-9.4 13.2h0M-4.0-14.5h0M11.1 1.1h0M-13.7 13.9h0M-7.4 16.0h0M3.6-12.2h0M9.0 11.2h0M-18.8-0.3h0M6.6 2.0h0M2.2-8.5h0M4.6 12.7h0M-14.2 1.8h0M-16.9-6.1h0M-1.1 10.1h0M-4.3-7.6h0M11.9 1.4h0M-17.2 14.0h0M-11.1 0.3h0M-19.8 3.3h0M-0.2-7.9h0M10.4 16.5h0M-13.4-11.0h0M9.4 14.1h0M-12.9 16.0h0M-6.4 12.2h0M-15.0-1.0h0M-17.4 10.8h0M-14.3-6.9h0M-20.3-11.1h0M3.9 21.6h0M9.0 12.1h0M-18.7 3.9h0M-21.8 7.9h0M-21.6 14.0h0M0.3-12.0h0M-4.4 15.6h0M-15.1-6.7h0M16.1 15.2h0M4.8-9.9h0M-20.7 7.3h0M-4.5-0.1h0M-16.3 6.1h0M7.4-7.9h0M-3.9 4.1h0M16.0 11.1h0M-17.0-5.8h0M-13.1-5.7h0M-4.7-3.3h0M-13.6 17.8h0M-20.6-10.2h0M17.3 13.4h0M-24.0 3.3h0M23.4 18.3h0M2.7 22.4h0M-2.4 6.4h0M-15.2-4.8h0M-0.2-9.3h0M-5.7 20.2h0M-5.7-9.5h0M-10.3 11.1h0M-2.2 8.4h0M-14.8-8.9h0M8.7 17.2h0M-0.9-16.6h0M-11.2 13.8h0M1.9 16.4h0M-17.3 13.6h0M1.8 20.7h0M8.1-6.6h0M-14.9-8.4h0M-15.8 14.6h0M12.7 1.6h0M-13.4-7.3h0M-17.4 12.8h0M-14.8 16.0h0M-7.1 1.8h0M26.0 21.5h0M-1.7-2.5h0M-11.4 21.0h0M9.6 13.3h0M-24.4 4.6h0M-17.3 7.6h0M-18.6-5.2h0M-2.9-11.8h0M2.3-4.0h0M-9.2 16.4h0M16.7 14.6h0M-15.2 19.3h0M-17.8 15.1h0M-21.3-4.4h0M-23.0 12.7h0M-1.8-1.3h0M-0.4-7.6h0M-11.8 20.2h0M4.9 16.3h0M-13.5-15.1h0M7.6 16.0h0M10.5-9.6h0M-15.0-6.7h0M22.1 16.5h0M10.7-8.6h0M-4.3-4.4h0M-15.0-3.2h0M6.2-4.3h0M1.2-8.8h0M-19.7 5.4h0M-17.1 13.3h0M-19.9-0.1h0M-19.1-10.7h0M-8.3 4.6h0M-18.6 7.1h0M-15.6-6.1h0M-12.6 2.2h0M8.2 17.5h0M2.5 20.2h0M-7.3 9.6h0M9.6 14.8h0M-20.6 2.4h0M13.4 2.3h0M2.5-1.0h0M3.6 22.8h0M-3.2-5.1h0M-18.3-1.3h0M0.4-10.3h0M-10.7 20.1h0M-1.8 3.0h0M-9.5 15.1h0M-6.1-15.0h0M12.8-4.0h0M2.0 12.0h0M-4.4 6.1h0M5.2-3.3h0M-23.7 11.0h0M8.4 12.9h0M10.2 8.0h0M24.9 15.9h0M3.7-3.0h0M11.8 2.6h0M-11.7 21.4h0M-14.8-7.4h0M6.1 5.4h0M-10.7 16.4h0M-8.8 16.0h0M-14.4-15.4h0M12.7 11.8h0M-19.0 14.0h0M1.3-15.0h0M1.8 22.9h0M-5.3 4.3h0M11.3-0.3h0M-17.0-11.6h0M4.4-0.8h0M-2.8 9.4h0M7.4 9.3h0M-3.8 19.6h0M12.3 1.9h0M8.0 2.8h0M-15.4 7.8h0M-20.0-8.0h0M8.9-4.1h0M-24.3 7.1h0M-16.8 7.4h0M4.5-4.4h0M-5.0 18.2h0M-5.4 18.8h0M-4.4-5.7h0M-7.8-12.1h0M-9.6-5.6h0M14.8 13.1h0M12.6 8.9h0M-0.1 11.9h0M8.5-6.4h0M0.3 8.6h0M-17.6 3.4h0M-3.6 12.1h0M-8.5 14.4h0M7.5-2.3h0M-14.1-10.4h0M5.9 3.5h0M-8.5 12.8h0M7.5 13.9h0M-22.1 5.8h0M17.3 0.3h0M-14.5 0.2h0M13.9 6.2h0M-1.8 16.0h0M12.0 9.5h0M-19.3-12.7h0M3.1 13.5h0M-14.0 6.6h0M-9.5-8.4h0M14.6 6.8h0M4.0 4.2h0M-12.8 7.6h0M1.7 20.5h0M12.9 1.3h0M11.5 11.4h0M-9.3 1.2h0M0.6-13.0h0M13.9 1.8h0M-16.3 6.1h0M15.6 6.7h0M-12.3-7.6h0M1.9-2.7h0M5.7 12.2h0M-12.9-1.5h0M-16.9 8.4h0M-7.1 9.4h0M-4.7 9.6h0M-13.7-5.1h0M-13.5 6.7h0M7.8 1.8h0M-8.0-13.1h0M-19.0-13.6h0M20.8 16.0h0M3.0 19.1h0M14.9 13.2h0M-22.4 13.2h0M15.2 0.6h0M-3.3-9.5h0M8.5 8.1h0M5.0-1.3h0M2.3 19.1h0M10.6 13.5h0M9.3 0.0h0M-21.2-1.9h0M-16.4 7.6h0M-12.4 9.8h0M-5.1 10.5h0M-7.6 4.9h0M-12.5 8.0h0M9.9-7.4h0M-20.8-0.0h0M14.5 2.2h0M9.5-1.3h0M11.1 5.1h0M-12.2-5.9h0M-21.8 12.0h0M6.1-10.1h0M-20.4 15.4h0M-14.8-11.5h0M-19.0 6.1h0M22.2 14.5h0M-21.9 0.7h0M-21.8 5.6h0M-13.4-15.6h0M3.4 22.9h0M-5.9-8.1h0M-10.3-5.6h0M-20.3 8.0h0M-18.4-11.2h0M-13.8 13.9h0M-9.4 10.2h0M-15.4 15.7h0M13.9 12.3h0M-14.1 14.4h0M10.6 17.8h0M2.8-3.8h0M1.5-9.6h0M16.4 12.3h0M-20.8 14.9h0M-12.0-14.0h0M13.9 3.9h0M17.5 8.1h0M-18.4 8.6h0M0.4-8.0h0M-14.8 6.2h0M-3.9-11.5h0M-18.8-8.7h0M-2.5 0.4h0M-5.1 4.3h0M-6.7 13.5h0M9.8 7.9h0M-25.6 9.9h0M1.6 17.3h0M14.3-4.7h0M10.5-5.0h0M-6.4 12.9h0M-15.2-5.0h0M14.4 8.8h0M-5.2 9.1h0M-19.8 3.3h0M16.1 15.5h0M15.0 1.9h0M-6.5 8.8h0M5.1 20.6h0M-14.1 0.2h0M-21.9-1.2h0M-11.4-0.5h0M-3.4 3.1h0M11.0 3.4h0M5.6 20.0h0M-11.1 4.4h0M-5.9 17.1h0M-5.6 16.7h0M8.6 4.1h0M-9.0 16.9h0M-4.2 21.5h0M-5.1-11.2h0M-10.9-5.6h0M-17.4 11.2h0M22.6 15.7h0M-6.4 18.7h0M-5.1-16.1h0M7.5 1.8h0M-0.8 18.2h0M-15.7 7.4h0M14.2 8.6h0M-0.6 14.6h0M9.8 4.6h0M-16.8-12.0h0M11.5 1.7h0M-12.4-15.8h0M6.9 6.5h0M5.3 7.0h0M14.1 3.8h0M6.6-8.4h0M17.7 0.9h0M-16.9-4.9h0M1.1 20.2h0M-22.8 7.9h0M-18.1-5.8h0M-12.7 19.9h0M-23.0 1.7h0M-22.0 2.9h0M2.5-2.3h0M-16.1 11.2h0M10.7-1.5h0M0.7 2.8h0M13.8 12.8h0M20.4 15.9h0M-23.8 3.8h0M-9.3-17.4h0M-7.8-10.5h0M4.0 19.2h0M-7.9-12.8h0M5.2 16.8h0M0.8-2.4h0M-19.4 3.4h0M16.5 11.7h0M0.6-9.0h0M-19.6-10.5h0M15.8 12.9h0M4.4-10.0h0M-3.5 17.1h0M0.4 2.3h0M-5.5 16.6h0M0.8 18.4h0M-5.3-6.6h0M-21.1 9.1h0M17.0 15.1h0M4.1 19.1h0M-15.6-7.3h0M-23.5 12.7h0M-1.9-2.5h0M-10.8 0.4h0M1.7 14.6h0M-17.7-11.3h0M-9.8-1.8h0M-10.8 21.9h0M-0.5-9.9h0M-9.6-2.3h0M8.2 13.9h0M24.5 19.3h0M-20.0-10.3h0M7.0 8.2h0M-5.1-9.2h0M-14.7 5.6h0M-23.5 4.1h0M12.0 3.6h0M13.6-4.8h0M-11.0-0.8h0M-11.0 11.4h0M-20.5-2.9h0M-0.9 11.5h0M-0.3-13.2h0M-22.2 10.5h0M14.4 9.6h0M-17.7 0.1h0M8.6 11.5h0M12.3 1.2h0M-21.0 1.6h0M-1.2 15.7h0M-19.9 1.7h0M-18.6-8.7h0M-21.8-9.8h0M-22.7 11.7h0M-1.2-11.7h0M-2.2 5.2h0M-3.7 5.7h0M12.6 9.5h0M4.8-5.5h0M6.2 10.6h0M-13.4 19.8h0M14.6 13.9h0M-9.7-4.8h0M-17.6 12.5h0M11.1-3.0h0M-2.8 4.4h0M-19.7-3.3h0M-5.2 4.3h0M10.7 12.6h0M-6.1 19.5h0M-5.7-12.0h0M14.0-6.2h0M-2.1-11.9h0M15.6 1.7h0M-6.9 15.0h0M17.3 3.5h0M-5.2-8.8h0M5.6 10.8h0M-6.0-3.7h0M11.5 6.1h0M12.1 5.0h0M-7.8-4.5h0M-3.3-9.1h0M-5.3 19.0h0M-12.4-15.5h0M-3.8 4.9h0M-3.4-9.8h0M-0.5 16.4h0M20.1 15.1h0M-10.8-9.1h0M14.5-6.0h0M-20.6 12.7h0M10.9 8.6h0M17.7 3.9h0M-15.7 11.9h0M-2.4-17.1h0M-14.6 20.0h0M-14.6 20.1h0M8.0 3.0h0M-8.6-17.3h0M-4.1 12.0h0M6.3 1.2h0M2.5-2.4h0M-21.4-12.4h0M16.4 8.8h0M-1.3 3.6h0M5.9-0.5h0M14.8 0.5h0M12.1 5.7h0M7.1 7.0h0M-10.2-8.2h0M25.6 16.5h0M-4.0-4.7h0M0.9-8.4h0M-20.7-3.3h0M-13.8 8.4h0M8.1 15.1h0M-3.9 4.6h0M15.1 1.4h0M11.0 5.5h0M-18.6 15.6h0M-20.1 2.0h0M-7.9-16.3h0M-21.6 14.9h0M0.9-9.4h0M8.1-1.9h0M7.2 2.9h0M12.5 9.2h0M0.0 22.7h0M-0.3 6.5h0M-0.8 1.7h0M6.3-2.5h0M-22.5 8.2h0M-9.3-7.5h0M5.2-10.2h0M-22.7 13.1h0M9.0 18.1h0M-11.0-2.8h0M4.9 0.1h0M-2.3-2.9h0M-2.1-5.2h0M-11.5 17.7h0M-16.5 14.3h0M0.1 10.6h0M0.3 13.8h0M-3.4 22.9h0M7.8 5.1h0M-19.9 7.7h0M1.0-6.0h0M-14.5 3.5h0M-22.1 0.2h0M7.6-6.9h0M2.1 2.6h0M-14.4 18.6h0M8.4-10.4h0M-6.5-0.8h0M-11.5-8.5h0M14.3 12.7h0M-16.5 7.9h0M-0.3 10.7h0M-0.1-8.1h0M-6.1 0.8h0M-10.7-14.6h0M0.1-5.5h0M-2.4 4.8h0M9.2 10.5h0M22.7 15.9h0M-23.1 4.9h0M4.2 11.2h0M2.7-1.4h0M-16.9 15.7h0M20.1 14.7h0M11.7 15.6h0M3.7 20.8h0M-4.5-4.5h0M-8.1-12.3h0M-2.8 17.9h0M6.5-5.2h0M-12.6-11.1h0M14.2 5.8h0M1.6-7.9h0M-4.0-1.4h0M14.7-4.9h0M15.4 4.8h0M-20.5 2.6h0M25.8 20.7h0M9.1 13.6h0M0.4-11.3h0M3.6 3.7h0M4.3 20.9h0M-10.7 19.8h0M-18.8-0.8h0M-6.6 6.4h0M7.0 11.3h0M13.6 10.8h0M-6.9 1.0h0M-4.4 20.4h0M-3.6 19.1h0M-20.4-2.7h0M-17.0-7.5h0M-19.7-1.6h0M15.2 10.7h0M-16.2 9.0h0M18.5 2.6h0M3.3-8.9h0M11.0-8.0h0M-23.6 9.5h0M1.1 1.8h0M-8.2-14.3h0M-0.6 3.3h0M-21.7-10.1h0M15.3 3.5h0M-5.3 21.6h0M25.2 18.8h0M2.6 20.9h0M18.9 14.0h0M-0.2 20.7h0M-16.4 5.2h0M13.4 7.8h0M14.0 7.0h0M-10.1-6.3h0M21.9 15.1h0M5.7 13.1h0M-19.9 3.8h0M12.4 13.6h0M-13.5 19.7h0M1.0-3.7h0M-9.1 12.8h0M0.8-2.2h0M0.5-11.8h0M-6.4 8.8h0M12.2 2.0h0M-0.3-4.4h0M5.8 8.7h0M-1.0 17.9h0M-1.7-7.2h0M11.7 14.4h0M3.2-9.2h0M21.9 12.3h0M18.9 13.9h0M-17.3-11.8h0M-5.3 10.4h0M10.1-8.6h0M-5.9 21.5h0M-0.0-10.6h0M-24.7 5.4h0M-23.9 11.4h0M-14.7-13.2h0M-18.5 13.5h0M17.6 14.8h0M-14.1 15.0h0M-8.3-6.3h0M10.3 7.3h0M-23.4 12.3h0M16.8 9.6h0M-8.3-4.7h0M-11.4 1.7h0M-15.3 3.0h0M18.5 4.9h0M5.9-13.3h0M5.3 10.4h0M9.8-1.4h0M-10.2 7.6h0M-15.2-0.7h0M-18.7-2.1h0M-3.1 19.5h0M-16.3-12.4h0M-8.8-1.6h0M-4.1 18.3h0M11.3-26.0h0M14.3-27.4h0M15.3-28.5h0M15.3-29.1h0M11.5-23.7h0M4.7-29.9h0M9.3-33.3h0M15.6-29.0h0M14.0-20.6h0M9.4-32.7h0M13.1-27.5h0M13.2-26.6h0M12.1-26.2h0M11.8-28.6h0M11.7-26.0h0M14.6-21.5h0M8.0-31.7h0M6.6-31.3h0M7.1-30.8h0M16.5-24.2h0M12.8-24.3h0M12.5-27.4h0M8.0-28.6h0M10.3-33.0h0M9.6-26.8h0M9.3-27.3h0M15.1-27.5h0M13.1-25.2h0M7.4-31.6h0M12.9-24.5h0M8.7-33.8h0M13.8-29.2h0M14.2-28.1h0M12.3-26.6h0M6.4-32.4h0M17.4-24.7h0M10.6-32.4h0M10.3-27.0h0M15.8-29.4h0M12.8-27.4h0M16.2-31.1h0M14.8-27.3h0M12.1-26.5h0M7.7-28.1h0M12.8-23.7h0M16.4-31.6h0M18.1-25.4h0M13.6-27.1h0M14.2-27.3h0M11.8-30.3h0M3.3-32.4h0M10.6-33.1h0M13.3-26.7h0M13.4-25.8h0M15.0-22.3h0M11.8-31.2h0M7.7-33.6h0M9.6-28.9h0M8.3-31.5h0M18.2-29.0h0M5.3-33.9h0M10.3-27.1h0M11.1-32.9h0M3.3-32.0h0M15.5-26.8h0M13.8-26.8h0M6.0-31.9h0M9.5-25.1h0M10.6-26.2h0M14.7-26.8h0M10.8-32.3h0M9.1-33.4h0M9.5-28.9h0M11.2-27.6h0M10.8-31.4h0M13.5-24.6h0M12.7-28.6h0M8.1-26.1h0M13.6-25.9h0M13.6-24.4h0M15.0-27.4h0M12.0-25.6h0M9.3-26.5h0M14.9-29.4h0M12.2-28.2h0M12.5-22.5h0M12.0-22.9h0M8.0-26.1h0M16.8-31.3h0M11.4-25.1h0M9.3-32.4h0M15.6-31.5h0M13.5-27.6h0M11.4-24.8h0M14.0-31.1h0M6.0-29.8h0M13.6-19.3h0M14.7-31.8h0M14.4-21.9h0M9.1-29.1h0M15.8-32.4h0M17.1-25.8h0M13.0-25.1h0M12.3-25.2h0M13.4-28.7h0M10.7-31.3h0M7.3-29.3h0M15.2-26.0h0M14.2-24.7h0M11.7-30.4h0M8.3-26.5h0M15.1-26.2h0M10.6-31.0h0M13.7-29.0h0M15.1-28.3h0M13.8-25.3h0M14.3-26.9h0M8.3-28.0h0M10.4-33.2h0M17.8-29.4h0M12.2-33.0h0M16.3-29.7h0M14.1-28.6h0M11.1-23.3h0M11.8-25.0h0M5.4-29.3h0M8.4-32.6h0M12.4-28.8h0M10.9-25.9h0M9.0-33.5h0M40.1 2.2h0M39.6 1.6h0M39.9 2.4h0M39.8 1.3h0M39.7 1.7h0M39.6 1.4h0M38.3 1.8h0M40.4 1.5h0M41.4 2.6h0M39.4 2.6h0M38.2 0.3h0M41.5 3.6h0M41.2 2.6h0M38.5 1.2h0M40.1 2.8h0M39.7 0.9h0M39.8 2.0h0M38.7 1.8h0M38.5 2.1h0M36.9 1.0h0M37.7 1.4h0M40.5 1.9h0M40.4 3.7h0M41.3 2.9h0M36.4 0.1h0M40.4 3.4h0M39.8 2.1h0M37.8 0.1h0M39.6 1.2h0M40.4 3.8h0"/>
<path id="R_main05" d="M-2.1-5.5h0M-6.1 18.4h0M11.7 7.9h0M1.4-12.0h0M3.0 1.9h0M-6.3-13.2h0M-10.1-17.4h0M10.8-4.7h0M16.2 12.8h0M-9.0 5.4h0M-15.8 7.3h0M-11.8-16.6h0M11.1 1.2h0M13.1 1.5h0M17.7 14.9h0M-14.3-12.2h0M-6.7 2.3h0M12.4-3.2h0M17.3 10.1h0M-2.1 12.2h0M-7.6 8.0h0M-11.3-1.4h0M-19.5-8.1h0M-2.7 9.8h0M-8.6 17.7h0M-6.1 9.5h0M12.3-5.7h0M-13.8 6.4h0M-12.0 7.5h0M-15.2 10.2h0M23.5 15.6h0M-2.1-0.1h0M-5.0 7.7h0M2.8 20.4h0M-15.3-4.1h0M-23.3 11.2h0M-18.8-0.3h0M-16.9-6.1h0M11.9 1.4h0M8.1-6.6h0M-17.4 12.8h0M-2.9-11.8h0M6.2-4.3h0M8.0 2.8h0M5.7 12.2h0M-12.0-14.0h0M13.9 3.9h0M-18.8-8.7h0M-6.7 13.5h0M1.6 17.3h0M-15.7 7.4h0M5.2 16.8h0M-1.2 15.7h0M-13.4 19.8h0M14.6 13.9h0M-0.5 16.4h0M20.1 15.1h0M-10.8-9.1h0M-2.4-17.1h0M-21.4-12.4h0M-20.7-3.3h0M14.3 12.7h0M-2.8 17.9h0M14.7-4.9h0M0.4-11.3h0M-8.2-14.3h0M12.4 13.6h0M-17.3-11.8h0M-15.2-0.7h0M3.8 17.8h0M-2.5 0.5h0M2.5-0.5h0M-2.2 17.0h0M-5.3 3.0h0M-8.3-12.5h0M-6.8 7.3h0M3.2 11.4h0M8.1-9.4h0M1.3 20.3h0M-14.8-1.8h0M-1.3 9.2h0M-12.8-3.9h0M-8.8-3.3h0M4.3-10.3h0M-16.8 12.0h0M21.4 16.1h0M-10.2 19.4h0M-9.0-5.8h0M-18.9 15.3h0M-5.3 12.8h0M-5.0 14.7h0M12.6-7.8h0M-8.7 13.2h0M25.8 19.0h0M12.3-0.8h0M6.5 1.6h0M6.9 10.1h0M-12.5-1.4h0M-6.2 10.5h0M-7.1 3.4h0M-7.2 2.1h0M-2.2 4.8h0M6.9 18.1h0M14.3 3.1h0M-12.6 8.2h0M-2.9-6.7h0M-24.9 5.7h0M17.3 10.3h0M-13.9-0.1h0M-1.4 3.4h0M-0.2 2.3h0M15.2 10.6h0M-1.1 11.4h0M1.1-14.9h0M-0.9-2.9h0M-1.7-4.9h0M3.4 13.4h0M10.2 15.8h0M10.5 1.3h0M5.6 3.9h0M4.2-2.2h0M7.9 0.4h0M4.6 10.5h0M-19.6 13.4h0M-12.1-15.0h0M-11.0-14.4h0M17.0 2.7h0M-5.5-8.1h0M-4.9 14.0h0M19.3 14.9h0M-0.5 21.0h0M5.6 18.3h0"/>
<path id="R_main10" d="M-0.1-4.1h0M-15.7 8.8h0M-3.4 6.4h0M-16.4 18.6h0M17.5 14.5h0M-24.5 6.5h0M3.0 1.9h0M8.6 0.9h0M2.2 20.3h0M-8.8 12.5h0M-1.4 16.3h0M-10.1-17.4h0M-16.7 16.4h0M-2.7-0.1h0M13.2-2.0h0M6.9 1.5h0M-18.8 10.2h0M6.2 9.5h0M-13.7-8.7h0M-14.5 10.3h0M-3.8 6.6h0M-4.6 14.6h0M-0.3 22.3h0M-3.4 10.4h0M11.8-3.3h0M14.9 14.5h0M-7.4-10.1h0M-18.3 11.2h0M-8.3 0.2h0M-9.8 3.2h0M-10.2-17.7h0M-5.4 12.5h0M-21.7 8.4h0M5.2 5.2h0M-12.1-10.4h0M1.8-9.5h0M-0.1 21.3h0M-20.4 9.2h0M-9.1 7.0h0M-4.4 14.2h0M-2.1 12.2h0M-0.0-16.5h0M7.0-4.1h0M-14.8-6.5h0M15.1 9.0h0M-7.7 16.8h0M6.1 21.5h0M-21.4 5.4h0M-12.0 8.7h0M-19.4 13.6h0M-2.3-6.2h0M8.0 4.8h0M-4.2 15.4h0M-18.6-12.7h0M-3.6 3.6h0M11.4-6.7h0M-24.5 4.6h0M3.2 22.8h0M-19.6 3.5h0M-20.9-5.7h0M-8.9 22.3h0M8.2 9.3h0M-1.6-16.5h0M-22.2 12.4h0M11.2 6.6h0M-18.2 10.0h0M-10.2 8.7h0M3.8 11.1h0M-19.4-9.1h0M0.3 8.6h0M-16.7-8.9h0M-15.4 4.4h0M6.6 15.0h0M-23.8 4.6h0M-16.4-14.6h0M-19.5 14.6h0M-2.5-5.1h0M-19.5 7.7h0M9.0 18.1h0M-15.3-4.1h0M-14.2 5.7h0M-23.3 11.2h0M16.2 13.4h0M-13.7 13.9h0M6.6 2.0h0M-19.8 3.3h0M-20.7 7.3h0M8.7 17.2h0M-17.3 13.6h0M12.7 1.6h0M-17.3 7.6h0M16.7 14.6h0M-6.1-15.0h0M-23.7 11.0h0M1.8 22.9h0M-17.0-11.6h0M-24.3 7.1h0M-5.4 18.8h0M-9.6-5.6h0M5.9 3.5h0M17.3 0.3h0M-14.5 0.2h0M14.6 6.8h0M-4.7 9.6h0M10.6 13.5h0M-12.4 9.8h0M-12.5 8.0h0M14.5 2.2h0M3.4 22.9h0M-15.4 15.7h0M15.0 1.9h0M-14.1 0.2h0M-5.1-11.2h0M-17.4 11.2h0M-15.7 7.4h0M6.6-8.4h0M-5.5 16.6h0M4.1 19.1h0M-10.8 21.9h0M24.5 19.3h0M-20.0-10.3h0M-18.6-8.7h0M6.2 10.6h0M14.6 13.9h0M-9.7-4.8h0M11.1-3.0h0M-7.8-4.5h0M-10.8-9.1h0M5.2-10.2h0M-22.7 13.1h0M-6.5-0.8h0M14.3 12.7h0M0.1-5.5h0M-20.5 2.6h0M-21.7-10.1h0M14.0 7.0h0M12.4 13.6h0M1.0-3.7h0M11.7 14.4h0M-17.3-11.8h0M-5.9 21.5h0M-8.3-6.3h0M18.5 4.9h0M5.3 10.4h0M-4.1 18.3h0M-7.0 18.5h0M7.1 17.8h0M-21.7 7.7h0M-17.8 8.1h0M-9.4 3.3h0M-20.3 2.1h0M-2.2 17.0h0M9.4 0.1h0M-8.2 3.0h0M8.2-0.7h0M-13.9-6.7h0M-2.7 2.4h0M-7.6-5.0h0M-20.3-10.4h0M-8.9-4.4h0M-23.5 5.3h0M-4.4 12.0h0M-14.8-1.8h0M-12.4-4.9h0M4.8 19.9h0M-17.0 1.5h0M12.0-6.5h0M13.6-5.3h0M5.3 5.1h0M-4.0 3.0h0M-10.3-4.7h0M11.2-5.7h0M-2.5 11.9h0M4.3-9.3h0M-2.3-0.8h0M8.1 19.7h0M11.8 6.5h0M-5.1 17.9h0M23.7 20.0h0M8.9 0.3h0M-16.8 12.0h0M3.1 20.8h0M-5.4-7.8h0M18.2 1.8h0M-14.1 19.8h0M-15.3 0.4h0M-3.2 12.3h0M-18.9-0.6h0M-15.2-2.8h0M13.3-4.3h0M-9.2-12.8h0M2.3-11.2h0M-5.4 3.7h0M-8.7 13.2h0M-23.9 13.2h0M-7.8 3.7h0M13.5-0.1h0M-10.2-13.8h0M-14.7 8.3h0M3.9 10.1h0M-19.0-2.9h0M-7.2 2.1h0M9.6-5.4h0M1.7 20.8h0M-11.1-2.5h0M-6.4 20.4h0M-4.1-1.8h0M-1.9 21.3h0M-7.7-7.5h0M-20.0 6.9h0M4.7-6.5h0M-5.2 19.2h0M-0.4-12.4h0M-20.8 0.0h0M-7.9 17.2h0M-16.1 2.1h0M14.7 12.3h0M8.8 15.4h0M-20.3 11.2h0M-8.7 15.6h0M-5.8 18.6h0M-4.9 4.2h0M-24.9 5.7h0M4.3 7.9h0M-15.9-3.8h0M3.7-1.8h0M2.3 19.0h0M15.9 12.9h0M16.4 8.6h0M-19.1-7.9h0M-11.6-16.1h0M19.5 10.9h0M11.5 8.0h0M10.2-8.2h0M22.2 13.5h0M-4.6-0.0h0M10.3-0.2h0M-23.0 12.8h0M-1.9 16.9h0M-15.8-8.9h0M-18.9-1.1h0M8.6 11.4h0M-15.3 3.3h0M2.9 2.9h0M-14.6-7.5h0M-6.4 9.7h0M16.0 10.4h0M-4.2 21.7h0M-22.4 10.3h0M-0.2 9.7h0M-13.7-4.0h0M0.2-13.4h0M-16.7 14.5h0M-2.5 19.8h0M14.1 3.1h0M-17.5 9.2h0M1.2 20.1h0M6.4 6.1h0M-9.7-9.3h0M-17.2-7.8h0M-8.4-16.2h0M16.9 8.1h0M-1.5-10.5h0M-20.9-11.4h0M-14.6 12.6h0M-8.3 3.1h0M-0.8 19.4h0M-9.1 16.3h0M13.8 7.2h0M10.9 3.9h0M4.4-2.9h0M-23.8 12.6h0M1.7 13.5h0M-12.5-11.4h0M3.5 19.8h0M-15.9-6.2h0M-7.4-13.2h0M3.6-0.4h0"/>
<path id="R_main20" d="M-6.5 20.9h0M-13.5-5.4h0M-9.6-17.5h0M-23.3 4.4h0M17.5 14.5h0M11.7 7.9h0M-19.5 0.1h0M-3.8-8.2h0M-7.4-6.4h0M-12.7 3.3h0M-20.1 1.6h0M7.9-0.7h0M6.3 20.4h0M3.0 1.9h0M-1.8 4.3h0M10.7 15.7h0M8.6 0.9h0M-6.3-13.2h0M-2.4 18.8h0M-12.1 16.7h0M-24.6 12.6h0M-5.7 17.1h0M14.7 11.5h0M-10.1-17.4h0M-16.7 16.4h0M-24.8 4.7h0M-2.7-0.1h0M6.6-10.9h0M3.2 21.5h0M18.3 8.4h0M-21.9 4.7h0M11.2 2.4h0M17.0 10.5h0M13.3-0.8h0M-2.5 2.7h0M-3.8 6.6h0M-0.2 15.0h0M13.2 6.2h0M2.9-15.9h0M4.2 19.4h0M-12.2 16.5h0M17.3 10.8h0M-7.6 15.0h0M-10.9 20.5h0M-4.0 12.7h0M-22.8 14.2h0M-10.2-17.7h0M-14.0-11.1h0M13.1 1.5h0M17.7 14.9h0M-11.6-9.7h0M9.5-2.4h0M-20.7 6.5h0M-14.3-12.2h0M3.8 8.0h0M-3.9 12.2h0M-17.9 1.5h0M-6.7-16.5h0M20.4 14.7h0M-12.0 12.7h0M-16.5 10.1h0M-20.4 9.2h0M7.1 11.4h0M-21.4-0.8h0M-9.1 7.0h0M13.2 7.7h0M-0.0-16.5h0M-11.3-1.4h0M-0.5 7.3h0M-18.9-12.3h0M-25.3 10.6h0M-17.8 3.7h0M-21.4 5.4h0M13.7-5.1h0M-12.5-15.0h0M13.7 9.5h0M-12.2-7.4h0M21.3 15.9h0M7.1 4.5h0M6.2-6.9h0M-7.0 9.9h0M-6.2 16.4h0M-11.1-10.8h0M-3.9 14.8h0M-22.7-0.0h0M12.3-4.4h0M16.3 0.8h0M5.4-10.4h0M-6.3 2.1h0M4.0 1.6h0M2.0 21.3h0M-20.8 16.4h0M-9.9-0.5h0M-24.5 6.0h0M-6.5 9.5h0M3.2 22.8h0M-19.6 3.5h0M-22.4 5.0h0M0.8-10.9h0M-15.9 8.3h0M-1.3-7.6h0M8.2 9.3h0M-21.2 14.3h0M9.4 14.7h0M16.5 14.6h0M-13.8 6.4h0M2.6-12.1h0M-3.7 12.3h0M6.0-1.1h0M-16.7 18.0h0M6.6-8.4h0M-8.2-11.3h0M5.7 16.1h0M-7.5-3.8h0M-0.1 15.9h0M-19.4-9.1h0M0.4-0.4h0M16.6 2.9h0M6.4-13.2h0M-12.9 19.6h0M17.3 13.9h0M-14.2-9.4h0M-12.5 11.1h0M-16.7-8.9h0M5.5 4.5h0M14.4 2.6h0M10.9 15.1h0M-12.1-12.8h0M-2.1-0.1h0M6.6-5.7h0M-19.5 14.6h0M-13.3-0.9h0M-14.3 18.6h0M-13.6 18.3h0M-14.1 18.4h0M1.2-1.9h0M-12.8-0.8h0M18.6 5.5h0M12.9-2.6h0M2.9 9.5h0M-1.1 5.3h0M-19.8-7.9h0M-8.2 16.5h0M4.1-4.0h0M19.2 12.7h0M-16.6-5.1h0M-1.1 10.1h0M-13.4-11.0h0M-15.0-1.0h0M-17.4 10.8h0M9.0 12.1h0M-20.7 7.3h0M-16.3 6.1h0M-2.4 6.4h0M-0.2-9.3h0M-5.7-9.5h0M-0.9-16.6h0M-11.2 13.8h0M1.9 16.4h0M-13.4-7.3h0M-14.8 16.0h0M-11.4 21.0h0M-2.9-11.8h0M16.7 14.6h0M-1.8-1.3h0M-0.4-7.6h0M-11.8 20.2h0M-13.5-15.1h0M22.1 16.5h0M-9.5 15.1h0M-6.1-15.0h0M8.4 12.9h0M3.7-3.0h0M1.3-15.0h0M1.8 22.9h0M-5.3 4.3h0M14.8 13.1h0M-0.1 11.9h0M8.5-6.4h0M-8.5 12.8h0M12.0 9.5h0M-19.3-12.7h0M-9.5-8.4h0M-12.8 7.6h0M-12.3-7.6h0M-12.9-1.5h0M-13.7-5.1h0M14.9 13.2h0M8.5 8.1h0M-5.1 10.5h0M9.9-7.4h0M-5.9-8.1h0M-13.8 13.9h0M-15.4 15.7h0M-20.8 14.9h0M13.9 3.9h0M-18.8-8.7h0M-6.7 13.5h0M9.8 7.9h0M-25.6 9.9h0M1.6 17.3h0M-15.2-5.0h0M14.4 8.8h0M-14.1 0.2h0M-3.4 3.1h0M11.0 3.4h0M8.6 4.1h0M-17.4 11.2h0M-5.1-16.1h0M-0.8 18.2h0M11.5 1.7h0M-23.0 1.7h0M10.7-1.5h0M0.7 2.8h0M20.4 15.9h0M-9.3-17.4h0M0.6-9.0h0M0.4 2.3h0M-23.5 12.7h0M-1.9-2.5h0M-10.8 21.9h0M-5.1-9.2h0M-11.0 11.4h0M-20.5-2.9h0M12.3 1.2h0M-19.9 1.7h0M-21.8-9.8h0M6.2 10.6h0M-17.6 12.5h0M11.1-3.0h0M-5.2 4.3h0M15.6 1.7h0M-6.9 15.0h0M5.6 10.8h0M12.1 5.0h0M-5.3 19.0h0M-3.8 4.9h0M20.1 15.1h0M7.1 7.0h0M-20.7-3.3h0M-20.1 2.0h0M0.9-9.4h0M8.1-1.9h0M12.5 9.2h0M4.9 0.1h0M8.4-10.4h0M-16.5 7.9h0M-2.4 4.8h0M9.2 10.5h0M11.7 15.6h0M-4.0-1.4h0M14.7-4.9h0M9.1 13.6h0M-19.7-1.6h0M-8.2-14.3h0M-0.2 20.7h0M14.0 7.0h0M-19.9 3.8h0M-9.1 12.8h0M12.2 2.0h0M11.7 14.4h0M-18.5 13.5h0M-15.3 3.0h0M-15.2-0.7h0M-8.8-1.6h0M16.4 6.1h0M11.1 16.1h0M3.8 17.8h0M21.1 14.5h0M6.1-8.2h0M-3.2 20.5h0M-1.8 14.4h0M-18.5-11.9h0M-15.6 16.0h0M-4.8 1.3h0M-6.8 7.3h0M-1.7-6.7h0M-3.3 0.1h0M-6.9 6.1h0M-3.1 22.7h0M-5.1 11.0h0M15.2-1.8h0M-8.9-4.4h0M-20.5-6.5h0M-23.5 5.3h0M-11.0 1.6h0M-13.0-15.4h0M5.3-7.3h0M-4.9-13.0h0M-1.5 10.7h0M-21.1-7.1h0M-17.0 1.5h0M6.6 9.7h0M13.2 2.5h0M9.6 0.2h0M-0.5 22.5h0M5.0-1.3h0M-11.0 17.3h0M-5.3-7.5h0M2.6 15.0h0M-18.8 15.8h0M-19.0 6.0h0M4.2-9.2h0M10.1 18.5h0M-0.1 19.6h0M-5.4-4.1h0M11.2-5.7h0M-10.7-2.3h0M0.8 20.7h0M-8.9-15.8h0M8.6 8.8h0M10.1 13.7h0M1.0-9.2h0M-11.6-1.8h0M-21.6-11.7h0M-12.5 19.5h0M18.2 3.1h0M12.3 8.2h0M-2.5 11.9h0M-13.0 3.1h0M-0.1-8.0h0M4.3-9.3h0M-2.3-0.8h0M-9.1-14.6h0M23.7 20.0h0M2.2-12.9h0M8.9 0.3h0M-0.8-3.4h0M9.9 17.9h0M-9.8-12.1h0M10.0 12.3h0M-4.7 18.6h0M-20.4-11.8h0M-23.0 5.4h0M6.9 19.7h0M-12.1-12.9h0M-4.3-6.2h0M1.7-15.0h0M-9.4-8.8h0M-3.3 5.8h0M-11.3-3.3h0M20.6 12.4h0M-12.6 16.9h0M-9.2 16.3h0M11.9-8.3h0M-10.4-7.7h0M10.2 10.6h0M-21.6 8.8h0M-0.1 17.7h0M-4.7-5.5h0M-14.3-5.7h0M-3.1 3.0h0M-9.6-17.5h0M21.1 13.0h0M2.9-12.6h0M-5.4 12.5h0M-13.0 1.7h0M-20.6 5.6h0M4.1-12.4h0M10.6 17.3h0M-20.5-2.4h0M16.5 4.0h0M-7.9-15.4h0M-7.8 3.7h0M1.2-2.7h0M9.5 18.7h0M13.4 1.9h0M4.2 6.8h0M-8.3 19.2h0M2.3 5.5h0M-10.6 10.5h0M14.7 13.1h0M6.5 1.6h0M-14.3-13.9h0M-6.2 10.5h0M-19.5-0.1h0M-11.1-0.9h0M14.7-5.3h0M4.3 21.0h0M7.7 0.5h0M3.9 10.1h0M-10.9-17.4h0M12.3 5.3h0M-15.4-1.4h0M-14.3-5.1h0M-15.6-12.4h0M-7.2 2.1h0M-11.9-11.4h0M-5.0 11.5h0M-5.5-9.8h0M-20.6 2.1h0M6.9 18.1h0M-15.3 12.6h0M4.8-7.5h0M12.0 6.8h0M7.8-5.2h0M7.1 15.6h0M-12.3-7.8h0M14.0 9.5h0M1.8 0.9h0M3.2-3.3h0M-0.9 20.4h0M0.8-15.4h0M-4.2-3.9h0M11.9 8.5h0M-3.1 3.6h0M-16.1 2.1h0M-12.6 8.2h0M8.8 15.4h0M-14.7-11.4h0M-20.3 11.2h0M-21.3 9.3h0M-24.4 6.1h0M-7.1-6.8h0M-5.8 18.6h0M9.2 7.9h0M-0.7 5.3h0M-5.4-12.3h0M14.4-0.8h0M-5.6 6.0h0M-13.9-0.1h0M-7.7-5.8h0M-10.3-1.2h0M-8.0 16.1h0M-8.2 22.0h0M2.3 19.0h0M-9.3-9.6h0M3.1 5.5h0M3.0-9.7h0M9.9-1.3h0M-13.5-0.9h0M-10.5-7.2h0M-10.9 12.0h0M20.8 15.2h0M-13.6 2.3h0M-13.5 16.9h0M-1.1 11.4h0M-1.8 19.1h0M5.6 9.2h0M10.3 17.3h0M-5.4-1.5h0M-7.0-13.4h0M1.9 14.0h0M-12.3 18.8h0M24.1 16.9h0M18.9 9.9h0M2.3 20.0h0M-4.3-0.3h0M10.7 9.3h0M-18.1-4.1h0M-1.9 16.9h0M-0.5 16.5h0M10.3 8.5h0M17.1-1.0h0M-11.7-16.0h0M-17.2 7.6h0M-0.8 11.5h0M-14.6-7.5h0M-13.6 14.7h0M-9.5-2.3h0M-8.4 17.8h0M17.9 8.6h0M-6.4 10.9h0M-1.2 11.0h0M-17.1 5.5h0M14.0 8.5h0M-3.9 19.1h0M3.4 13.4h0M-18.1 2.4h0M-7.2-12.2h0M10.5 1.3h0M-18.5 4.4h0M-3.7 7.7h0M14.1 9.3h0M17.6 9.7h0M9.6 15.3h0M-4.4-12.1h0M4.3 22.1h0M-9.9-2.2h0M-13.5-0.6h0M6.4 6.1h0M-15.5-0.9h0M-5.6-10.4h0M-23.6 4.7h0M1.9 12.8h0M18.0-0.2h0M8.6 11.7h0M-1.5-10.5h0M-2.7-2.7h0M-20.1 12.1h0M0.0 22.2h0M-0.8 19.4h0M1.5-0.7h0M14.4 6.1h0M8.9-8.0h0M-1.4 10.1h0M17.3 3.8h0M-13.5 18.7h0M-21.5-8.8h0M-4.3-9.3h0M-19.0-6.3h0M-14.1 0.6h0M14.4-3.9h0M-7.8 1.3h0M-1.0 4.9h0M-5.1 15.4h0M-5.9 12.5h0M17.2 3.8h0M-21.1-3.1h0M0.2 1.7h0M-13.5 18.9h0M2.5 15.0h0M18.7 11.4h0M-10.5-7.2h0M-2.5-11.4h0M-6.0-4.2h0M-14.8-14.2h0M-2.1 17.3h0M5.6 18.3h0M-3.2-11.2h0M6.3 14.3h0"/>
<path id="R_main30" d="M-22.1 4.2h0M14.3 0.7h0M-20.3-0.6h0M-15.2 5.7h0M-9.6-17.5h0M-15.9-9.1h0M-19.4 3.0h0M-19.5 0.1h0M-9.8-17.7h0M-20.1 1.6h0M3.9 0.7h0M-23.4 10.9h0M8.3 15.8h0M-10.0 12.2h0M4.8-3.3h0M6.7 9.0h0M-0.9 22.6h0M-12.2 7.5h0M-6.4 18.0h0M6.3 20.4h0M-21.0 8.2h0M3.0 1.9h0M0.3-8.6h0M-21.5-0.3h0M-21.3-13.5h0M-18.9 13.2h0M10.7 15.7h0M-20.0 2.0h0M-5.7 17.1h0M9.3 8.0h0M12.0 9.0h0M-16.7 16.4h0M-16.2-7.3h0M-18.4 13.3h0M1.1-8.9h0M3.2 21.5h0M-2.8-10.4h0M-4.3 2.0h0M10.8-4.7h0M-18.8 10.2h0M-20.8-10.1h0M-17.2 2.6h0M-20.0-12.4h0M-7.4-14.2h0M-13.3 5.8h0M1.2-5.4h0M17.0 10.5h0M-19.2-8.7h0M-0.6-9.5h0M-3.0-6.8h0M-0.2 15.0h0M-4.6 14.6h0M18.6 6.3h0M-3.4 10.4h0M11.8-3.3h0M-11.7 0.2h0M2.9-15.9h0M-7.4-10.1h0M11.6 9.2h0M-3.8 18.5h0M-3.0-6.5h0M-5.7-14.3h0M-0.3-7.0h0M5.8 10.7h0M-10.2-17.7h0M-5.4 12.5h0M10.6 9.3h0M-14.0-11.1h0M13.1 1.5h0M17.7 14.9h0M-11.6-9.7h0M6.4 2.2h0M10.3 8.4h0M-3.9 12.2h0M-6.7-16.5h0M20.4 14.7h0M-20.4 9.2h0M7.1 11.4h0M-4.5-3.1h0M-0.4 5.0h0M5.3-9.0h0M-2.3-10.6h0M18.5 15.3h0M7.2 20.8h0M14.7 5.0h0M4.0 14.0h0M-13.5 5.6h0M-4.4 14.2h0M-19.0 4.4h0M-18.4 0.7h0M22.2 15.3h0M-6.0-9.1h0M7.6-5.6h0M-0.7-5.6h0M-9.4 17.9h0M-0.5 7.3h0M-18.9-12.3h0M2.1 20.9h0M1.4 20.9h0M-7.7 16.8h0M11.2 17.1h0M8.6 17.6h0M-16.7 5.7h0M6.1 21.5h0M1.2-9.7h0M-3.4 14.2h0M-3.0 12.1h0M2.4 8.2h0M-7.2 6.0h0M3.9 10.3h0M-4.6 23.0h0M-12.2-7.4h0M8.0 4.8h0M-0.2-8.5h0M17.0 11.9h0M-5.8 5.3h0M-7.0 9.9h0M8.9-10.5h0M-2.7 9.8h0M-6.2 16.4h0M-15.7 4.2h0M-7.1 9.5h0M-21.6-11.9h0M-24.1 13.4h0M-3.9 14.8h0M2.6 10.4h0M18.9 10.3h0M-1.0 16.0h0M20.6 16.3h0M-0.5-1.6h0M12.3-4.4h0M16.3 0.8h0M-15.8-10.4h0M-11.0 9.1h0M2.0 21.3h0M8.6-9.2h0M-10.6-9.6h0M13.6 2.6h0M-24.5 4.6h0M-20.7-1.2h0M-19.9-11.2h0M-18.4-6.7h0M-1.3 18.1h0M-2.5 13.2h0M-18.7-12.8h0M-18.8 5.4h0M9.7 14.0h0M-17.2 0.7h0M-8.9 22.3h0M-7.5-8.0h0M-2.1-8.1h0M5.8 21.3h0M17.0 3.0h0M7.2 12.3h0M-13.8 6.4h0M-22.2 12.4h0M-9.2-12.2h0M11.2 6.6h0M-24.4 8.0h0M18.1 2.6h0M3.0 1.0h0M-16.1 9.0h0M-7.2 19.9h0M-7.1 18.3h0M-10.2 8.7h0M6.6-8.4h0M-8.2-11.3h0M-8.8-14.5h0M5.7 16.1h0M-7.5-3.8h0M-0.1 15.9h0M22.8 18.5h0M-0.9 20.3h0M0.3 8.6h0M-15.4 4.4h0M-21.0-4.4h0M-1.6-1.3h0M-2.1-0.1h0M-0.6 22.3h0M-17.1 0.8h0M-8.9-15.1h0M-5.0 7.7h0M22.3 15.1h0M6.6-5.7h0M-2.5-5.1h0M-14.3 18.6h0M-8.3-14.6h0M-13.1-5.5h0M-10.4-1.0h0M2.5-10.6h0M9.0 18.1h0M-12.9 0.3h0M2.8 20.4h0M-8.5-15.5h0M-4.5 15.1h0M13.9 1.3h0M-8.2 16.5h0M-14.2 5.7h0M18.6 15.5h0M-16.6-5.1h0M-23.3 11.2h0M5.2 5.2h0M-8.3-10.3h0M-17.1-13.3h0M11.1 1.1h0M3.6-12.2h0M9.0 11.2h0M2.2-8.5h0M-14.2 1.8h0M-16.9-6.1h0M-1.1 10.1h0M-4.3-7.6h0M11.9 1.4h0M-11.1 0.3h0M-0.2-7.9h0M10.4 16.5h0M-20.3-11.1h0M9.0 12.1h0M0.3-12.0h0M-15.1-6.7h0M-4.5-0.1h0M16.0 11.1h0M-13.1-5.7h0M-4.7-3.3h0M-15.2-4.8h0M-5.7 20.2h0M-10.3 11.1h0M-14.8-8.9h0M8.7 17.2h0M-0.9-16.6h0M1.9 16.4h0M-17.3 13.6h0M8.1-6.6h0M-14.9-8.4h0M-14.8 16.0h0M-7.1 1.8h0M-1.7-2.5h0M-24.4 4.6h0M-18.6-5.2h0M-2.9-11.8h0M2.3-4.0h0M-15.2 19.3h0M-17.8 15.1h0M-1.8-1.3h0M-0.4-7.6h0M4.9 16.3h0M22.1 16.5h0M1.2-8.8h0M-19.7 5.4h0M-18.6 7.1h0M-12.6 2.2h0M8.2 17.5h0M2.5 20.2h0M-20.6 2.4h0M13.4 2.3h0M3.6 22.8h0M-3.2-5.1h0M-1.8 3.0h0M8.4 12.9h0M-19.0 14.0h0M1.3-15.0h0M11.3-0.3h0M4.4-0.8h0M-3.8 19.6h0M12.3 1.9h0M8.0 2.8h0M-15.4 7.8h0M-24.3 7.1h0M-16.8 7.4h0M-5.0 18.2h0M-5.4 18.8h0M-7.8-12.1h0M-9.6-5.6h0M14.8 13.1h0M12.6 8.9h0M-0.1 11.9h0M8.5-6.4h0M0.3 8.6h0M17.3 0.3h0M13.9 6.2h0M12.0 9.5h0M-12.8 7.6h0M1.7 20.5h0M0.6-13.0h0M-12.3-7.6h0M1.9-2.7h0M-13.5 6.7h0M-19.0-13.6h0M20.8 16.0h0M-3.3-9.5h0M-21.2-1.9h0M9.5-1.3h0M-12.2-5.9h0M-21.8 12.0h0M6.1-10.1h0M-20.4 15.4h0M-19.0 6.1h0M-21.9 0.7h0M-21.8 5.6h0M-13.4-15.6h0M-10.3-5.6h0M-20.3 8.0h0M-13.8 13.9h0M-15.4 15.7h0M16.4 12.3h0M-20.8 14.9h0M-12.0-14.0h0M13.9 3.9h0M-18.4 8.6h0M-3.9-11.5h0M-5.1 4.3h0M-6.7 13.5h0M-25.6 9.9h0M10.5-5.0h0M-15.2-5.0h0M-5.2 9.1h0M15.0 1.9h0M-3.4 3.1h0M-5.9 17.1h0M8.6 4.1h0M22.6 15.7h0M-6.4 18.7h0M11.5 1.7h0M-12.4-15.8h0M5.3 7.0h0M1.1 20.2h0M-23.0 1.7h0M0.7 2.8h0M-9.3-17.4h0M-7.8-10.5h0M0.8-2.4h0M15.8 12.9h0M-5.5 16.6h0M-5.3-6.6h0M17.0 15.1h0M-1.9-2.5h0M-10.8 0.4h0M1.7 14.6h0M-17.7-11.3h0M-10.8 21.9h0M-0.5-9.9h0M-9.6-2.3h0M7.0 8.2h0M13.6-4.8h0M-11.0-0.8h0M14.4 9.6h0M-21.0 1.6h0M-1.2-11.7h0M6.2 10.6h0M-2.8 4.4h0M-19.7-3.3h0M10.7 12.6h0M-6.1 19.5h0M14.0-6.2h0M15.6 1.7h0M5.6 10.8h0M-6.0-3.7h0M12.1 5.0h0M-3.3-9.1h0M-12.4-15.5h0M20.1 15.1h0M-20.6 12.7h0M10.9 8.6h0M17.7 3.9h0M-15.7 11.9h0M-14.6 20.1h0M6.3 1.2h0M-10.2-8.2h0M11.0 5.5h0M-7.9-16.3h0M-21.6 14.9h0M7.2 2.9h0M-0.8 1.7h0M-2.3-2.9h0M-11.5 17.7h0M0.3 13.8h0M7.8 5.1h0M-22.1 0.2h0M7.6-6.9h0M2.1 2.6h0M-6.1 0.8h0M-10.7-14.6h0M0.1-5.5h0M-2.4 4.8h0M4.2 11.2h0M11.7 15.6h0M3.7 20.8h0M-8.1-12.3h0M-12.6-11.1h0M14.2 5.8h0M14.7-4.9h0M25.8 20.7h0M9.1 13.6h0M0.4-11.3h0M-4.4 20.4h0M-17.0-7.5h0M-19.7-1.6h0M15.2 10.7h0M-16.2 9.0h0M18.5 2.6h0M1.1 1.8h0M25.2 18.8h0M-0.2 20.7h0M13.4 7.8h0M-10.1-6.3h0M-0.3-4.4h0M-1.7-7.2h0M-17.3-11.8h0M-23.9 11.4h0M-18.5 13.5h0M-8.3-6.3h0M10.3 7.3h0M16.8 9.6h0M-15.2-0.7h0M-7.1-15.8h0M-14.2-9.0h0M-5.8 15.5h0M7.1 17.8h0M21.1 14.5h0M-20.5 3.0h0M-13.8-2.6h0M-13.0-4.6h0M22.5 14.8h0M-18.9 13.5h0M2.5-0.5h0M15.2 12.0h0M-20.3 2.1h0M-2.2 17.0h0M-19.2 9.8h0M-14.6 11.9h0M-10.8-2.5h0M-15.2 6.1h0M-21.2-10.4h0M-15.6-1.2h0M-6.5 16.5h0M-24.4 5.2h0M-8.3-1.3h0M9.4 0.1h0M-6.8 7.3h0M-1.7-6.7h0M-6.9 6.1h0M11.4 9.0h0M-4.7 17.0h0M8.2 20.1h0M-9.7 1.7h0M-6.7-14.6h0M-2.7 2.4h0M-7.6-5.0h0M-0.3-14.9h0M12.5 1.5h0M8.1-9.4h0M-18.5-7.4h0M-9.2-9.2h0M-21.4-9.9h0M17.2 13.5h0M-2.5 20.7h0M4.7 18.5h0M-4.4-3.0h0M-1.3 9.2h0M-13.0-15.4h0M2.4-10.0h0M-8.4-6.9h0M0.4 22.2h0M-4.9-13.0h0M-0.4 16.8h0M-1.5 10.7h0M5.4-4.2h0M12.0-6.5h0M-15.4 14.9h0M-19.5-8.7h0M-11.0 17.3h0M7.5 19.7h0M3.3 18.4h0M13.6-5.3h0M-2.5-7.3h0M2.6 15.0h0M-12.1-14.3h0M-5.9 18.4h0M-18.8 15.8h0M-8.8-3.3h0M-19.0 6.0h0M7.4 21.1h0M-4.0 3.0h0M-21.2-10.5h0M13.1-5.9h0M-0.8-9.0h0M9.5-5.9h0M-12.9-8.6h0M11.2-5.7h0M-21.9 1.1h0M2.7-3.1h0M-8.9-15.8h0M-18.6 1.3h0M8.6 8.8h0M10.1 13.7h0M-4.9 18.0h0M-12.6-4.9h0M-21.6-11.7h0M-4.0 18.1h0M-23.4 9.8h0M-19.4 6.3h0M-2.5 11.9h0M-13.0 3.1h0M-0.1-8.0h0M-0.4-14.9h0M19.5 14.3h0M8.1 19.7h0M-15.4 18.7h0M-20.7-0.8h0M-0.7-7.6h0M-19.5 3.7h0M2.2-12.9h0M10.3 1.3h0M-0.8-3.4h0M10.6 3.3h0M10.0 6.0h0M16.9 10.0h0M-5.0-9.5h0M-3.4 17.4h0M3.1 20.8h0M-20.6 0.2h0M10.9 0.2h0M-0.8-14.4h0M-20.4-11.8h0M-14.1 19.8h0M6.9 19.7h0M14.3 4.3h0M8.8 8.6h0M-12.1-12.9h0M-4.3-6.2h0M12.5 11.9h0M6.3-4.5h0M-3.3 5.8h0M-11.3-3.3h0M-9.1 17.1h0M-0.7-16.0h0M-18.8-9.7h0M-3.4-10.4h0M9.2-1.8h0M16.4 10.4h0M-17.1 5.9h0M6.1-1.6h0M-3.2 12.3h0M0.7-8.4h0M8.0 15.7h0M18.3 3.4h0M-11.5-1.6h0M-7.0-5.3h0M-14.5-13.9h0M-10.4-7.7h0M-1.4 3.1h0M-21.6 8.8h0M-4.7-5.5h0M-14.3-5.7h0M-8.4-10.5h0M6.5 17.9h0M-6.9 15.1h0M-6.7 4.8h0M21.1 13.0h0M2.4 21.9h0M-13.0 1.7h0M-2.3-11.1h0M-20.8-6.8h0M-5.3 12.8h0M17.5 3.6h0M-9.2-12.8h0M4.1-12.4h0M-2.4 1.6h0M-10.6 3.8h0M-0.4 15.3h0M14.8 11.1h0M3.8 21.7h0M-0.8-5.1h0M-5.4 3.7h0M-4.6-9.0h0M4.8-2.9h0M-15.7 8.2h0M16.0 4.6h0M25.8 19.0h0M7.7-3.2h0M-12.4 14.7h0M9.5 18.7h0M-4.4 11.2h0M-13.0-9.9h0M14.4 13.6h0M-22.6 3.4h0M13.5-0.1h0M-12.5-0.9h0M-6.4 3.9h0M10.9-8.1h0M-14.3 15.0h0M-17.9 12.8h0M2.3 5.5h0M-7.7 9.4h0M-4.7 15.9h0M-25.7 9.2h0M-19.1-6.4h0M-6.2 10.5h0M17.2 15.1h0M12.0-6.8h0M-11.1-0.9h0M14.7-5.3h0M-7.7 14.8h0M16.8-1.7h0M4.3 21.0h0M-10.3-1.6h0M-3.4 7.1h0M-9.7-0.2h0M-10.9-17.4h0M-15.4-1.4h0M-14.3-5.1h0M-4.5 17.1h0M-7.0 19.5h0M2.4-4.4h0M-2.2 4.8h0M1.7 20.8h0M-3.9 2.7h0M-2.6 6.8h0M-4.1-1.8h0M-0.5-10.1h0M12.1-7.7h0M-22.6-0.8h0M2.2 7.8h0M7.3-4.2h0M-7.7-7.5h0M-15.2 11.6h0M4.7-6.5h0M-20.0 9.6h0M-6.0 20.5h0M-0.4-12.4h0M4.4 20.2h0M0.5-8.0h0M4.8-7.5h0M-7.1 13.9h0M-9.4-6.2h0M-0.3-5.0h0M7.8-5.2h0M20.2 13.7h0M16.0 11.5h0M4.3-3.0h0M0.5-11.3h0M3.2-3.3h0M-21.2-8.4h0M11.9 8.5h0M-18.8-8.6h0M-4.5 12.4h0M-4.0 17.5h0M-12.6 8.2h0M8.8 15.4h0M-0.7 18.9h0M-10.7-9.6h0M5.4-13.4h0M9.5 7.6h0M-5.0-0.7h0M-16.8-11.2h0M-20.3 11.2h0M-24.4 6.1h0M-1.1 15.5h0M-7.1-6.8h0M16.8 9.0h0M-15.4-8.8h0M13.8 12.3h0M-4.9 4.2h0M-23.8 5.1h0M8.0 8.8h0M-9.1 12.5h0M-5.5 18.8h0M-5.6 6.0h0M9.7-0.5h0M-15.9-7.0h0M3.8 15.5h0M-8.8 22.2h0M-1.4 3.4h0M12.8 10.3h0M-20.0 6.5h0M-12.3-0.2h0M12.8-8.2h0M15.9 12.9h0M-1.8-14.6h0M16.4 8.6h0M-13.5-0.9h0M-17.9 8.6h0M-10.5-7.2h0M-14.5-1.4h0M-19.1-7.9h0M-1.8 19.1h0M10.1 18.1h0M4.5 7.0h0M8.1-1.4h0M-5.4-1.5h0M16.5 12.2h0M-11.6-16.1h0M-8.2 20.6h0M-5.6 13.9h0M9.6-9.1h0M-5.0-4.6h0M-14.0 19.7h0M4.0-4.9h0M-18.2 3.8h0M-9.0-6.4h0M-5.9-8.2h0M11.5 8.0h0M22.2 13.5h0M-13.2 20.5h0M6.6 19.0h0M-10.4 7.6h0M-0.9-2.9h0M15.4 14.0h0M-18.8-8.3h0M-23.0 12.8h0M21.1 11.2h0M-11.3-1.6h0M11.1 7.6h0M-18.1-4.1h0M-20.5 1.1h0M-8.2-3.1h0M14.6-5.1h0M-0.5 16.5h0M-20.2-8.5h0M-8.6 14.7h0M-24.1 4.9h0M15.5 10.0h0M-17.2 7.6h0M0.1-16.1h0M-15.3-9.2h0M16.0 11.6h0M-22.0 7.5h0M6.3 0.6h0M-3.6-8.7h0M-14.6-7.5h0M-13.6 14.7h0M-9.5-2.3h0M-8.4 17.8h0M-1.7-4.9h0M15.3 9.3h0M-22.4 10.3h0M5.1 4.1h0M-11.3 6.0h0M-3.9 19.1h0M-6.2 19.1h0M-0.2 9.7h0M-9.8-3.4h0M-16.3-10.7h0M22.4 17.6h0M-18.5 4.4h0M-5.5 0.2h0M-11.9 13.9h0M-21.7 2.4h0M-7.6 12.1h0M4.2-2.2h0M1.8-10.5h0M14.1 3.1h0M-0.2 14.7h0M-11.6-6.6h0M2.3-15.4h0M-5.3 19.0h0M11.5 8.3h0M-9.9-2.2h0M1.2 20.1h0M-16.7 4.0h0M-18.1-4.4h0M4.6-12.1h0M-9.2 4.9h0M-4.0 11.9h0M21.7 12.5h0M-11.0-13.3h0M6.4 6.1h0M3.1-0.2h0M-5.6-10.4h0M21.3 13.2h0M-3.7 14.4h0M-23.6 4.7h0M-23.2 9.0h0M8.6 11.7h0M-18.7 16.0h0M-5.2 11.0h0M4.0 11.6h0M-8.6 0.4h0M-17.5 8.1h0M12.1-5.4h0M-13.3-7.3h0M-0.8 19.4h0M-15.8 12.8h0M1.5-0.7h0M-13.9 0.5h0M-12.1-15.0h0M-8.4-13.5h0M10.7-6.0h0M-14.5 18.0h0M-16.5 3.6h0M-17.3 11.3h0M8.8-6.0h0M-0.8 13.1h0M-11.0-14.4h0M17.3 3.8h0M22.8 14.2h0M13.8 7.2h0M0.6 19.9h0M-21.5-8.8h0M16.5 11.4h0M24.3 16.0h0M-11.6 9.8h0M-21.9 2.4h0M-19.0-6.3h0M17.0 2.7h0M-10.6 13.5h0M-16.2 4.3h0M1.9 16.7h0M-2.0 11.8h0M-16.1 17.0h0M-21.7 2.1h0M-0.9-5.2h0M5.2 3.6h0M8.0 5.9h0M-10.0-13.7h0M-7.7 10.8h0M-9.5 1.8h0M19.4 15.6h0M13.2 11.3h0M7.2 15.1h0M0.2 1.7h0M-21.1 6.8h0M-13.5 18.9h0M-6.7 12.2h0M-10.5-7.2h0M8.2-1.9h0M-3.8 21.1h0M9.4 2.2h0M-19.4-6.5h0M-6.0-4.2h0M-23.8 12.6h0M-11.4 1.1h0M-0.5 21.0h0M-2.1 17.3h0M20.7 10.7h0M-12.5-11.4h0M8.9-3.4h0M7.0 11.0h0M5.6 18.3h0M-7.4-13.2h0M-10.9 6.8h0M-5.5 5.3h0M-6.8 17.3h0"/>
<path id="R_mac20" d="M15.3-28.5h0M9.4-32.7h0M12.1-26.2h0M12.5-27.4h0M8.0-28.6h0M15.1-27.5h0M12.3-26.6h0M13.6-27.1h0M3.3-32.4h0M15.0-22.3h0M11.2-27.6h0M13.6-25.9h0M12.2-28.2h0M12.5-22.5h0M12.0-22.9h0M11.4-25.1h0M11.4-24.8h0M14.7-31.8h0M15.8-32.4h0M7.3-29.3h0M15.2-26.0h0M15.1-26.2h0M5.4-29.3h0M12.4-28.8h0M9.0-33.5h0M6.9-30.7h0M6.5-32.6h0M13.2-22.6h0M13.1-26.0h0M5.7-31.9h0M6.3-31.7h0M12.3-28.2h0M11.2-32.8h0M13.4-24.9h0M10.2-30.5h0M11.4-32.4h0M10.7-27.7h0M8.4-28.2h0"/>
<path id="R_one" d="M3.9 0.4h0"/>
<path id="R_main05s" d="M-2.1-5.5h0M-6.1 18.4h0M11.7 7.9h0M1.4-12.0h0M3.0 1.9h0M-6.3-13.2h0M-10.1-17.4h0M10.8-4.7h0M16.2 12.8h0M-9.0 5.4h0M-15.8 7.3h0M-11.8-16.6h0M11.1 1.2h0M13.1 1.5h0M17.7 14.9h0M-14.3-12.2h0M-6.7 2.3h0M12.4-3.2h0M17.3 10.1h0M-2.1 12.2h0M-7.6 8.0h0M-11.3-1.4h0M-19.5-8.1h0M-2.7 9.8h0M-8.6 17.7h0M-6.1 9.5h0M12.3-5.7h0M-13.8 6.4h0M-12.0 7.5h0M-15.2 10.2h0M23.5 15.6h0M-2.1-0.1h0M-5.0 7.7h0M2.8 20.4h0M-15.3-4.1h0M-23.3 11.2h0M-18.8-0.3h0M-16.9-6.1h0M11.9 1.4h0M8.1-6.6h0M-17.4 12.8h0M-2.9-11.8h0M6.2-4.3h0M8.0 2.8h0M5.7 12.2h0M-12.0-14.0h0M13.9 3.9h0M-18.8-8.7h0M-6.7 13.5h0M1.6 17.3h0M-15.7 7.4h0M5.2 16.8h0M-1.2 15.7h0M-13.4 19.8h0M14.6 13.9h0M-0.5 16.4h0M20.1 15.1h0M-10.8-9.1h0M-2.4-17.1h0M-21.4-12.4h0M-20.7-3.3h0M14.3 12.7h0M-2.8 17.9h0M14.7-4.9h0M0.4-11.3h0M-8.2-14.3h0M12.4 13.6h0M-17.3-11.8h0M-15.2-0.7h0"/>
<path id="R_main20s" d="M-6.5 20.9h0M-13.5-5.4h0M-9.6-17.5h0M-23.3 4.4h0M17.5 14.5h0M11.7 7.9h0M-19.5 0.1h0M-3.8-8.2h0M-7.4-6.4h0M-12.7 3.3h0M-20.1 1.6h0M7.9-0.7h0M6.3 20.4h0M3.0 1.9h0M-1.8 4.3h0M10.7 15.7h0M8.6 0.9h0M-6.3-13.2h0M-2.4 18.8h0M-12.1 16.7h0M-24.6 12.6h0M-5.7 17.1h0M14.7 11.5h0M-10.1-17.4h0M-16.7 16.4h0M-24.8 4.7h0M-2.7-0.1h0M6.6-10.9h0M3.2 21.5h0M18.3 8.4h0M-21.9 4.7h0M11.2 2.4h0M17.0 10.5h0M13.3-0.8h0M-2.5 2.7h0M-3.8 6.6h0M-0.2 15.0h0M13.2 6.2h0M2.9-15.9h0M4.2 19.4h0M-12.2 16.5h0M17.3 10.8h0M-7.6 15.0h0M-10.9 20.5h0M-4.0 12.7h0M-22.8 14.2h0M-10.2-17.7h0M-14.0-11.1h0M13.1 1.5h0M17.7 14.9h0M-11.6-9.7h0M9.5-2.4h0M-20.7 6.5h0M-14.3-12.2h0M3.8 8.0h0M-3.9 12.2h0M-17.9 1.5h0M-6.7-16.5h0M20.4 14.7h0M-12.0 12.7h0M-16.5 10.1h0M-20.4 9.2h0M7.1 11.4h0M-21.4-0.8h0M-9.1 7.0h0M13.2 7.7h0M-0.0-16.5h0M-11.3-1.4h0M-0.5 7.3h0M-18.9-12.3h0M-25.3 10.6h0M-17.8 3.7h0M-21.4 5.4h0M13.7-5.1h0M-12.5-15.0h0M13.7 9.5h0M-12.2-7.4h0M21.3 15.9h0M7.1 4.5h0M6.2-6.9h0M-7.0 9.9h0M-6.2 16.4h0M-11.1-10.8h0M-3.9 14.8h0M-22.7-0.0h0M12.3-4.4h0M16.3 0.8h0M5.4-10.4h0M-6.3 2.1h0M4.0 1.6h0M2.0 21.3h0M-20.8 16.4h0M-9.9-0.5h0M-24.5 6.0h0M-6.5 9.5h0M3.2 22.8h0M-19.6 3.5h0M-22.4 5.0h0M0.8-10.9h0M-15.9 8.3h0M-1.3-7.6h0M8.2 9.3h0M-21.2 14.3h0M9.4 14.7h0M16.5 14.6h0M-13.8 6.4h0M2.6-12.1h0M-3.7 12.3h0M6.0-1.1h0M-16.7 18.0h0M6.6-8.4h0M-8.2-11.3h0M5.7 16.1h0M-7.5-3.8h0M-0.1 15.9h0M-19.4-9.1h0M0.4-0.4h0M16.6 2.9h0M6.4-13.2h0M-12.9 19.6h0M17.3 13.9h0M-14.2-9.4h0M-12.5 11.1h0M-16.7-8.9h0M5.5 4.5h0M14.4 2.6h0M10.9 15.1h0M-12.1-12.8h0M-2.1-0.1h0M6.6-5.7h0M-19.5 14.6h0M-13.3-0.9h0M-14.3 18.6h0M-13.6 18.3h0M-14.1 18.4h0M1.2-1.9h0M-12.8-0.8h0M18.6 5.5h0M12.9-2.6h0M2.9 9.5h0M-1.1 5.3h0M-19.8-7.9h0M-8.2 16.5h0M4.1-4.0h0M19.2 12.7h0M-16.6-5.1h0M-1.1 10.1h0M-13.4-11.0h0M-15.0-1.0h0M-17.4 10.8h0M9.0 12.1h0M-20.7 7.3h0M-16.3 6.1h0M-2.4 6.4h0M-0.2-9.3h0M-5.7-9.5h0M-0.9-16.6h0M-11.2 13.8h0M1.9 16.4h0M-13.4-7.3h0M-14.8 16.0h0M-11.4 21.0h0M-2.9-11.8h0M16.7 14.6h0M-1.8-1.3h0M-0.4-7.6h0M-11.8 20.2h0M-13.5-15.1h0M22.1 16.5h0M-9.5 15.1h0M-6.1-15.0h0M8.4 12.9h0M3.7-3.0h0M1.3-15.0h0M1.8 22.9h0M-5.3 4.3h0M14.8 13.1h0M-0.1 11.9h0M8.5-6.4h0M-8.5 12.8h0M12.0 9.5h0M-19.3-12.7h0M-9.5-8.4h0M-12.8 7.6h0M-12.3-7.6h0M-12.9-1.5h0M-13.7-5.1h0M14.9 13.2h0M8.5 8.1h0M-5.1 10.5h0M9.9-7.4h0M-5.9-8.1h0M-13.8 13.9h0M-15.4 15.7h0M-20.8 14.9h0M13.9 3.9h0M-18.8-8.7h0M-6.7 13.5h0M9.8 7.9h0M-25.6 9.9h0M1.6 17.3h0M-15.2-5.0h0M14.4 8.8h0M-14.1 0.2h0M-3.4 3.1h0M11.0 3.4h0M8.6 4.1h0M-17.4 11.2h0M-5.1-16.1h0M-0.8 18.2h0M11.5 1.7h0M-23.0 1.7h0M10.7-1.5h0M0.7 2.8h0M20.4 15.9h0M-9.3-17.4h0M0.6-9.0h0M0.4 2.3h0M-23.5 12.7h0M-1.9-2.5h0M-10.8 21.9h0M-5.1-9.2h0M-11.0 11.4h0M-20.5-2.9h0M12.3 1.2h0M-19.9 1.7h0M-21.8-9.8h0M6.2 10.6h0M-17.6 12.5h0M11.1-3.0h0M-5.2 4.3h0M15.6 1.7h0M-6.9 15.0h0M5.6 10.8h0M12.1 5.0h0M-5.3 19.0h0M-3.8 4.9h0M20.1 15.1h0M7.1 7.0h0M-20.7-3.3h0M-20.1 2.0h0M0.9-9.4h0M8.1-1.9h0M12.5 9.2h0M4.9 0.1h0M8.4-10.4h0M-16.5 7.9h0M-2.4 4.8h0M9.2 10.5h0M11.7 15.6h0M-4.0-1.4h0M14.7-4.9h0M9.1 13.6h0M-19.7-1.6h0M-8.2-14.3h0M-0.2 20.7h0M14.0 7.0h0M-19.9 3.8h0M-9.1 12.8h0M12.2 2.0h0M11.7 14.4h0M-18.5 13.5h0M-15.3 3.0h0M-15.2-0.7h0M-8.8-1.6h0"/>
<path id="R_mac40s" d="M14.3-27.4h0M15.3-28.5h0M4.7-29.9h0M9.4-32.7h0M13.1-27.5h0M12.1-26.2h0M11.8-28.6h0M14.6-21.5h0M16.5-24.2h0M12.5-27.4h0M8.0-28.6h0M10.3-33.0h0M13.1-25.2h0M8.7-33.8h0M14.2-28.1h0M10.6-32.4h0M10.3-27.0h0M14.8-27.3h0M7.7-28.1h0M14.2-27.3h0M11.8-30.3h0M13.3-26.7h0M15.0-22.3h0M9.6-28.9h0M8.3-31.5h0M18.2-29.0h0M10.3-27.1h0M11.1-32.9h0M9.5-25.1h0M10.6-26.2h0M14.7-26.8h0M10.8-32.3h0M9.5-28.9h0M10.8-31.4h0M12.7-28.6h0M12.2-28.2h0M12.5-22.5h0M16.8-31.3h0M11.4-25.1h0M13.5-27.6h0M11.4-24.8h0M6.0-29.8h0M14.4-21.9h0M17.1-25.8h0M13.0-25.1h0M7.3-29.3h0M15.2-26.0h0M14.2-24.7h0M14.3-26.9h0M10.4-33.2h0M17.8-29.4h0M12.2-33.0h0M5.4-29.3h0M8.4-32.6h0M10.9-25.9h0M9.0-33.5h0"/>
<path id="R_maclows" d="M4.7-29.9h0M9.3-33.3h0M9.4-32.7h0M8.0-31.7h0M6.6-31.3h0M7.1-30.8h0M10.3-33.0h0M7.4-31.6h0M8.7-33.8h0M6.4-32.4h0M10.6-32.4h0M11.8-30.3h0M10.6-33.1h0M11.8-31.2h0M7.7-33.6h0M8.3-31.5h0M5.3-33.9h0M11.1-32.9h0M3.3-32.0h0M6.0-31.9h0M10.8-32.3h0M9.1-33.4h0M10.8-31.4h0M9.3-32.4h0M14.0-31.1h0M6.0-29.8h0M11.7-30.4h0M10.6-31.0h0M10.4-33.2h0M12.2-33.0h0M8.4-32.6h0M9.0-33.5h0"/>
<path id="R_erys" d="M40.1 2.2h0M39.6 1.6h0M39.9 2.4h0M39.8 1.3h0M39.7 1.7h0M39.6 1.4h0M38.3 1.8h0M40.4 1.5h0M41.4 2.6h0M39.4 2.6h0M38.2 0.3h0M41.5 3.6h0M41.2 2.6h0M38.5 1.2h0M40.1 2.8h0M39.7 0.9h0M39.8 2.0h0M38.7 1.8h0M38.5 2.1h0M36.9 1.0h0M37.7 1.4h0M40.5 1.9h0M40.4 3.7h0M41.3 2.9h0M36.4 0.1h0M40.4 3.4h0M39.8 2.1h0M37.8 0.1h0M39.6 1.2h0M40.4 3.8h0"/>
<path id="R_macmids" d="M11.3-26.0h0M14.3-27.4h0M15.3-28.5h0M4.7-29.9h0M9.4-32.7h0M13.1-27.5h0M13.2-26.6h0M12.1-26.2h0M11.8-28.6h0M11.7-26.0h0M8.0-31.7h0M7.1-30.8h0M12.5-27.4h0M10.3-33.0h0M9.6-26.8h0M15.1-27.5h0M8.7-33.8h0M13.8-29.2h0M14.2-28.1h0M12.3-26.6h0M6.4-32.4h0M10.6-32.4h0M15.8-29.4h0M12.8-27.4h0M14.8-27.3h0M7.7-28.1h0M11.8-30.3h0M3.3-32.4h0M10.6-33.1h0M11.8-31.2h0M7.7-33.6h0M18.2-29.0h0M5.3-33.9h0M10.3-27.1h0M3.3-32.0h0M13.8-26.8h0M10.6-26.2h0M14.7-26.8h0M9.5-28.9h0M15.0-27.4h0M9.3-26.5h0M14.9-29.4h0M12.2-28.2h0M8.0-26.1h0M9.3-32.4h0M15.6-31.5h0M13.5-27.6h0M14.0-31.1h0M15.8-32.4h0M13.4-28.7h0M10.7-31.3h0M11.7-30.4h0M8.3-26.5h0M15.1-26.2h0M13.7-29.0h0M14.3-26.9h0M8.3-28.0h0M10.4-33.2h0M17.8-29.4h0M12.2-33.0h0M14.1-28.6h0M5.4-29.3h0M12.4-28.8h0"/></defs>
<rect x="0" y="0" width="520" height="372" fill="#fff"/>
<use href="#PM" transform="matrix(1.0575 0 0 -1.5100 83.80 49.70)" stroke="#6a99cb" stroke-width="1.60"/>
<use href="#PC" transform="matrix(1.0575 0 0 -1.5100 83.80 49.70)" stroke="#e08a34" stroke-width="1.50"/>
<path d="M121.4 49.9L122.8 48.6L124.2 47.2L125.3 46.2L125.9 45.2L126.2 44.3L126.9 43.7L127.8 43.6L128.4 44.1L128 44.9L127.5 45.6L127.4 46.6L126.7 47.8L125.5 48.7L124 49.3L122.6 49.8L121.7 50.2Z" fill="#b42222" stroke="#b42222" stroke-width="0.35"/>
<path d="M131 11.7H52.6V104.1H131" fill="none" stroke="#1a1a1a" stroke-width="1.2" stroke-linejoin="round"/>
<line x1="131" y1="11.1" x2="131" y2="104.7" stroke="#1a1a1a" stroke-width="1.4"/>
<line x1="49.00" y1="20.10" x2="52.60" y2="20.10" stroke="#222" stroke-width="1.00"/>
<line x1="49.00" y1="50.30" x2="52.60" y2="50.30" stroke="#222" stroke-width="1.00"/>
<line x1="49.00" y1="80.50" x2="52.60" y2="80.50" stroke="#222" stroke-width="1.00"/>
<line x1="62.65" y1="104.00" x2="62.65" y2="107.70" stroke="#222" stroke-width="1.00"/>
<line x1="83.80" y1="104.00" x2="83.80" y2="107.70" stroke="#222" stroke-width="1.00"/>
<line x1="104.95" y1="104.00" x2="104.95" y2="107.70" stroke="#222" stroke-width="1.00"/>
<line x1="126.10" y1="104.00" x2="126.10" y2="107.70" stroke="#222" stroke-width="1.00"/>
<use href="#PAs" transform="matrix(0.6325 0 0 -0.7700 43.60 148.70)" stroke="#bfbaba" stroke-width="0.62"/>
<use href="#R_main20s" transform="matrix(0.6325 0 0 -0.7700 43.60 148.70)" stroke="#c99e93" stroke-width="0.62"/>
<use href="#R_mac40s" transform="matrix(0.6325 0 0 -0.7700 43.60 148.70)" stroke="#c99e93" stroke-width="0.62"/>
<line x1="25.20" y1="129.00" x2="25.20" y2="177.50" stroke="#1a1a1a" stroke-width="1.10"/>
<line x1="24.70" y1="177.00" x2="71.80" y2="177.00" stroke="#1a1a1a" stroke-width="1.10"/>
<line x1="21.90" y1="133.30" x2="25.20" y2="133.30" stroke="#1a1a1a" stroke-width="0.90"/>
<line x1="21.90" y1="148.70" x2="25.20" y2="148.70" stroke="#1a1a1a" stroke-width="0.90"/>
<line x1="21.90" y1="164.10" x2="25.20" y2="164.10" stroke="#1a1a1a" stroke-width="0.90"/>
<line x1="30.95" y1="177.00" x2="30.95" y2="179.60" stroke="#1a1a1a" stroke-width="0.90"/>
<line x1="43.60" y1="177.00" x2="43.60" y2="179.60" stroke="#1a1a1a" stroke-width="0.90"/>
<line x1="56.25" y1="177.00" x2="56.25" y2="179.60" stroke="#1a1a1a" stroke-width="0.90"/>
<line x1="68.90" y1="177.00" x2="68.90" y2="179.60" stroke="#1a1a1a" stroke-width="0.90"/>
<rect x="70.1" y="148.4" width="2.6" height="10.3" rx="0.8" fill="url(#gradA)"/>
<rect x="74.0" y="146.4" width="3.6" height="13.4" fill="none" stroke="#c8c8c8" stroke-width="0.5"/>
<use href="#PAs" transform="matrix(0.6325 0 0 -0.7700 117.70 148.70)" stroke="#bfbaba" stroke-width="0.62"/>
<use href="#R_main20s" transform="matrix(0.6325 0 0 -0.7700 117.70 148.70)" stroke="#c99e93" stroke-width="0.62"/>
<line x1="99.30" y1="129.00" x2="99.30" y2="177.50" stroke="#1a1a1a" stroke-width="1.10"/>
<line x1="98.80" y1="177.00" x2="145.90" y2="177.00" stroke="#1a1a1a" stroke-width="1.10"/>
<line x1="96.00" y1="133.30" x2="99.30" y2="133.30" stroke="#1a1a1a" stroke-width="0.90"/>
<line x1="96.00" y1="148.70" x2="99.30" y2="148.70" stroke="#1a1a1a" stroke-width="0.90"/>
<line x1="96.00" y1="164.10" x2="99.30" y2="164.10" stroke="#1a1a1a" stroke-width="0.90"/>
<line x1="105.05" y1="177.00" x2="105.05" y2="179.60" stroke="#1a1a1a" stroke-width="0.90"/>
<line x1="117.70" y1="177.00" x2="117.70" y2="179.60" stroke="#1a1a1a" stroke-width="0.90"/>
<line x1="130.35" y1="177.00" x2="130.35" y2="179.60" stroke="#1a1a1a" stroke-width="0.90"/>
<line x1="143.00" y1="177.00" x2="143.00" y2="179.60" stroke="#1a1a1a" stroke-width="0.90"/>
<rect x="144.2" y="148.4" width="2.6" height="10.3" rx="0.8" fill="url(#gradA)"/>
<rect x="148.1" y="146.4" width="3.6" height="13.4" fill="none" stroke="#c8c8c8" stroke-width="0.5"/>
<use href="#PAs" transform="matrix(0.6325 0 0 -0.7700 43.60 233.00)" stroke="#bfbaba" stroke-width="0.62"/>
<use href="#R_main05s" transform="matrix(0.6325 0 0 -0.7700 43.60 233.00)" stroke="#c99e93" stroke-width="0.62"/>
<line x1="25.20" y1="213.30" x2="25.20" y2="261.80" stroke="#1a1a1a" stroke-width="1.10"/>
<line x1="24.70" y1="261.30" x2="71.80" y2="261.30" stroke="#1a1a1a" stroke-width="1.10"/>
<line x1="21.90" y1="217.60" x2="25.20" y2="217.60" stroke="#1a1a1a" stroke-width="0.90"/>
<line x1="21.90" y1="233.00" x2="25.20" y2="233.00" stroke="#1a1a1a" stroke-width="0.90"/>
<line x1="21.90" y1="248.40" x2="25.20" y2="248.40" stroke="#1a1a1a" stroke-width="0.90"/>
<line x1="30.95" y1="261.30" x2="30.95" y2="263.90" stroke="#1a1a1a" stroke-width="0.90"/>
<line x1="43.60" y1="261.30" x2="43.60" y2="263.90" stroke="#1a1a1a" stroke-width="0.90"/>
<line x1="56.25" y1="261.30" x2="56.25" y2="263.90" stroke="#1a1a1a" stroke-width="0.90"/>
<line x1="68.90" y1="261.30" x2="68.90" y2="263.90" stroke="#1a1a1a" stroke-width="0.90"/>
<rect x="70.1" y="232.7" width="2.6" height="10.3" rx="0.8" fill="url(#gradA)"/>
<rect x="74.0" y="230.7" width="3.6" height="13.4" fill="none" stroke="#c8c8c8" stroke-width="0.5"/>
<use href="#PAs" transform="matrix(0.6325 0 0 -0.7700 117.70 233.00)" stroke="#bdbdbd" stroke-width="0.62"/>
<use href="#R_erys" transform="matrix(0.6325 0 0 -0.7700 117.70 233.00)" stroke="#9a3a2a" stroke-width="0.62"/>
<line x1="99.30" y1="213.30" x2="99.30" y2="261.80" stroke="#1a1a1a" stroke-width="1.10"/>
<line x1="98.80" y1="261.30" x2="145.90" y2="261.30" stroke="#1a1a1a" stroke-width="1.10"/>
<line x1="96.00" y1="217.60" x2="99.30" y2="217.60" stroke="#1a1a1a" stroke-width="0.90"/>
<line x1="96.00" y1="233.00" x2="99.30" y2="233.00" stroke="#1a1a1a" stroke-width="0.90"/>
<line x1="96.00" y1="248.40" x2="99.30" y2="248.40" stroke="#1a1a1a" stroke-width="0.90"/>
<line x1="105.05" y1="261.30" x2="105.05" y2="263.90" stroke="#1a1a1a" stroke-width="0.90"/>
<line x1="117.70" y1="261.30" x2="117.70" y2="263.90" stroke="#1a1a1a" stroke-width="0.90"/>
<line x1="130.35" y1="261.30" x2="130.35" y2="263.90" stroke="#1a1a1a" stroke-width="0.90"/>
<line x1="143.00" y1="261.30" x2="143.00" y2="263.90" stroke="#1a1a1a" stroke-width="0.90"/>
<rect x="144.2" y="232.7" width="2.6" height="10.3" rx="0.8" fill="url(#gradA)"/>
<rect x="148.1" y="230.7" width="3.6" height="13.4" fill="none" stroke="#c8c8c8" stroke-width="0.5"/>
<use href="#PAs" transform="matrix(0.6325 0 0 -0.7700 43.60 317.30)" stroke="#bdbdbd" stroke-width="0.62"/>
<use href="#R_maclows" transform="matrix(0.6325 0 0 -0.7700 43.60 317.30)" stroke="#b47a6c" stroke-width="0.62"/>
<line x1="25.20" y1="297.60" x2="25.20" y2="346.10" stroke="#1a1a1a" stroke-width="1.10"/>
<line x1="24.70" y1="345.60" x2="71.80" y2="345.60" stroke="#1a1a1a" stroke-width="1.10"/>
<line x1="21.90" y1="301.90" x2="25.20" y2="301.90" stroke="#1a1a1a" stroke-width="0.90"/>
<line x1="21.90" y1="317.30" x2="25.20" y2="317.30" stroke="#1a1a1a" stroke-width="0.90"/>
<line x1="21.90" y1="332.70" x2="25.20" y2="332.70" stroke="#1a1a1a" stroke-width="0.90"/>
<line x1="30.95" y1="345.60" x2="30.95" y2="348.20" stroke="#1a1a1a" stroke-width="0.90"/>
<line x1="43.60" y1="345.60" x2="43.60" y2="348.20" stroke="#1a1a1a" stroke-width="0.90"/>
<line x1="56.25" y1="345.60" x2="56.25" y2="348.20" stroke="#1a1a1a" stroke-width="0.90"/>
<line x1="68.90" y1="345.60" x2="68.90" y2="348.20" stroke="#1a1a1a" stroke-width="0.90"/>
<rect x="70.1" y="317.0" width="2.6" height="10.3" rx="0.8" fill="url(#gradA)"/>
<rect x="74.0" y="315.0" width="3.6" height="13.4" fill="none" stroke="#c8c8c8" stroke-width="0.5"/>
<use href="#PAs" transform="matrix(0.6325 0 0 -0.7700 117.70 317.30)" stroke="#bdbdbd" stroke-width="0.62"/>
<use href="#R_macmids" transform="matrix(0.6325 0 0 -0.7700 117.70 317.30)" stroke="#b47a6c" stroke-width="0.62"/>
<use href="#R_erys" transform="matrix(0.6325 0 0 -0.7700 117.70 317.30)" stroke="#c99e93" stroke-width="0.62"/>
<line x1="99.30" y1="297.60" x2="99.30" y2="346.10" stroke="#1a1a1a" stroke-width="1.10"/>
<line x1="98.80" y1="345.60" x2="145.90" y2="345.60" stroke="#1a1a1a" stroke-width="1.10"/>
<line x1="96.00" y1="301.90" x2="99.30" y2="301.90" stroke="#1a1a1a" stroke-width="0.90"/>
<line x1="96.00" y1="317.30" x2="99.30" y2="317.30" stroke="#1a1a1a" stroke-width="0.90"/>
<line x1="96.00" y1="332.70" x2="99.30" y2="332.70" stroke="#1a1a1a" stroke-width="0.90"/>
<line x1="105.05" y1="345.60" x2="105.05" y2="348.20" stroke="#1a1a1a" stroke-width="0.90"/>
<line x1="117.70" y1="345.60" x2="117.70" y2="348.20" stroke="#1a1a1a" stroke-width="0.90"/>
<line x1="130.35" y1="345.60" x2="130.35" y2="348.20" stroke="#1a1a1a" stroke-width="0.90"/>
<line x1="143.00" y1="345.60" x2="143.00" y2="348.20" stroke="#1a1a1a" stroke-width="0.90"/>
<rect x="144.2" y="317.0" width="2.6" height="10.3" rx="0.8" fill="url(#gradA)"/>
<rect x="148.1" y="315.0" width="3.6" height="13.4" fill="none" stroke="#c8c8c8" stroke-width="0.5"/>
<use href="#PA" transform="matrix(0.6740 0 0 -1.0730 200.30 54.00)" stroke="#b4b4b4" stroke-width="0.78"/>
<use href="#R_main10" transform="matrix(0.6740 0 0 -1.0730 200.30 54.00)" stroke="#c08a7c" stroke-width="0.78"/>
<use href="#R_main05" transform="matrix(0.6740 0 0 -1.0730 200.30 54.00)" stroke="#ad6a5a" stroke-width="0.78"/>
<line x1="180.40" y1="26.00" x2="180.40" y2="93.10" stroke="#1a1a1a" stroke-width="1.10"/>
<line x1="179.90" y1="92.60" x2="230.40" y2="92.60" stroke="#1a1a1a" stroke-width="1.10"/>
<line x1="177.10" y1="32.54" x2="180.40" y2="32.54" stroke="#1a1a1a" stroke-width="0.90"/>
<line x1="177.10" y1="54.00" x2="180.40" y2="54.00" stroke="#1a1a1a" stroke-width="0.90"/>
<line x1="177.10" y1="75.46" x2="180.40" y2="75.46" stroke="#1a1a1a" stroke-width="0.90"/>
<line x1="186.70" y1="92.60" x2="186.70" y2="95.20" stroke="#1a1a1a" stroke-width="0.90"/>
<line x1="200.30" y1="92.60" x2="200.30" y2="95.20" stroke="#1a1a1a" stroke-width="0.90"/>
<line x1="213.90" y1="92.60" x2="213.90" y2="95.20" stroke="#1a1a1a" stroke-width="0.90"/>
<line x1="227.50" y1="92.60" x2="227.50" y2="95.20" stroke="#1a1a1a" stroke-width="0.90"/>
<rect x="233.0" y="50.8" width="4.3" height="21.7" fill="url(#grad)"/>
<use href="#PA" transform="matrix(0.7100 0 0 -1.0730 287.60 54.00)" stroke="#b4b4b4" stroke-width="0.78"/>
<use href="#R_main30" transform="matrix(0.7100 0 0 -1.0730 287.60 54.00)" stroke="#cc9f93" stroke-width="0.78"/>
<use href="#R_main10" transform="matrix(0.7100 0 0 -1.0730 287.60 54.00)" stroke="#c08a7c" stroke-width="0.78"/>
<use href="#R_main05" transform="matrix(0.7100 0 0 -1.0730 287.60 54.00)" stroke="#ad6a5a" stroke-width="0.78"/>
<line x1="266.80" y1="26.00" x2="266.80" y2="93.10" stroke="#1a1a1a" stroke-width="1.10"/>
<line x1="266.30" y1="92.60" x2="316.80" y2="92.60" stroke="#1a1a1a" stroke-width="1.10"/>
<line x1="263.50" y1="32.54" x2="266.80" y2="32.54" stroke="#1a1a1a" stroke-width="0.90"/>
<line x1="263.50" y1="54.00" x2="266.80" y2="54.00" stroke="#1a1a1a" stroke-width="0.90"/>
<line x1="263.50" y1="75.46" x2="266.80" y2="75.46" stroke="#1a1a1a" stroke-width="0.90"/>
<line x1="273.10" y1="92.60" x2="273.10" y2="95.20" stroke="#1a1a1a" stroke-width="0.90"/>
<line x1="286.70" y1="92.60" x2="286.70" y2="95.20" stroke="#1a1a1a" stroke-width="0.90"/>
<line x1="300.30" y1="92.60" x2="300.30" y2="95.20" stroke="#1a1a1a" stroke-width="0.90"/>
<line x1="313.90" y1="92.60" x2="313.90" y2="95.20" stroke="#1a1a1a" stroke-width="0.90"/>
<rect x="321.6" y="50.8" width="4.3" height="21.7" fill="url(#grad)"/>
<use href="#PA" transform="matrix(0.6270 0 0 -1.0730 374.60 54.00)" stroke="#b4b4b4" stroke-width="0.78"/>
<use href="#R_main10" transform="matrix(0.6270 0 0 -1.0730 374.60 54.00)" stroke="#c08a7c" stroke-width="0.78"/>
<use href="#R_main05" transform="matrix(0.6270 0 0 -1.0730 374.60 54.00)" stroke="#ad6a5a" stroke-width="0.78"/>
<line x1="355.90" y1="26.00" x2="355.90" y2="93.10" stroke="#1a1a1a" stroke-width="1.10"/>
<line x1="355.40" y1="92.60" x2="405.90" y2="92.60" stroke="#1a1a1a" stroke-width="1.10"/>
<line x1="352.60" y1="32.54" x2="355.90" y2="32.54" stroke="#1a1a1a" stroke-width="0.90"/>
<line x1="352.60" y1="54.00" x2="355.90" y2="54.00" stroke="#1a1a1a" stroke-width="0.90"/>
<line x1="352.60" y1="75.46" x2="355.90" y2="75.46" stroke="#1a1a1a" stroke-width="0.90"/>
<line x1="362.20" y1="92.60" x2="362.20" y2="95.20" stroke="#1a1a1a" stroke-width="0.90"/>
<line x1="375.80" y1="92.60" x2="375.80" y2="95.20" stroke="#1a1a1a" stroke-width="0.90"/>
<line x1="389.40" y1="92.60" x2="389.40" y2="95.20" stroke="#1a1a1a" stroke-width="0.90"/>
<line x1="403.00" y1="92.60" x2="403.00" y2="95.20" stroke="#1a1a1a" stroke-width="0.90"/>
<rect x="405.9" y="50.8" width="4.3" height="21.7" fill="url(#grad)"/>
<use href="#PA" transform="matrix(0.7040 0 0 -1.0730 464.60 54.00)" stroke="#b4b4b4" stroke-width="0.78"/>
<use href="#R_main10" transform="matrix(0.7040 0 0 -1.0730 464.60 54.00)" stroke="#c08a7c" stroke-width="0.78"/>
<use href="#R_main05" transform="matrix(0.7040 0 0 -1.0730 464.60 54.00)" stroke="#ad6a5a" stroke-width="0.78"/>
<use href="#R_mac20" transform="matrix(0.7040 0 0 -1.0730 464.60 54.00)" stroke="#c08a7c" stroke-width="0.78"/>
<line x1="444.00" y1="26.00" x2="444.00" y2="93.10" stroke="#1a1a1a" stroke-width="1.10"/>
<line x1="443.50" y1="92.60" x2="494.00" y2="92.60" stroke="#1a1a1a" stroke-width="1.10"/>
<line x1="440.70" y1="32.54" x2="444.00" y2="32.54" stroke="#1a1a1a" stroke-width="0.90"/>
<line x1="440.70" y1="54.00" x2="444.00" y2="54.00" stroke="#1a1a1a" stroke-width="0.90"/>
<line x1="440.70" y1="75.46" x2="444.00" y2="75.46" stroke="#1a1a1a" stroke-width="0.90"/>
<line x1="450.30" y1="92.60" x2="450.30" y2="95.20" stroke="#1a1a1a" stroke-width="0.90"/>
<line x1="463.90" y1="92.60" x2="463.90" y2="95.20" stroke="#1a1a1a" stroke-width="0.90"/>
<line x1="477.50" y1="92.60" x2="477.50" y2="95.20" stroke="#1a1a1a" stroke-width="0.90"/>
<line x1="491.10" y1="92.60" x2="491.10" y2="95.20" stroke="#1a1a1a" stroke-width="0.90"/>
<rect x="498.8" y="50.8" width="4.3" height="21.7" fill="url(#grad)"/>
<use href="#PA" transform="matrix(0.6600 0 0 -1.0730 199.70 157.30)" stroke="#b4b4b4" stroke-width="0.78"/>
<use href="#R_main10" transform="matrix(0.6600 0 0 -1.0730 199.70 157.30)" stroke="#c08a7c" stroke-width="0.78"/>
<use href="#R_main05" transform="matrix(0.6600 0 0 -1.0730 199.70 157.30)" stroke="#ad6a5a" stroke-width="0.78"/>
<line x1="180.40" y1="129.30" x2="180.40" y2="196.40" stroke="#1a1a1a" stroke-width="1.10"/>
<line x1="179.90" y1="195.90" x2="230.40" y2="195.90" stroke="#1a1a1a" stroke-width="1.10"/>
<line x1="177.10" y1="135.84" x2="180.40" y2="135.84" stroke="#1a1a1a" stroke-width="0.90"/>
<line x1="177.10" y1="157.30" x2="180.40" y2="157.30" stroke="#1a1a1a" stroke-width="0.90"/>
<line x1="177.10" y1="178.76" x2="180.40" y2="178.76" stroke="#1a1a1a" stroke-width="0.90"/>
<line x1="186.70" y1="195.90" x2="186.70" y2="198.50" stroke="#1a1a1a" stroke-width="0.90"/>
<line x1="200.30" y1="195.90" x2="200.30" y2="198.50" stroke="#1a1a1a" stroke-width="0.90"/>
<line x1="213.90" y1="195.90" x2="213.90" y2="198.50" stroke="#1a1a1a" stroke-width="0.90"/>
<line x1="227.50" y1="195.90" x2="227.50" y2="198.50" stroke="#1a1a1a" stroke-width="0.90"/>
<rect x="231.9" y="154.1" width="4.3" height="21.7" fill="url(#grad)"/>
<use href="#PA" transform="matrix(0.6640 0 0 -1.0730 286.40 157.30)" stroke="#b4b4b4" stroke-width="0.78"/>
<use href="#R_main30" transform="matrix(0.6640 0 0 -1.0730 286.40 157.30)" stroke="#cc9f93" stroke-width="0.78"/>
<use href="#R_main10" transform="matrix(0.6640 0 0 -1.0730 286.40 157.30)" stroke="#c08a7c" stroke-width="0.78"/>
<use href="#R_main05" transform="matrix(0.6640 0 0 -1.0730 286.40 157.30)" stroke="#ad6a5a" stroke-width="0.78"/>
<line x1="266.80" y1="129.30" x2="266.80" y2="196.40" stroke="#1a1a1a" stroke-width="1.10"/>
<line x1="266.30" y1="195.90" x2="316.80" y2="195.90" stroke="#1a1a1a" stroke-width="1.10"/>
<line x1="263.50" y1="135.84" x2="266.80" y2="135.84" stroke="#1a1a1a" stroke-width="0.90"/>
<line x1="263.50" y1="157.30" x2="266.80" y2="157.30" stroke="#1a1a1a" stroke-width="0.90"/>
<line x1="263.50" y1="178.76" x2="266.80" y2="178.76" stroke="#1a1a1a" stroke-width="0.90"/>
<line x1="273.10" y1="195.90" x2="273.10" y2="198.50" stroke="#1a1a1a" stroke-width="0.90"/>
<line x1="286.70" y1="195.90" x2="286.70" y2="198.50" stroke="#1a1a1a" stroke-width="0.90"/>
<line x1="300.30" y1="195.90" x2="300.30" y2="198.50" stroke="#1a1a1a" stroke-width="0.90"/>
<line x1="313.90" y1="195.90" x2="313.90" y2="198.50" stroke="#1a1a1a" stroke-width="0.90"/>
<rect x="318.6" y="154.1" width="4.3" height="21.7" fill="url(#grad)"/>
<use href="#PA" transform="matrix(0.6270 0 0 -1.0730 374.60 157.30)" stroke="#b4b4b4" stroke-width="0.78"/>
<use href="#R_main20" transform="matrix(0.6270 0 0 -1.0730 374.60 157.30)" stroke="#cc9f93" stroke-width="0.78"/>
<use href="#R_main10" transform="matrix(0.6270 0 0 -1.0730 374.60 157.30)" stroke="#c08a7c" stroke-width="0.78"/>
<use href="#R_main05" transform="matrix(0.6270 0 0 -1.0730 374.60 157.30)" stroke="#ad6a5a" stroke-width="0.78"/>
<line x1="355.90" y1="129.30" x2="355.90" y2="196.40" stroke="#1a1a1a" stroke-width="1.10"/>
<line x1="355.40" y1="195.90" x2="405.90" y2="195.90" stroke="#1a1a1a" stroke-width="1.10"/>
<line x1="352.60" y1="135.84" x2="355.90" y2="135.84" stroke="#1a1a1a" stroke-width="0.90"/>
<line x1="352.60" y1="157.30" x2="355.90" y2="157.30" stroke="#1a1a1a" stroke-width="0.90"/>
<line x1="352.60" y1="178.76" x2="355.90" y2="178.76" stroke="#1a1a1a" stroke-width="0.90"/>
<line x1="362.20" y1="195.90" x2="362.20" y2="198.50" stroke="#1a1a1a" stroke-width="0.90"/>
<line x1="375.80" y1="195.90" x2="375.80" y2="198.50" stroke="#1a1a1a" stroke-width="0.90"/>
<line x1="389.40" y1="195.90" x2="389.40" y2="198.50" stroke="#1a1a1a" stroke-width="0.90"/>
<line x1="403.00" y1="195.90" x2="403.00" y2="198.50" stroke="#1a1a1a" stroke-width="0.90"/>
<rect x="405.9" y="154.1" width="4.3" height="21.7" fill="url(#grad)"/>
<use href="#PA" transform="matrix(0.6940 0 0 -1.0730 464.80 157.30)" stroke="#b4b4b4" stroke-width="0.78"/>
<use href="#R_main10" transform="matrix(0.6940 0 0 -1.0730 464.80 157.30)" stroke="#cc9f93" stroke-width="0.78"/>
<use href="#R_main05" transform="matrix(0.6940 0 0 -1.0730 464.80 157.30)" stroke="#c08a7c" stroke-width="0.78"/>
<line x1="444.00" y1="129.30" x2="444.00" y2="196.40" stroke="#1a1a1a" stroke-width="1.10"/>
<line x1="443.50" y1="195.90" x2="494.00" y2="195.90" stroke="#1a1a1a" stroke-width="1.10"/>
<line x1="440.70" y1="135.84" x2="444.00" y2="135.84" stroke="#1a1a1a" stroke-width="0.90"/>
<line x1="440.70" y1="157.30" x2="444.00" y2="157.30" stroke="#1a1a1a" stroke-width="0.90"/>
<line x1="440.70" y1="178.76" x2="444.00" y2="178.76" stroke="#1a1a1a" stroke-width="0.90"/>
<line x1="450.30" y1="195.90" x2="450.30" y2="198.50" stroke="#1a1a1a" stroke-width="0.90"/>
<line x1="463.90" y1="195.90" x2="463.90" y2="198.50" stroke="#1a1a1a" stroke-width="0.90"/>
<line x1="477.50" y1="195.90" x2="477.50" y2="198.50" stroke="#1a1a1a" stroke-width="0.90"/>
<line x1="491.10" y1="195.90" x2="491.10" y2="198.50" stroke="#1a1a1a" stroke-width="0.90"/>
<rect x="498.6" y="154.1" width="4.3" height="21.7" fill="url(#grad)"/>
<use href="#PA" transform="matrix(0.6540 0 0 -1.0730 199.70 260.60)" stroke="#b4b4b4" stroke-width="0.78"/>
<use href="#R_main05" transform="matrix(0.6540 0 0 -1.0730 199.70 260.60)" stroke="#c08a7c" stroke-width="0.78"/>
<line x1="180.40" y1="232.60" x2="180.40" y2="299.70" stroke="#1a1a1a" stroke-width="1.10"/>
<line x1="179.90" y1="299.20" x2="230.40" y2="299.20" stroke="#1a1a1a" stroke-width="1.10"/>
<line x1="177.10" y1="239.14" x2="180.40" y2="239.14" stroke="#1a1a1a" stroke-width="0.90"/>
<line x1="177.10" y1="260.60" x2="180.40" y2="260.60" stroke="#1a1a1a" stroke-width="0.90"/>
<line x1="177.10" y1="282.06" x2="180.40" y2="282.06" stroke="#1a1a1a" stroke-width="0.90"/>
<line x1="186.70" y1="299.20" x2="186.70" y2="301.80" stroke="#1a1a1a" stroke-width="0.90"/>
<line x1="200.30" y1="299.20" x2="200.30" y2="301.80" stroke="#1a1a1a" stroke-width="0.90"/>
<line x1="213.90" y1="299.20" x2="213.90" y2="301.80" stroke="#1a1a1a" stroke-width="0.90"/>
<line x1="227.50" y1="299.20" x2="227.50" y2="301.80" stroke="#1a1a1a" stroke-width="0.90"/>
<rect x="231.9" y="257.4" width="4.3" height="21.7" fill="url(#grad)"/>
<use href="#PA" transform="matrix(0.9500 0 0 -1.0730 294.90 260.60)" stroke="#b0b0b0" stroke-width="0.78"/>
<line x1="266.80" y1="232.60" x2="266.80" y2="299.70" stroke="#1a1a1a" stroke-width="1.10"/>
<line x1="266.30" y1="299.20" x2="335.80" y2="299.20" stroke="#1a1a1a" stroke-width="1.10"/>
<line x1="263.50" y1="239.14" x2="266.80" y2="239.14" stroke="#1a1a1a" stroke-width="0.90"/>
<line x1="263.50" y1="260.60" x2="266.80" y2="260.60" stroke="#1a1a1a" stroke-width="0.90"/>
<line x1="263.50" y1="282.06" x2="266.80" y2="282.06" stroke="#1a1a1a" stroke-width="0.90"/>
<line x1="275.90" y1="299.20" x2="275.90" y2="301.80" stroke="#1a1a1a" stroke-width="0.90"/>
<line x1="294.90" y1="299.20" x2="294.90" y2="301.80" stroke="#1a1a1a" stroke-width="0.90"/>
<line x1="313.90" y1="299.20" x2="313.90" y2="301.80" stroke="#1a1a1a" stroke-width="0.90"/>
<line x1="332.90" y1="299.20" x2="332.90" y2="301.80" stroke="#1a1a1a" stroke-width="0.90"/>
<use href="#PA" transform="matrix(0.6590 0 0 -1.0730 375.90 260.60)" stroke="#b4b4b4" stroke-width="0.78"/>
<use href="#R_one" transform="matrix(0.6590 0 0 -1.0730 375.90 260.60)" stroke="#b47a6c" stroke-width="0.78"/>
<line x1="355.90" y1="232.60" x2="355.90" y2="299.70" stroke="#1a1a1a" stroke-width="1.10"/>
<line x1="355.40" y1="299.20" x2="405.90" y2="299.20" stroke="#1a1a1a" stroke-width="1.10"/>
<line x1="352.60" y1="239.14" x2="355.90" y2="239.14" stroke="#1a1a1a" stroke-width="0.90"/>
<line x1="352.60" y1="260.60" x2="355.90" y2="260.60" stroke="#1a1a1a" stroke-width="0.90"/>
<line x1="352.60" y1="282.06" x2="355.90" y2="282.06" stroke="#1a1a1a" stroke-width="0.90"/>
<line x1="362.20" y1="299.20" x2="362.20" y2="301.80" stroke="#1a1a1a" stroke-width="0.90"/>
<line x1="375.80" y1="299.20" x2="375.80" y2="301.80" stroke="#1a1a1a" stroke-width="0.90"/>
<line x1="389.40" y1="299.20" x2="389.40" y2="301.80" stroke="#1a1a1a" stroke-width="0.90"/>
<line x1="403.00" y1="299.20" x2="403.00" y2="301.80" stroke="#1a1a1a" stroke-width="0.90"/>
<rect x="408.1" y="257.4" width="4.3" height="21.7" fill="url(#grad)"/>
<use href="#PA" transform="matrix(0.9500 0 0 -1.0730 472.10 260.60)" stroke="#b0b0b0" stroke-width="0.78"/>
<line x1="444.00" y1="232.60" x2="444.00" y2="299.70" stroke="#1a1a1a" stroke-width="1.10"/>
<line x1="443.50" y1="299.20" x2="513.00" y2="299.20" stroke="#1a1a1a" stroke-width="1.10"/>
<line x1="440.70" y1="239.14" x2="444.00" y2="239.14" stroke="#1a1a1a" stroke-width="0.90"/>
<line x1="440.70" y1="260.60" x2="444.00" y2="260.60" stroke="#1a1a1a" stroke-width="0.90"/>
<line x1="440.70" y1="282.06" x2="444.00" y2="282.06" stroke="#1a1a1a" stroke-width="0.90"/>
<line x1="453.10" y1="299.20" x2="453.10" y2="301.80" stroke="#1a1a1a" stroke-width="0.90"/>
<line x1="472.10" y1="299.20" x2="472.10" y2="301.80" stroke="#1a1a1a" stroke-width="0.90"/>
<line x1="491.10" y1="299.20" x2="491.10" y2="301.80" stroke="#1a1a1a" stroke-width="0.90"/>
<line x1="510.10" y1="299.20" x2="510.10" y2="301.80" stroke="#1a1a1a" stroke-width="0.90"/>
<g style="will-change:transform"><text transform="translate(10.90 16.10) scale(0.900 1)" font-size="11.60" text-anchor="start" fill="#111" stroke="#111" stroke-width="0.35">A</text>
<text transform="translate(47.00 21.60)" font-size="4.60" text-anchor="end" fill="#8a8a8a">20</text>
<text transform="translate(47.00 51.80)" font-size="4.60" text-anchor="end" fill="#8a8a8a">0</text>
<text transform="translate(47.00 82.00)" font-size="4.60" text-anchor="end" fill="#8a8a8a">-20</text>
<text transform="translate(62.65 114.50)" font-size="4.60" text-anchor="middle" fill="#8a8a8a">-20</text>
<text transform="translate(83.80 114.50)" font-size="4.60" text-anchor="middle" fill="#8a8a8a">0</text>
<text transform="translate(104.95 114.50)" font-size="4.60" text-anchor="middle" fill="#8a8a8a">20</text>
<text transform="translate(126.10 114.50)" font-size="4.60" text-anchor="middle" fill="#8a8a8a">40</text>
<text transform="translate(34.00 58.10) rotate(-90) scale(0.920 1)" font-size="6.10" text-anchor="middle" fill="#3a3a3a">tSNE_2</text>
<text transform="translate(55.10 16.00) scale(0.870 1)" font-size="5.00" text-anchor="start" fill="#5a5a5a">malignant</text>
<text transform="translate(55.10 21.60) scale(0.870 1)" font-size="5.00" text-anchor="start" fill="#5a5a5a">cells</text>
<text transform="translate(112.30 54.60) scale(0.870 1)" font-size="5.00" text-anchor="start" fill="#5a5a5a">erythro-</text>
<text transform="translate(112.30 59.90) scale(0.870 1)" font-size="5.00" text-anchor="start" fill="#5a5a5a">blasts</text>
<text transform="translate(106.90 92.00) scale(0.870 1)" font-size="5.00" text-anchor="start" fill="#5a5a5a">macro-</text>
<text transform="translate(106.90 97.20) scale(0.870 1)" font-size="5.00" text-anchor="start" fill="#5a5a5a">phages</text>
<text transform="translate(20.00 135.05)" font-size="4.60" text-anchor="end" fill="#8a8a8a">20</text>
<text transform="translate(20.00 150.45)" font-size="4.60" text-anchor="end" fill="#8a8a8a">0</text>
<text transform="translate(20.00 165.85)" font-size="4.60" text-anchor="end" fill="#8a8a8a">-20</text>
<text transform="translate(30.95 186.30)" font-size="4.60" text-anchor="middle" fill="#8a8a8a">-20</text>
<text transform="translate(43.60 186.30)" font-size="4.60" text-anchor="middle" fill="#8a8a8a">0</text>
<text transform="translate(56.25 186.30)" font-size="4.60" text-anchor="middle" fill="#8a8a8a">20</text>
<text transform="translate(68.90 186.30)" font-size="4.60" text-anchor="middle" fill="#8a8a8a">40</text>
<text transform="translate(48.35 127.00)" font-size="7.40" text-anchor="middle" fill="#2a2a2a" textLength="15.70" lengthAdjust="spacingAndGlyphs">CD33</text>
<text transform="translate(47.60 194.10) scale(0.830 1)" font-size="6.50" text-anchor="middle" fill="#3a3a3a">tSNE_1</text>
<text transform="translate(11.90 152.70) rotate(-90) scale(0.840 1)" font-size="7.00" text-anchor="middle" fill="#3a3a3a">tSNE_2</text>
<text transform="translate(74.40 148.80)" font-size="2.70" text-anchor="start" fill="#8a8a8a">2.0</text>
<text transform="translate(74.40 151.30)" font-size="2.70" text-anchor="start" fill="#8a8a8a">1.5</text>
<text transform="translate(74.40 153.80)" font-size="2.70" text-anchor="start" fill="#8a8a8a">1.0</text>
<text transform="translate(74.40 156.30)" font-size="2.70" text-anchor="start" fill="#8a8a8a">0.5</text>
<text transform="translate(74.40 158.80)" font-size="2.70" text-anchor="start" fill="#8a8a8a">0.0</text>
<text transform="translate(94.10 135.05)" font-size="4.60" text-anchor="end" fill="#8a8a8a">20</text>
<text transform="translate(94.10 150.45)" font-size="4.60" text-anchor="end" fill="#8a8a8a">0</text>
<text transform="translate(94.10 165.85)" font-size="4.60" text-anchor="end" fill="#8a8a8a">-20</text>
<text transform="translate(105.05 186.30)" font-size="4.60" text-anchor="middle" fill="#8a8a8a">-20</text>
<text transform="translate(117.70 186.30)" font-size="4.60" text-anchor="middle" fill="#8a8a8a">0</text>
<text transform="translate(130.35 186.30)" font-size="4.60" text-anchor="middle" fill="#8a8a8a">20</text>
<text transform="translate(143.00 186.30)" font-size="4.60" text-anchor="middle" fill="#8a8a8a">40</text>
<text transform="translate(122.45 127.00)" font-size="7.40" text-anchor="middle" fill="#2a2a2a" textLength="15.70" lengthAdjust="spacingAndGlyphs">CD34</text>
<text transform="translate(121.70 194.10) scale(0.830 1)" font-size="6.50" text-anchor="middle" fill="#3a3a3a">tSNE_1</text>
<text transform="translate(86.00 152.70) rotate(-90) scale(0.840 1)" font-size="7.00" text-anchor="middle" fill="#3a3a3a">tSNE_2</text>
<text transform="translate(148.50 148.80)" font-size="2.70" text-anchor="start" fill="#8a8a8a">2.0</text>
<text transform="translate(148.50 151.30)" font-size="2.70" text-anchor="start" fill="#8a8a8a">1.5</text>
<text transform="translate(148.50 153.80)" font-size="2.70" text-anchor="start" fill="#8a8a8a">1.0</text>
<text transform="translate(148.50 156.30)" font-size="2.70" text-anchor="start" fill="#8a8a8a">0.5</text>
<text transform="translate(148.50 158.80)" font-size="2.70" text-anchor="start" fill="#8a8a8a">0.0</text>
<text transform="translate(20.00 219.35)" font-size="4.60" text-anchor="end" fill="#8a8a8a">20</text>
<text transform="translate(20.00 234.75)" font-size="4.60" text-anchor="end" fill="#8a8a8a">0</text>
<text transform="translate(20.00 250.15)" font-size="4.60" text-anchor="end" fill="#8a8a8a">-20</text>
<text transform="translate(30.95 270.60)" font-size="4.60" text-anchor="middle" fill="#8a8a8a">-20</text>
<text transform="translate(43.60 270.60)" font-size="4.60" text-anchor="middle" fill="#8a8a8a">0</text>
<text transform="translate(56.25 270.60)" font-size="4.60" text-anchor="middle" fill="#8a8a8a">20</text>
<text transform="translate(68.90 270.60)" font-size="4.60" text-anchor="middle" fill="#8a8a8a">40</text>
<text transform="translate(48.05 211.30)" font-size="7.40" text-anchor="middle" fill="#2a2a2a" textLength="18.50" lengthAdjust="spacingAndGlyphs">CD117</text>
<text transform="translate(47.60 278.40) scale(0.830 1)" font-size="6.50" text-anchor="middle" fill="#3a3a3a">tSNE_1</text>
<text transform="translate(11.90 237.00) rotate(-90) scale(0.840 1)" font-size="7.00" text-anchor="middle" fill="#3a3a3a">tSNE_2</text>
<text transform="translate(74.40 233.10)" font-size="2.70" text-anchor="start" fill="#8a8a8a">2.0</text>
<text transform="translate(74.40 235.60)" font-size="2.70" text-anchor="start" fill="#8a8a8a">1.5</text>
<text transform="translate(74.40 238.10)" font-size="2.70" text-anchor="start" fill="#8a8a8a">1.0</text>
<text transform="translate(74.40 240.60)" font-size="2.70" text-anchor="start" fill="#8a8a8a">0.5</text>
<text transform="translate(74.40 243.10)" font-size="2.70" text-anchor="start" fill="#8a8a8a">0.0</text>
<text transform="translate(94.10 219.35)" font-size="4.60" text-anchor="end" fill="#8a8a8a">20</text>
<text transform="translate(94.10 234.75)" font-size="4.60" text-anchor="end" fill="#8a8a8a">0</text>
<text transform="translate(94.10 250.15)" font-size="4.60" text-anchor="end" fill="#8a8a8a">-20</text>
<text transform="translate(105.05 270.60)" font-size="4.60" text-anchor="middle" fill="#8a8a8a">-20</text>
<text transform="translate(117.70 270.60)" font-size="4.60" text-anchor="middle" fill="#8a8a8a">0</text>
<text transform="translate(130.35 270.60)" font-size="4.60" text-anchor="middle" fill="#8a8a8a">20</text>
<text transform="translate(143.00 270.60)" font-size="4.60" text-anchor="middle" fill="#8a8a8a">40</text>
<text transform="translate(121.60 211.30)" font-size="7.40" text-anchor="middle" fill="#2a2a2a" textLength="15.85" lengthAdjust="spacingAndGlyphs">AHSP</text>
<text transform="translate(121.70 278.40) scale(0.830 1)" font-size="6.50" text-anchor="middle" fill="#3a3a3a">tSNE_1</text>
<text transform="translate(86.00 237.00) rotate(-90) scale(0.840 1)" font-size="7.00" text-anchor="middle" fill="#3a3a3a">tSNE_2</text>
<text transform="translate(148.50 233.10)" font-size="2.70" text-anchor="start" fill="#8a8a8a">2.0</text>
<text transform="translate(148.50 235.60)" font-size="2.70" text-anchor="start" fill="#8a8a8a">1.5</text>
<text transform="translate(148.50 238.10)" font-size="2.70" text-anchor="start" fill="#8a8a8a">1.0</text>
<text transform="translate(148.50 240.60)" font-size="2.70" text-anchor="start" fill="#8a8a8a">0.5</text>
<text transform="translate(148.50 243.10)" font-size="2.70" text-anchor="start" fill="#8a8a8a">0.0</text>
<text transform="translate(20.00 303.65)" font-size="4.60" text-anchor="end" fill="#8a8a8a">20</text>
<text transform="translate(20.00 319.05)" font-size="4.60" text-anchor="end" fill="#8a8a8a">0</text>
<text transform="translate(20.00 334.45)" font-size="4.60" text-anchor="end" fill="#8a8a8a">-20</text>
<text transform="translate(30.95 354.90)" font-size="4.60" text-anchor="middle" fill="#8a8a8a">-20</text>
<text transform="translate(43.60 354.90)" font-size="4.60" text-anchor="middle" fill="#8a8a8a">0</text>
<text transform="translate(56.25 354.90)" font-size="4.60" text-anchor="middle" fill="#8a8a8a">20</text>
<text transform="translate(68.90 354.90)" font-size="4.60" text-anchor="middle" fill="#8a8a8a">40</text>
<text transform="translate(48.30 295.60)" font-size="7.40" text-anchor="middle" fill="#2a2a2a" textLength="16.40" lengthAdjust="spacingAndGlyphs">CD14</text>
<text transform="translate(47.60 362.70) scale(0.830 1)" font-size="6.50" text-anchor="middle" fill="#3a3a3a">tSNE_1</text>
<text transform="translate(11.90 321.30) rotate(-90) scale(0.840 1)" font-size="7.00" text-anchor="middle" fill="#3a3a3a">tSNE_2</text>
<text transform="translate(74.40 317.40)" font-size="2.70" text-anchor="start" fill="#8a8a8a">2.0</text>
<text transform="translate(74.40 319.90)" font-size="2.70" text-anchor="start" fill="#8a8a8a">1.5</text>
<text transform="translate(74.40 322.40)" font-size="2.70" text-anchor="start" fill="#8a8a8a">1.0</text>
<text transform="translate(74.40 324.90)" font-size="2.70" text-anchor="start" fill="#8a8a8a">0.5</text>
<text transform="translate(74.40 327.40)" font-size="2.70" text-anchor="start" fill="#8a8a8a">0.0</text>
<text transform="translate(94.10 303.65)" font-size="4.60" text-anchor="end" fill="#8a8a8a">20</text>
<text transform="translate(94.10 319.05)" font-size="4.60" text-anchor="end" fill="#8a8a8a">0</text>
<text transform="translate(94.10 334.45)" font-size="4.60" text-anchor="end" fill="#8a8a8a">-20</text>
<text transform="translate(105.05 354.90)" font-size="4.60" text-anchor="middle" fill="#8a8a8a">-20</text>
<text transform="translate(117.70 354.90)" font-size="4.60" text-anchor="middle" fill="#8a8a8a">0</text>
<text transform="translate(130.35 354.90)" font-size="4.60" text-anchor="middle" fill="#8a8a8a">20</text>
<text transform="translate(143.00 354.90)" font-size="4.60" text-anchor="middle" fill="#8a8a8a">40</text>
<text transform="translate(122.40 295.60)" font-size="7.40" text-anchor="middle" fill="#2a2a2a" textLength="16.20" lengthAdjust="spacingAndGlyphs">CD36</text>
<text transform="translate(121.70 362.70) scale(0.830 1)" font-size="6.50" text-anchor="middle" fill="#3a3a3a">tSNE_1</text>
<text transform="translate(86.00 321.30) rotate(-90) scale(0.840 1)" font-size="7.00" text-anchor="middle" fill="#3a3a3a">tSNE_2</text>
<text transform="translate(148.50 317.40)" font-size="2.70" text-anchor="start" fill="#8a8a8a">2.0</text>
<text transform="translate(148.50 319.90)" font-size="2.70" text-anchor="start" fill="#8a8a8a">1.5</text>
<text transform="translate(148.50 322.40)" font-size="2.70" text-anchor="start" fill="#8a8a8a">1.0</text>
<text transform="translate(148.50 324.90)" font-size="2.70" text-anchor="start" fill="#8a8a8a">0.5</text>
<text transform="translate(148.50 327.40)" font-size="2.70" text-anchor="start" fill="#8a8a8a">0.0</text>
<text transform="translate(158.90 16.30) scale(0.880 1)" font-size="11.60" text-anchor="start" fill="#111" stroke="#111" stroke-width="0.35">B</text>
<text transform="translate(175.90 34.29)" font-size="4.60" text-anchor="end" fill="#8a8a8a">20</text>
<text transform="translate(175.90 55.75)" font-size="4.60" text-anchor="end" fill="#8a8a8a">0</text>
<text transform="translate(175.90 77.21)" font-size="4.60" text-anchor="end" fill="#8a8a8a">-20</text>
<text transform="translate(186.70 101.50)" font-size="4.60" text-anchor="middle" fill="#8a8a8a">-20</text>
<text transform="translate(200.30 101.50)" font-size="4.60" text-anchor="middle" fill="#8a8a8a">0</text>
<text transform="translate(213.90 101.50)" font-size="4.60" text-anchor="middle" fill="#8a8a8a">20</text>
<text transform="translate(227.50 101.50)" font-size="4.60" text-anchor="middle" fill="#8a8a8a">40</text>
<text transform="translate(205.45 22.80)" font-size="7.10" text-anchor="middle" fill="#2a2a2a" textLength="17.90" lengthAdjust="spacingAndGlyphs">MLLT3</text>
<text transform="translate(204.60 109.70) scale(0.800 1)" font-size="7.00" text-anchor="middle" fill="#3a3a3a">tSNE_1</text>
<text transform="translate(167.40 59.70) rotate(-90) scale(0.800 1)" font-size="7.00" text-anchor="middle" fill="#3a3a3a">tSNE_2</text>
<text transform="translate(233.60 49.20) scale(0.820 1)" font-size="4.40" text-anchor="start" fill="#777">MLLT3</text>
<text transform="translate(238.80 53.90) scale(0.920 1)" font-size="4.20" text-anchor="start" fill="#808080">2.0</text>
<text transform="translate(238.80 58.70) scale(0.920 1)" font-size="4.20" text-anchor="start" fill="#808080">1.5</text>
<text transform="translate(238.80 63.50) scale(0.920 1)" font-size="4.20" text-anchor="start" fill="#808080">1.0</text>
<text transform="translate(238.80 68.30) scale(0.920 1)" font-size="4.20" text-anchor="start" fill="#808080">0.5</text>
<text transform="translate(238.80 73.00) scale(0.920 1)" font-size="4.20" text-anchor="start" fill="#808080">0.0</text>
<text transform="translate(262.30 34.29)" font-size="4.60" text-anchor="end" fill="#8a8a8a">20</text>
<text transform="translate(262.30 55.75)" font-size="4.60" text-anchor="end" fill="#8a8a8a">0</text>
<text transform="translate(262.30 77.21)" font-size="4.60" text-anchor="end" fill="#8a8a8a">-20</text>
<text transform="translate(273.10 101.50)" font-size="4.60" text-anchor="middle" fill="#8a8a8a">-20</text>
<text transform="translate(286.70 101.50)" font-size="4.60" text-anchor="middle" fill="#8a8a8a">0</text>
<text transform="translate(300.30 101.50)" font-size="4.60" text-anchor="middle" fill="#8a8a8a">20</text>
<text transform="translate(313.90 101.50)" font-size="4.60" text-anchor="middle" fill="#8a8a8a">40</text>
<text transform="translate(292.00 22.80)" font-size="7.10" text-anchor="middle" fill="#2a2a2a" textLength="12.60" lengthAdjust="spacingAndGlyphs">MYB</text>
<text transform="translate(291.00 109.70) scale(0.800 1)" font-size="7.00" text-anchor="middle" fill="#3a3a3a">tSNE_1</text>
<text transform="translate(253.80 59.70) rotate(-90) scale(0.800 1)" font-size="7.00" text-anchor="middle" fill="#3a3a3a">tSNE_2</text>
<text transform="translate(322.20 49.20) scale(0.820 1)" font-size="4.40" text-anchor="start" fill="#777">MYB</text>
<text transform="translate(327.40 53.90) scale(0.920 1)" font-size="4.20" text-anchor="start" fill="#808080">2.0</text>
<text transform="translate(327.40 58.70) scale(0.920 1)" font-size="4.20" text-anchor="start" fill="#808080">1.5</text>
<text transform="translate(327.40 63.50) scale(0.920 1)" font-size="4.20" text-anchor="start" fill="#808080">1.0</text>
<text transform="translate(327.40 68.30) scale(0.920 1)" font-size="4.20" text-anchor="start" fill="#808080">0.5</text>
<text transform="translate(327.40 73.00) scale(0.920 1)" font-size="4.20" text-anchor="start" fill="#808080">0.0</text>
<text transform="translate(351.40 34.29)" font-size="4.60" text-anchor="end" fill="#8a8a8a">20</text>
<text transform="translate(351.40 55.75)" font-size="4.60" text-anchor="end" fill="#8a8a8a">0</text>
<text transform="translate(351.40 77.21)" font-size="4.60" text-anchor="end" fill="#8a8a8a">-20</text>
<text transform="translate(362.20 101.50)" font-size="4.60" text-anchor="middle" fill="#8a8a8a">-20</text>
<text transform="translate(375.80 101.50)" font-size="4.60" text-anchor="middle" fill="#8a8a8a">0</text>
<text transform="translate(389.40 101.50)" font-size="4.60" text-anchor="middle" fill="#8a8a8a">20</text>
<text transform="translate(403.00 101.50)" font-size="4.60" text-anchor="middle" fill="#8a8a8a">40</text>
<text transform="translate(381.25 22.80)" font-size="7.10" text-anchor="middle" fill="#2a2a2a" textLength="23.10" lengthAdjust="spacingAndGlyphs">MECOM</text>
<text transform="translate(380.10 109.70) scale(0.800 1)" font-size="7.00" text-anchor="middle" fill="#3a3a3a">tSNE_1</text>
<text transform="translate(342.90 59.70) rotate(-90) scale(0.800 1)" font-size="7.00" text-anchor="middle" fill="#3a3a3a">tSNE_2</text>
<text transform="translate(406.50 49.20) scale(0.820 1)" font-size="4.40" text-anchor="start" fill="#777">MECOM</text>
<text transform="translate(411.70 53.90) scale(0.920 1)" font-size="4.20" text-anchor="start" fill="#808080">2.0</text>
<text transform="translate(411.70 58.70) scale(0.920 1)" font-size="4.20" text-anchor="start" fill="#808080">1.5</text>
<text transform="translate(411.70 63.50) scale(0.920 1)" font-size="4.20" text-anchor="start" fill="#808080">1.0</text>
<text transform="translate(411.70 68.30) scale(0.920 1)" font-size="4.20" text-anchor="start" fill="#808080">0.5</text>
<text transform="translate(411.70 73.00) scale(0.920 1)" font-size="4.20" text-anchor="start" fill="#808080">0.0</text>
<text transform="translate(439.50 34.29)" font-size="4.60" text-anchor="end" fill="#8a8a8a">20</text>
<text transform="translate(439.50 55.75)" font-size="4.60" text-anchor="end" fill="#8a8a8a">0</text>
<text transform="translate(439.50 77.21)" font-size="4.60" text-anchor="end" fill="#8a8a8a">-20</text>
<text transform="translate(450.30 101.50)" font-size="4.60" text-anchor="middle" fill="#8a8a8a">-20</text>
<text transform="translate(463.90 101.50)" font-size="4.60" text-anchor="middle" fill="#8a8a8a">0</text>
<text transform="translate(477.50 101.50)" font-size="4.60" text-anchor="middle" fill="#8a8a8a">20</text>
<text transform="translate(491.10 101.50)" font-size="4.60" text-anchor="middle" fill="#8a8a8a">40</text>
<text transform="translate(470.00 22.80)" font-size="7.10" text-anchor="middle" fill="#2a2a2a" textLength="14.60" lengthAdjust="spacingAndGlyphs">PBX3</text>
<text transform="translate(468.20 109.70) scale(0.800 1)" font-size="7.00" text-anchor="middle" fill="#3a3a3a">tSNE_1</text>
<text transform="translate(431.00 59.70) rotate(-90) scale(0.800 1)" font-size="7.00" text-anchor="middle" fill="#3a3a3a">tSNE_2</text>
<text transform="translate(499.40 49.20) scale(0.820 1)" font-size="4.40" text-anchor="start" fill="#777">PBX3</text>
<text transform="translate(504.60 53.90) scale(0.920 1)" font-size="4.20" text-anchor="start" fill="#808080">2.0</text>
<text transform="translate(504.60 58.70) scale(0.920 1)" font-size="4.20" text-anchor="start" fill="#808080">1.5</text>
<text transform="translate(504.60 63.50) scale(0.920 1)" font-size="4.20" text-anchor="start" fill="#808080">1.0</text>
<text transform="translate(504.60 68.30) scale(0.920 1)" font-size="4.20" text-anchor="start" fill="#808080">0.5</text>
<text transform="translate(504.60 73.00) scale(0.920 1)" font-size="4.20" text-anchor="start" fill="#808080">0.0</text>
<text transform="translate(175.90 137.59)" font-size="4.60" text-anchor="end" fill="#8a8a8a">20</text>
<text transform="translate(175.90 159.05)" font-size="4.60" text-anchor="end" fill="#8a8a8a">0</text>
<text transform="translate(175.90 180.51)" font-size="4.60" text-anchor="end" fill="#8a8a8a">-20</text>
<text transform="translate(186.70 204.80)" font-size="4.60" text-anchor="middle" fill="#8a8a8a">-20</text>
<text transform="translate(200.30 204.80)" font-size="4.60" text-anchor="middle" fill="#8a8a8a">0</text>
<text transform="translate(213.90 204.80)" font-size="4.60" text-anchor="middle" fill="#8a8a8a">20</text>
<text transform="translate(227.50 204.80)" font-size="4.60" text-anchor="middle" fill="#8a8a8a">40</text>
<text transform="translate(205.05 126.10)" font-size="7.10" text-anchor="middle" fill="#2a2a2a" textLength="20.30" lengthAdjust="spacingAndGlyphs">HOXA5</text>
<text transform="translate(204.60 213.00) scale(0.800 1)" font-size="7.00" text-anchor="middle" fill="#3a3a3a">tSNE_1</text>
<text transform="translate(167.40 163.00) rotate(-90) scale(0.800 1)" font-size="7.00" text-anchor="middle" fill="#3a3a3a">tSNE_2</text>
<text transform="translate(232.50 152.50) scale(0.820 1)" font-size="4.40" text-anchor="start" fill="#777">HOXA5</text>
<text transform="translate(237.70 160.90) scale(0.920 1)" font-size="4.20" text-anchor="start" fill="#808080">1.5</text>
<text transform="translate(237.70 166.50) scale(0.920 1)" font-size="4.20" text-anchor="start" fill="#808080">1.0</text>
<text transform="translate(237.70 171.90) scale(0.920 1)" font-size="4.20" text-anchor="start" fill="#808080">0.5</text>
<text transform="translate(237.70 176.50) scale(0.920 1)" font-size="4.20" text-anchor="start" fill="#808080">0.0</text>
<text transform="translate(262.30 137.59)" font-size="4.60" text-anchor="end" fill="#8a8a8a">20</text>
<text transform="translate(262.30 159.05)" font-size="4.60" text-anchor="end" fill="#8a8a8a">0</text>
<text transform="translate(262.30 180.51)" font-size="4.60" text-anchor="end" fill="#8a8a8a">-20</text>
<text transform="translate(273.10 204.80)" font-size="4.60" text-anchor="middle" fill="#8a8a8a">-20</text>
<text transform="translate(286.70 204.80)" font-size="4.60" text-anchor="middle" fill="#8a8a8a">0</text>
<text transform="translate(300.30 204.80)" font-size="4.60" text-anchor="middle" fill="#8a8a8a">20</text>
<text transform="translate(313.90 204.80)" font-size="4.60" text-anchor="middle" fill="#8a8a8a">40</text>
<text transform="translate(292.00 126.10)" font-size="7.10" text-anchor="middle" fill="#2a2a2a" textLength="20.40" lengthAdjust="spacingAndGlyphs">HOXA9</text>
<text transform="translate(291.00 213.00) scale(0.800 1)" font-size="7.00" text-anchor="middle" fill="#3a3a3a">tSNE_1</text>
<text transform="translate(253.80 163.00) rotate(-90) scale(0.800 1)" font-size="7.00" text-anchor="middle" fill="#3a3a3a">tSNE_2</text>
<text transform="translate(319.20 152.50) scale(0.820 1)" font-size="4.40" text-anchor="start" fill="#777">HOXA9</text>
<text transform="translate(324.40 161.90) scale(0.920 1)" font-size="4.20" text-anchor="start" fill="#808080">2</text>
<text transform="translate(324.40 169.20) scale(0.920 1)" font-size="4.20" text-anchor="start" fill="#808080">1</text>
<text transform="translate(324.40 176.50) scale(0.920 1)" font-size="4.20" text-anchor="start" fill="#808080">0</text>
<text transform="translate(351.40 137.59)" font-size="4.60" text-anchor="end" fill="#8a8a8a">20</text>
<text transform="translate(351.40 159.05)" font-size="4.60" text-anchor="end" fill="#8a8a8a">0</text>
<text transform="translate(351.40 180.51)" font-size="4.60" text-anchor="end" fill="#8a8a8a">-20</text>
<text transform="translate(362.20 204.80)" font-size="4.60" text-anchor="middle" fill="#8a8a8a">-20</text>
<text transform="translate(375.80 204.80)" font-size="4.60" text-anchor="middle" fill="#8a8a8a">0</text>
<text transform="translate(389.40 204.80)" font-size="4.60" text-anchor="middle" fill="#8a8a8a">20</text>
<text transform="translate(403.00 204.80)" font-size="4.60" text-anchor="middle" fill="#8a8a8a">40</text>
<text transform="translate(380.45 126.10)" font-size="7.10" text-anchor="middle" fill="#2a2a2a" textLength="23.10" lengthAdjust="spacingAndGlyphs">HOXA10</text>
<text transform="translate(380.10 213.00) scale(0.800 1)" font-size="7.00" text-anchor="middle" fill="#3a3a3a">tSNE_1</text>
<text transform="translate(342.90 163.00) rotate(-90) scale(0.800 1)" font-size="7.00" text-anchor="middle" fill="#3a3a3a">tSNE_2</text>
<text transform="translate(406.50 152.50) scale(0.820 1)" font-size="4.40" text-anchor="start" fill="#777">HOXA10</text>
<text transform="translate(411.70 157.20) scale(0.920 1)" font-size="4.20" text-anchor="start" fill="#808080">2.0</text>
<text transform="translate(411.70 162.00) scale(0.920 1)" font-size="4.20" text-anchor="start" fill="#808080">1.5</text>
<text transform="translate(411.70 166.80) scale(0.920 1)" font-size="4.20" text-anchor="start" fill="#808080">1.0</text>
<text transform="translate(411.70 171.60) scale(0.920 1)" font-size="4.20" text-anchor="start" fill="#808080">0.5</text>
<text transform="translate(411.70 176.30) scale(0.920 1)" font-size="4.20" text-anchor="start" fill="#808080">0.0</text>
<text transform="translate(439.50 137.59)" font-size="4.60" text-anchor="end" fill="#8a8a8a">20</text>
<text transform="translate(439.50 159.05)" font-size="4.60" text-anchor="end" fill="#8a8a8a">0</text>
<text transform="translate(439.50 180.51)" font-size="4.60" text-anchor="end" fill="#8a8a8a">-20</text>
<text transform="translate(450.30 204.80)" font-size="4.60" text-anchor="middle" fill="#8a8a8a">-20</text>
<text transform="translate(463.90 204.80)" font-size="4.60" text-anchor="middle" fill="#8a8a8a">0</text>
<text transform="translate(477.50 204.80)" font-size="4.60" text-anchor="middle" fill="#8a8a8a">20</text>
<text transform="translate(491.10 204.80)" font-size="4.60" text-anchor="middle" fill="#8a8a8a">40</text>
<text transform="translate(469.00 126.10)" font-size="7.10" text-anchor="middle" fill="#2a2a2a" textLength="15.40" lengthAdjust="spacingAndGlyphs">EDC4</text>
<text transform="translate(468.20 213.00) scale(0.800 1)" font-size="7.00" text-anchor="middle" fill="#3a3a3a">tSNE_1</text>
<text transform="translate(431.00 163.00) rotate(-90) scale(0.800 1)" font-size="7.00" text-anchor="middle" fill="#3a3a3a">tSNE_2</text>
<text transform="translate(499.20 152.50) scale(0.820 1)" font-size="4.40" text-anchor="start" fill="#777">EDC4</text>
<text transform="translate(504.40 156.40) scale(0.920 1)" font-size="4.20" text-anchor="start" fill="#808080">2.5</text>
<text transform="translate(504.40 160.40) scale(0.920 1)" font-size="4.20" text-anchor="start" fill="#808080">2.0</text>
<text transform="translate(504.40 164.40) scale(0.920 1)" font-size="4.20" text-anchor="start" fill="#808080">1.5</text>
<text transform="translate(504.40 168.40) scale(0.920 1)" font-size="4.20" text-anchor="start" fill="#808080">1.0</text>
<text transform="translate(504.40 172.40) scale(0.920 1)" font-size="4.20" text-anchor="start" fill="#808080">0.5</text>
<text transform="translate(504.40 176.40) scale(0.920 1)" font-size="4.20" text-anchor="start" fill="#808080">0.0</text>
<text transform="translate(175.90 240.89)" font-size="4.60" text-anchor="end" fill="#8a8a8a">20</text>
<text transform="translate(175.90 262.35)" font-size="4.60" text-anchor="end" fill="#8a8a8a">0</text>
<text transform="translate(175.90 283.81)" font-size="4.60" text-anchor="end" fill="#8a8a8a">-20</text>
<text transform="translate(186.70 308.10)" font-size="4.60" text-anchor="middle" fill="#8a8a8a">-20</text>
<text transform="translate(200.30 308.10)" font-size="4.60" text-anchor="middle" fill="#8a8a8a">0</text>
<text transform="translate(213.90 308.10)" font-size="4.60" text-anchor="middle" fill="#8a8a8a">20</text>
<text transform="translate(227.50 308.10)" font-size="4.60" text-anchor="middle" fill="#8a8a8a">40</text>
<text transform="translate(205.05 229.40)" font-size="7.10" text-anchor="middle" fill="#2a2a2a" textLength="20.30" lengthAdjust="spacingAndGlyphs">HOXA4</text>
<text transform="translate(204.60 316.30) scale(0.800 1)" font-size="7.00" text-anchor="middle" fill="#3a3a3a">tSNE_1</text>
<text transform="translate(167.40 266.30) rotate(-90) scale(0.800 1)" font-size="7.00" text-anchor="middle" fill="#3a3a3a">tSNE_2</text>
<text transform="translate(232.50 255.80) scale(0.820 1)" font-size="4.40" text-anchor="start" fill="#777">HOXA4</text>
<text transform="translate(237.70 264.90) scale(0.920 1)" font-size="4.20" text-anchor="start" fill="#808080">1.2</text>
<text transform="translate(237.70 270.00) scale(0.920 1)" font-size="4.20" text-anchor="start" fill="#808080">0.8</text>
<text transform="translate(237.70 275.10) scale(0.920 1)" font-size="4.20" text-anchor="start" fill="#808080">0.4</text>
<text transform="translate(237.70 280.10) scale(0.920 1)" font-size="4.20" text-anchor="start" fill="#808080">0.0</text>
<text transform="translate(262.30 240.89)" font-size="4.60" text-anchor="end" fill="#8a8a8a">20</text>
<text transform="translate(262.30 262.35)" font-size="4.60" text-anchor="end" fill="#8a8a8a">0</text>
<text transform="translate(262.30 283.81)" font-size="4.60" text-anchor="end" fill="#8a8a8a">-20</text>
<text transform="translate(275.90 308.10)" font-size="4.60" text-anchor="middle" fill="#8a8a8a">-20</text>
<text transform="translate(294.90 308.10)" font-size="4.60" text-anchor="middle" fill="#8a8a8a">0</text>
<text transform="translate(313.90 308.10)" font-size="4.60" text-anchor="middle" fill="#8a8a8a">20</text>
<text transform="translate(332.90 308.10)" font-size="4.60" text-anchor="middle" fill="#8a8a8a">40</text>
<text transform="translate(301.00 229.40)" font-size="7.10" text-anchor="middle" fill="#2a2a2a" textLength="20.10" lengthAdjust="spacingAndGlyphs">HOXB5</text>
<text transform="translate(300.80 316.30) scale(0.800 1)" font-size="7.00" text-anchor="middle" fill="#3a3a3a">tSNE_1</text>
<text transform="translate(253.80 266.30) rotate(-90) scale(0.800 1)" font-size="7.00" text-anchor="middle" fill="#3a3a3a">tSNE_2</text>
<text transform="translate(351.40 240.89)" font-size="4.60" text-anchor="end" fill="#8a8a8a">20</text>
<text transform="translate(351.40 262.35)" font-size="4.60" text-anchor="end" fill="#8a8a8a">0</text>
<text transform="translate(351.40 283.81)" font-size="4.60" text-anchor="end" fill="#8a8a8a">-20</text>
<text transform="translate(362.20 308.10)" font-size="4.60" text-anchor="middle" fill="#8a8a8a">-20</text>
<text transform="translate(375.80 308.10)" font-size="4.60" text-anchor="middle" fill="#8a8a8a">0</text>
<text transform="translate(389.40 308.10)" font-size="4.60" text-anchor="middle" fill="#8a8a8a">20</text>
<text transform="translate(403.00 308.10)" font-size="4.60" text-anchor="middle" fill="#8a8a8a">40</text>
<text transform="translate(380.65 229.40)" font-size="7.10" text-anchor="middle" fill="#2a2a2a" textLength="20.10" lengthAdjust="spacingAndGlyphs">HOXB6</text>
<text transform="translate(380.10 316.30) scale(0.800 1)" font-size="7.00" text-anchor="middle" fill="#3a3a3a">tSNE_1</text>
<text transform="translate(342.90 266.30) rotate(-90) scale(0.800 1)" font-size="7.00" text-anchor="middle" fill="#3a3a3a">tSNE_2</text>
<text transform="translate(408.70 255.80) scale(0.820 1)" font-size="4.40" text-anchor="start" fill="#777">HOXB6</text>
<text transform="translate(413.90 265.40) scale(0.920 1)" font-size="4.20" text-anchor="start" fill="#808080">0.4</text>
<text transform="translate(413.90 269.20) scale(0.920 1)" font-size="4.20" text-anchor="start" fill="#808080">0.3</text>
<text transform="translate(413.90 273.00) scale(0.920 1)" font-size="4.20" text-anchor="start" fill="#808080">0.2</text>
<text transform="translate(413.90 276.80) scale(0.920 1)" font-size="4.20" text-anchor="start" fill="#808080">0.1</text>
<text transform="translate(413.90 280.50) scale(0.920 1)" font-size="4.20" text-anchor="start" fill="#808080">0.0</text>
<text transform="translate(439.50 240.89)" font-size="4.60" text-anchor="end" fill="#8a8a8a">20</text>
<text transform="translate(439.50 262.35)" font-size="4.60" text-anchor="end" fill="#8a8a8a">0</text>
<text transform="translate(439.50 283.81)" font-size="4.60" text-anchor="end" fill="#8a8a8a">-20</text>
<text transform="translate(453.10 308.10)" font-size="4.60" text-anchor="middle" fill="#8a8a8a">-20</text>
<text transform="translate(472.10 308.10)" font-size="4.60" text-anchor="middle" fill="#8a8a8a">0</text>
<text transform="translate(491.10 308.10)" font-size="4.60" text-anchor="middle" fill="#8a8a8a">20</text>
<text transform="translate(510.10 308.10)" font-size="4.60" text-anchor="middle" fill="#8a8a8a">40</text>
<text transform="translate(477.50 229.40)" font-size="7.10" text-anchor="middle" fill="#2a2a2a" textLength="20.30" lengthAdjust="spacingAndGlyphs">HOXC4</text>
<text transform="translate(478.00 316.30) scale(0.800 1)" font-size="7.00" text-anchor="middle" fill="#3a3a3a">tSNE_1</text>
<text transform="translate(431.00 266.30) rotate(-90) scale(0.800 1)" font-size="7.00" text-anchor="middle" fill="#3a3a3a">tSNE_2</text></g>
<g shape-rendering="crispEdges"><rect x="0" y="0" width="520" height="1" fill="#555"/><rect x="1" y="1" width="518" height="1" fill="#aaa"/>
<rect x="0" y="0" width="1" height="372" fill="#444"/><rect x="1" y="2" width="1" height="369" fill="#8a8a8a"/>
<rect x="519" y="1" width="1" height="370" fill="#151515"/><rect x="518" y="2" width="1" height="368" fill="#7a7a7a"/>
<rect x="0" y="371" width="520" height="1" fill="#444"/><rect x="2" y="370" width="516" height="1" fill="#9a9a9a"/>
<rect x="0" y="0" width="1" height="1" fill="#999"/><rect x="519" y="371" width="1" height="1" fill="#888"/></g>
</svg></body></html>
